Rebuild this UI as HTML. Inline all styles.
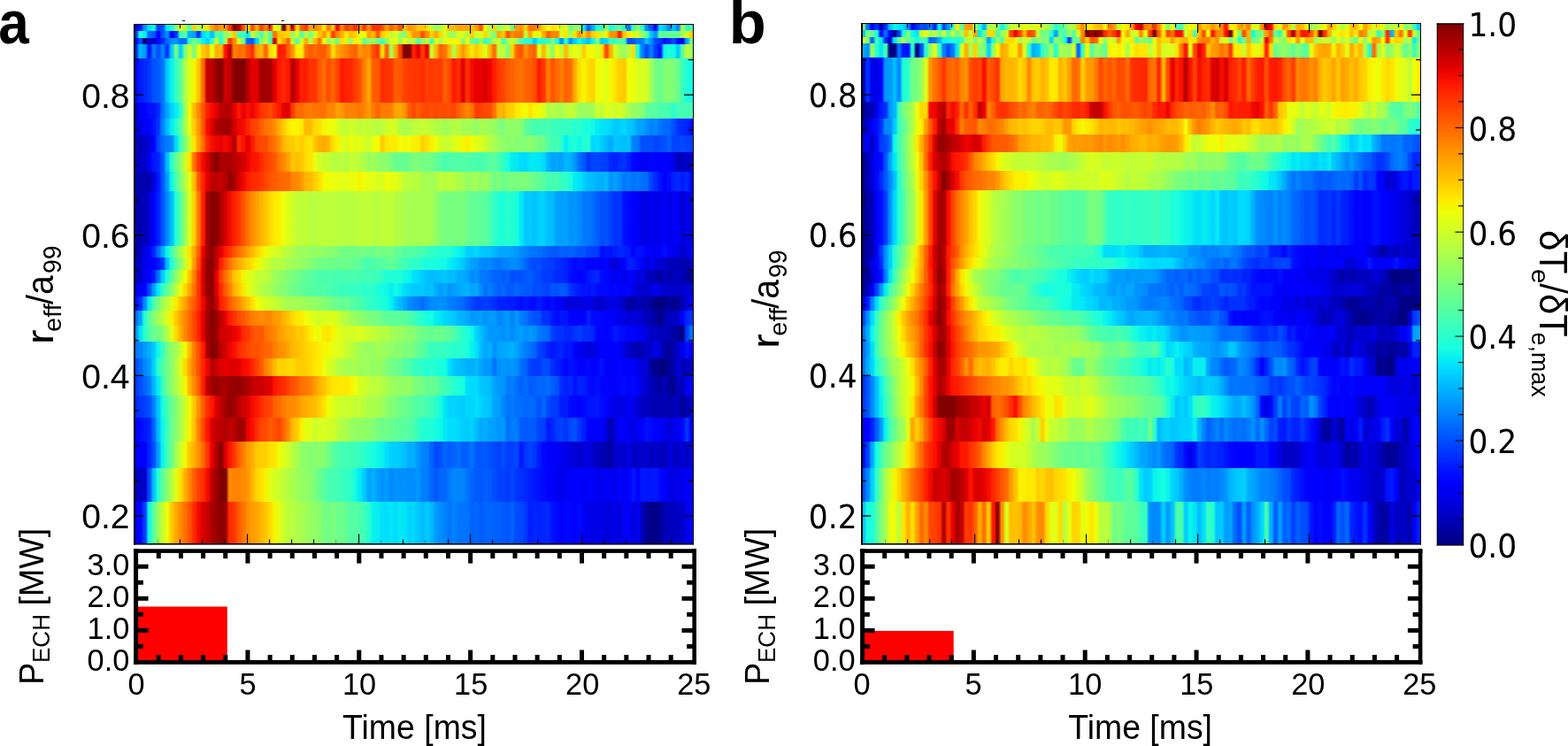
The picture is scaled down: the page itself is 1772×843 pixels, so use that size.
<!DOCTYPE html>
<html lang="en"><head><meta charset="utf-8"><title>Figure</title>
<style>
html,body{margin:0;padding:0;background:#fff}
body{width:1772px;height:843px;position:relative;overflow:hidden;font-family:"Liberation Sans",sans-serif}
.r{position:absolute}
svg{position:absolute;left:0;top:0}
svg text{font-family:"Liberation Sans",sans-serif;fill:#000}
svg text.dv{font-family:"DejaVu Sans","Liberation Sans",sans-serif}
</style></head><body>
<div class="r" style="left:151px;top:27px;width:633px;height:8px;background:linear-gradient(90deg,#0005ff 0.0px 3.5px,#0017ff 6.7px 8.5px,#0095ff 11.7px 13.6px,#00e1fa 16.8px 18.7px,#0ff8e8 21.9px 23.7px,#0042ff 26.9px 28.8px,#004fff 32.0px 33.8px,#03e9f4 37.0px 38.9px,#14fee3 42.1px 44.0px,#87ff70 47.2px 49.0px,#edff0a 52.2px 54.1px,#b7ff40 57.3px 59.2px,#4fffa8 62.4px 64.2px,#ffd000 67.4px 69.3px,#b1ff45 72.5px 74.4px,#ccff2b 77.6px 79.4px,#ffe600 82.6px 84.5px,#ffa100 87.7px 89.6px,#ff7b00 92.8px 94.6px,#ff9b00 97.8px 99.7px,#ff9700 102.9px 104.7px,#ff3700 107.9px 109.8px,#840000 113.0px 114.9px,#b80000 118.1px 119.9px,#ff4b00 123.1px 125.0px,#fcef00 128.2px 130.1px,#ff4900 133.3px 135.1px,#ffa800 138.3px 140.2px,#ff4200 143.4px 145.3px,#ff7e00 148.5px 150.3px,#ff2e00 153.5px 155.4px,#f2fb05 158.6px 160.4px,#c9ff2e 163.6px 165.5px,#800000 168.7px 170.6px,#ffb100 173.8px 175.6px,#ea0100 178.8px 180.7px,#ffe000 183.9px 185.8px,#ff5d00 189.0px 190.8px,#ff3a00 194.0px 195.9px,#ffab00 199.1px 201.0px,#ff8a00 204.2px 206.0px,#ffa000 209.2px 211.1px,#ffe500 214.3px 216.2px,#ff7700 219.4px 221.2px,#ffc000 224.4px 226.3px,#f70c00 229.5px 231.3px,#ff8500 234.5px 236.4px,#ff3e00 239.6px 241.5px,#ff5700 244.7px 246.5px,#ff2900 249.7px 251.6px,#ff8300 254.8px 256.7px,#ff3b00 259.9px 261.7px,#ff8d00 264.9px 266.8px,#ff3100 270.0px 271.9px,#ff3300 275.1px 276.9px,#ff5100 280.1px 282.0px,#ff9e00 285.2px 287.0px,#ff6100 290.2px 292.1px,#ff8700 295.3px 297.2px,#ff4800 300.4px 302.2px,#ffc100 305.4px 307.3px,#ff9800 310.5px 312.4px,#ffa200 315.6px 317.4px,#ffc500 320.6px 322.5px,#ffca00 325.7px 327.6px,#ffdd00 330.8px 332.6px,#c8ff2e 335.8px 337.7px,#94ff63 340.9px 342.8px,#adff4a 346.0px 347.8px,#e5ff12 351.0px 352.9px,#ffba00 356.1px 357.9px,#ffbb00 361.1px 363.0px,#ffa000 366.2px 368.1px,#ffa400 371.3px 373.1px,#ffa800 376.3px 378.2px,#ffc400 381.4px 383.3px,#ff9e00 386.5px 388.3px,#ff5200 391.5px 393.4px,#f2fb05 396.6px 398.5px,#adff4a 401.7px 403.5px,#ffd400 406.7px 408.6px,#9cff5b 411.8px 413.6px,#b4ff43 416.8px 418.7px,#d2ff25 421.9px 423.8px,#6aff8d 427.0px 428.8px,#ff9d00 432.0px 433.9px,#ff9500 437.1px 439.0px,#ffd200 442.2px 444.0px,#ff7200 447.2px 449.1px,#ff7a00 452.3px 454.2px,#ff9b00 457.4px 459.2px,#ffd800 462.4px 464.3px,#e6ff10 467.5px 469.4px,#ffe100 472.6px 474.4px,#faf200 477.6px 479.5px,#cbff2c 482.7px 484.5px,#f7f600 487.7px 489.6px,#64ff93 492.8px 494.7px,#91ff66 497.9px 499.7px,#89ff6d 502.9px 504.8px,#00e5f7 508.0px 509.9px,#005dff 513.1px 514.9px,#00b0ff 518.1px 520.0px,#1bffdc 523.2px 525.1px,#34ffc2 528.3px 530.1px,#8aff6d 533.3px 535.2px,#13fde4 538.4px 540.2px,#44ffb3 543.4px 545.3px,#5eff99 548.5px 550.4px,#20ffd7 553.6px 555.4px,#0072ff 558.6px 560.5px,#3bffbc 563.7px 565.6px,#8dff6a 568.8px 570.6px,#30ffc6 573.8px 575.7px,#008dff 578.9px 580.8px,#0056ff 584.0px 585.8px,#0008ff 589.0px 590.9px,#00e0fb 594.1px 596.0px,#00c7ff 599.2px 601.0px,#0089ff 604.2px 606.1px,#00c5ff 609.3px 611.1px,#0084ff 614.3px 616.2px,#a3ff53 619.4px 621.3px,#33ffc3 624.5px 626.3px,#3affbd 629.5px 633.0px)"></div>
<div class="r" style="left:151px;top:35px;width:633px;height:8px;background:linear-gradient(90deg,#003eff 0.0px 3.5px,#21ffd5 6.7px 8.5px,#08efef 11.7px 13.6px,#006bff 16.8px 18.7px,#0055ff 21.9px 23.7px,#0000ff 26.9px 28.8px,#0059ff 32.0px 33.8px,#0090ff 37.0px 38.9px,#0000f7 42.1px 44.0px,#0031ff 47.2px 49.0px,#36ffc0 52.2px 54.1px,#52ffa5 57.3px 59.2px,#00b1ff 62.4px 64.2px,#00a3ff 67.4px 69.3px,#0032ff 72.5px 74.4px,#00dbff 77.6px 79.4px,#0cf4eb 82.6px 84.5px,#00bfff 87.7px 89.6px,#4fffa8 92.8px 94.6px,#3fffb8 97.8px 99.7px,#8fff68 102.9px 104.7px,#b2ff45 107.9px 109.8px,#ffc900 113.0px 114.9px,#41ffb6 118.1px 119.9px,#3fffb8 123.1px 125.0px,#03e9f4 128.2px 130.1px,#c0ff37 133.3px 135.1px,#93ff63 138.3px 140.2px,#42ffb5 143.4px 145.3px,#b9ff3e 148.5px 150.3px,#4effa9 153.5px 155.4px,#ff7000 158.6px 160.4px,#ffc300 163.6px 165.5px,#ffcd00 168.7px 170.6px,#ffd600 173.8px 175.6px,#8aff6d 178.8px 180.7px,#d9ff1e 183.9px 185.8px,#53ffa4 189.0px 190.8px,#b5ff41 194.0px 195.9px,#79ff7e 199.1px 201.0px,#cfff28 204.2px 206.0px,#ffc500 209.2px 211.1px,#ff9700 214.3px 216.2px,#ffe000 219.4px 221.2px,#ff3e00 224.4px 226.3px,#ff8700 229.5px 231.3px,#ffad00 234.5px 236.4px,#feed00 239.6px 241.5px,#ffbc00 244.7px 246.5px,#ffce00 249.7px 251.6px,#e5ff11 254.8px 256.7px,#eaff0d 259.9px 261.7px,#ff9f00 264.9px 266.8px,#ffbb00 270.0px 271.9px,#ff5400 275.1px 276.9px,#ffcc00 280.1px 282.0px,#ffe800 285.2px 287.0px,#c1ff35 290.2px 292.1px,#daff1d 295.3px 297.2px,#9eff59 300.4px 302.2px,#7fff78 305.4px 307.3px,#ffdb00 310.5px 312.4px,#ff9700 315.6px 322.5px,#ff5100 325.7px 327.6px,#ff8a00 330.8px 332.6px,#ffd000 335.8px 337.7px,#ffa500 340.9px 342.8px,#ffda00 346.0px 347.8px,#d4ff23 351.0px 352.9px,#a5ff52 356.1px 357.9px,#95ff62 361.1px 363.0px,#d5ff22 366.2px 368.1px,#d8ff1f 371.3px 373.1px,#b4ff42 376.3px 378.2px,#ffcd00 381.4px 383.3px,#ceff29 386.5px 388.3px,#d3ff23 391.5px 393.4px,#ffda00 396.6px 398.5px,#a8ff4f 401.7px 403.5px,#7dff79 406.7px 408.6px,#ffa600 411.8px 413.6px,#ffc600 416.8px 418.7px,#ff5500 421.9px 423.8px,#ff8e00 427.0px 428.8px,#ff7900 432.0px 433.9px,#ff7500 437.1px 439.0px,#bdff3a 442.2px 444.0px,#ffa100 447.2px 449.1px,#e7ff10 452.3px 454.2px,#e4ff13 457.4px 459.2px,#ffae00 462.4px 464.3px,#ff6200 467.5px 469.4px,#ff8300 472.6px 474.4px,#ff8400 477.6px 479.5px,#d8ff1f 482.7px 484.5px,#ffe300 487.7px 489.6px,#9bff5c 492.8px 494.7px,#ffe000 497.9px 499.7px,#ff9000 502.9px 504.8px,#ffcc00 508.0px 509.9px,#ff8c00 513.1px 514.9px,#ffcd00 518.1px 520.0px,#ffe200 523.2px 525.1px,#ccff2a 528.3px 530.1px,#fbf000 533.3px 535.2px,#ff9300 538.4px 540.2px,#ff8e00 543.4px 545.3px,#ff2300 548.5px 550.4px,#ffc500 553.6px 555.4px,#ffea00 558.6px 560.5px,#e0ff16 563.7px 565.6px,#d1ff26 568.8px 570.6px,#9dff59 573.8px 575.7px,#5cff9b 578.9px 580.8px,#00c7ff 584.0px 585.8px,#008fff 589.0px 590.9px,#5fff98 594.1px 596.0px,#5aff9c 599.2px 601.0px,#68ff8f 604.2px 606.1px,#65ff92 609.3px 611.1px,#67ff8f 614.3px 616.2px,#a7ff50 619.4px 621.3px,#d3ff24 624.5px 626.3px,#ffcc00 629.5px 633.0px)"></div>
<div class="r" style="left:151px;top:43px;width:633px;height:7px;background:linear-gradient(90deg,#0007ff 0.0px 3.5px,#004cff 6.7px 8.5px,#000080 11.7px 13.6px,#0000d1 16.8px 18.7px,#0000c1 21.9px 23.7px,#0006ff 26.9px 28.8px,#0028ff 32.0px 33.8px,#0067ff 37.0px 38.9px,#0089ff 42.1px 44.0px,#0095ff 47.2px 49.0px,#006aff 52.2px 54.1px,#0070ff 57.3px 59.2px,#34ffc3 62.4px 64.2px,#6fff88 67.4px 69.3px,#47ffb0 72.5px 74.4px,#0bf3ec 77.6px 79.4px,#00d4ff 82.6px 84.5px,#2dffca 87.7px 89.6px,#d1ff26 92.8px 94.6px,#1fffd7 97.8px 99.7px,#a5ff51 102.9px 104.7px,#ff3500 107.9px 109.8px,#ff8b00 113.0px 114.9px,#dbff1c 118.1px 119.9px,#79ff7e 123.1px 125.0px,#0063ff 128.2px 130.1px,#005bff 133.3px 135.1px,#00d4ff 138.3px 140.2px,#89ff6e 143.4px 145.3px,#bfff38 148.5px 150.3px,#50ffa6 153.5px 155.4px,#c50000 158.6px 160.4px,#ffda00 163.6px 165.5px,#ffa800 168.7px 170.6px,#ff6400 173.8px 175.6px,#c3ff34 178.8px 180.7px,#51ffa6 183.9px 185.8px,#d2ff25 189.0px 190.8px,#ffaa00 194.0px 195.9px,#b2ff45 199.1px 201.0px,#ffbc00 204.2px 206.0px,#ff6a00 209.2px 211.1px,#ebff0c 214.3px 216.2px,#97ff60 219.4px 221.2px,#b6ff40 224.4px 226.3px,#70ff87 229.5px 231.3px,#ffdf00 234.5px 236.4px,#d5ff21 239.6px 241.5px,#96ff61 244.7px 246.5px,#fbf100 249.7px 251.6px,#dcff1b 254.8px 256.7px,#5fff98 259.9px 261.7px,#95ff62 264.9px 266.8px,#97ff60 270.0px 271.9px,#70ff87 275.1px 276.9px,#47ffb0 280.1px 282.0px,#8aff6d 285.2px 287.0px,#dfff18 290.2px 292.1px,#e6ff11 295.3px 297.2px,#98ff5e 300.4px 302.2px,#edff0a 305.4px 307.3px,#b1ff46 310.5px 312.4px,#b8ff3f 315.6px 317.4px,#52ffa5 320.6px 322.5px,#89ff6e 325.7px 327.6px,#bfff37 330.8px 332.6px,#4dffaa 335.8px 337.7px,#ddff1a 340.9px 342.8px,#abff4c 346.0px 347.8px,#e6ff11 351.0px 352.9px,#f2fb05 356.1px 357.9px,#f5f802 361.1px 363.0px,#faf200 366.2px 368.1px,#80ff77 371.3px 373.1px,#ebff0c 376.3px 378.2px,#6eff89 381.4px 383.3px,#4effa9 386.5px 388.3px,#a3ff54 391.5px 393.4px,#38ffbe 396.6px 398.5px,#63ff94 401.7px 403.5px,#b7ff40 406.7px 408.6px,#cfff28 411.8px 413.6px,#3fffb8 416.8px 418.7px,#9dff5a 421.9px 423.8px,#ceff29 427.0px 428.8px,#97ff60 432.0px 433.9px,#51ffa6 437.1px 439.0px,#24ffd2 442.2px 444.0px,#23ffd4 447.2px 449.1px,#00ccff 452.3px 454.2px,#1dffd9 457.4px 459.2px,#2effc9 462.4px 464.3px,#39ffbe 467.5px 469.4px,#7aff7d 472.6px 474.4px,#1effd9 477.6px 479.5px,#0094ff 482.7px 484.5px,#29ffce 487.7px 489.6px,#0094ff 492.8px 494.7px,#00d0ff 497.9px 499.7px,#10fae7 502.9px 504.8px,#00e1fa 508.0px 509.9px,#00c0ff 513.1px 514.9px,#0cf4eb 518.1px 520.0px,#85ff72 523.2px 525.1px,#00cbff 528.3px 530.1px,#00daff 533.3px 535.2px,#3fffb7 538.4px 540.2px,#33ffc4 543.4px 545.3px,#55ffa2 548.5px 550.4px,#48ffaf 553.6px 555.4px,#004bff 558.6px 560.5px,#0053ff 563.7px 565.6px,#0077ff 568.8px 570.6px,#0079ff 573.8px 575.7px,#00c2ff 578.9px 580.8px,#008fff 584.0px 585.8px,#0049ff 589.0px 590.9px,#003bff 594.1px 596.0px,#000eff 599.2px 601.0px,#0026ff 604.2px 606.1px,#004bff 609.3px 611.1px,#000aff 614.3px 616.2px,#0000f4 619.4px 621.3px,#00a2ff 624.5px 626.3px,#6dff8a 629.5px 633.0px)"></div>
<div class="r" style="left:151px;top:50px;width:633px;height:16px;background:linear-gradient(90deg,#002aff 0.0px 3.5px,#00b9ff 6.7px 8.5px,#009bff 11.7px 13.6px,#0012ff 16.8px 18.7px,#007cff 21.9px 23.7px,#004bff 26.9px 28.8px,#0084ff 32.0px 33.8px,#0032ff 37.0px 38.9px,#00cbff 42.1px 44.0px,#78ff7f 47.2px 49.0px,#00d0ff 52.2px 54.1px,#76ff81 57.3px 59.2px,#d3ff24 62.4px 64.2px,#74ff83 67.4px 69.3px,#ebff0c 72.5px 74.4px,#ffc900 77.6px 79.4px,#ffb100 82.6px 84.5px,#e7ff10 87.7px 89.6px,#ffb000 92.8px 94.6px,#ffb900 97.8px 99.7px,#fe1200 102.9px 104.7px,#bc0000 107.9px 109.8px,#ff8100 113.0px 114.9px,#ff6f00 118.1px 119.9px,#ff7300 123.1px 125.0px,#ff4d00 128.2px 130.1px,#ff2d00 133.3px 135.1px,#ffa000 138.3px 140.2px,#ffb100 143.4px 145.3px,#ff6500 148.5px 150.3px,#ffd600 153.5px 155.4px,#f3fa04 158.6px 160.4px,#ff1800 163.6px 165.5px,#ff1f00 168.7px 170.6px,#ff5e00 173.8px 175.6px,#ff9500 178.8px 180.7px,#feed00 183.9px 185.8px,#faf200 189.0px 190.8px,#ff6e00 194.0px 195.9px,#ff5a00 199.1px 201.0px,#ff6700 204.2px 206.0px,#ff5c00 209.2px 211.1px,#ff5900 214.3px 216.2px,#ff7c00 219.4px 221.2px,#ffde00 224.4px 226.3px,#ffa600 229.5px 231.3px,#ff9300 234.5px 236.4px,#ff8000 239.6px 241.5px,#ff6c00 244.7px 246.5px,#ff6100 249.7px 251.6px,#ff9800 254.8px 256.7px,#ff8000 259.9px 261.7px,#ff8b00 264.9px 266.8px,#ff4f00 270.0px 271.9px,#ff3200 275.1px 276.9px,#ffdf00 280.1px 282.0px,#ff5a00 285.2px 287.0px,#a7ff50 290.2px 292.1px,#ffae00 295.3px 297.2px,#ff4000 300.4px 302.2px,#800000 305.4px 312.4px,#ff2100 315.6px 317.4px,#e40000 320.6px 322.5px,#ff3800 325.7px 327.6px,#e30000 330.8px 332.6px,#c8ff2e 335.8px 337.7px,#ffb700 340.9px 342.8px,#ff6000 346.0px 347.8px,#ff7100 351.0px 352.9px,#ffbb00 356.1px 357.9px,#b0ff47 361.1px 363.0px,#ffc700 366.2px 368.1px,#ff9700 371.3px 373.1px,#ffc200 376.3px 378.2px,#ffe700 381.4px 383.3px,#ffca00 386.5px 388.3px,#ffe100 391.5px 393.4px,#deff18 396.6px 398.5px,#ffb700 401.7px 403.5px,#ff6b00 406.7px 408.6px,#c1ff36 411.8px 413.6px,#c2ff35 416.8px 418.7px,#7eff79 421.9px 423.8px,#ffd500 427.0px 428.8px,#ff6800 432.0px 433.9px,#ff5300 437.1px 439.0px,#ff9000 442.2px 444.0px,#ff7000 447.2px 449.1px,#ff6000 452.3px 454.2px,#ddff1a 457.4px 459.2px,#ffb800 462.4px 464.3px,#ccff2b 467.5px 469.4px,#8fff68 472.6px 474.4px,#f4f903 477.6px 479.5px,#c0ff36 482.7px 484.5px,#ffbb00 487.7px 489.6px,#d1ff26 492.8px 494.7px,#ecff0b 497.9px 499.7px,#d7ff20 502.9px 504.8px,#ffce00 508.0px 509.9px,#f1fc05 513.1px 514.9px,#f4f802 518.1px 520.0px,#d1ff25 523.2px 525.1px,#ffe500 528.3px 530.1px,#ff4800 533.3px 535.2px,#ffb400 538.4px 540.2px,#d7ff20 543.4px 545.3px,#aeff48 548.5px 550.4px,#95ff62 553.6px 555.4px,#b8ff3f 558.6px 560.5px,#ffde00 563.7px 565.6px,#1effd9 568.8px 570.6px,#0084ff 573.8px 575.7px,#0049ff 578.9px 580.8px,#0080ff 584.0px 585.8px,#003aff 589.0px 590.9px,#0016ff 594.1px 596.0px,#0cf4eb 599.2px 601.0px,#1dffda 604.2px 606.1px,#15ffe2 609.3px 611.1px,#00cbff 614.3px 616.2px,#59ff9e 619.4px 621.3px,#bfff38 624.5px 626.3px,#9cff5b 629.5px 633.0px)"></div>
<div class="r" style="left:151px;top:66px;width:633px;height:50px;background:linear-gradient(90deg,#0007ff 0.0px 3.5px,#001aff 6.7px 8.5px,#0029ff 11.7px 13.6px,#0036ff 16.8px 18.7px,#0052ff 21.9px 23.7px,#0059ff 26.9px 28.8px,#0075ff 32.0px 33.8px,#00caff 37.0px 38.9px,#0af2ed 42.1px 44.0px,#33ffc4 47.2px 49.0px,#5dff9a 52.2px 54.1px,#aaff4c 57.3px 59.2px,#ddff1a 62.4px 64.2px,#f5f701 67.4px 69.3px,#ffc700 72.5px 74.4px,#ff6800 77.6px 79.4px,#c10000 82.6px 84.5px,#bb0000 87.7px 89.6px,#990000 92.8px 94.6px,#800000 97.8px 99.7px,#cf0000 102.9px 104.7px,#bf0000 107.9px 109.8px,#870000 113.0px 114.9px,#800000 118.1px 125.0px,#b40000 128.2px 130.1px,#e50000 133.3px 135.1px,#e20000 138.3px 140.2px,#a10000 143.4px 145.3px,#a00000 148.5px 150.3px,#a70000 153.5px 155.4px,#e20000 158.6px 160.4px,#ff1800 163.6px 165.5px,#ff2700 168.7px 170.6px,#ff1800 173.8px 175.6px,#b50000 178.8px 180.7px,#e60000 183.9px 185.8px,#ff2000 189.0px 190.8px,#ff1c00 194.0px 195.9px,#ff3500 199.1px 201.0px,#ff3200 204.2px 206.0px,#ff5600 209.2px 211.1px,#ff6d00 214.3px 216.2px,#ff4c00 219.4px 221.2px,#ff6400 224.4px 226.3px,#ff4600 229.5px 231.3px,#ff1800 234.5px 236.4px,#ff2300 239.6px 241.5px,#ff2600 244.7px 246.5px,#ff3c00 249.7px 251.6px,#ff5000 254.8px 256.7px,#ff8000 259.9px 261.7px,#ffa700 264.9px 266.8px,#ff5d00 270.0px 271.9px,#ff5a00 275.1px 276.9px,#ff2d00 280.1px 282.0px,#ff3200 285.2px 287.0px,#ff3400 290.2px 292.1px,#ff5c00 295.3px 297.2px,#ff5a00 300.4px 302.2px,#ff4200 305.4px 307.3px,#ff3b00 310.5px 312.4px,#ff3500 315.6px 322.5px,#ff2d00 325.7px 327.6px,#ff3f00 330.8px 332.6px,#ff3800 335.8px 337.7px,#ff3e00 340.9px 342.8px,#ff3800 346.0px 347.8px,#ff6000 351.0px 352.9px,#ff4800 356.1px 357.9px,#ff1800 361.1px 363.0px,#ff2c00 366.2px 368.1px,#e30000 371.3px 373.1px,#ff3100 376.3px 378.2px,#f40a00 381.4px 383.3px,#e60000 386.5px 388.3px,#e90100 391.5px 393.4px,#dd0000 396.6px 398.5px,#ed0400 401.7px 403.5px,#ff1d00 406.7px 408.6px,#ff3900 411.8px 413.6px,#ff4500 416.8px 418.7px,#ff5a00 421.9px 423.8px,#ff6200 427.0px 428.8px,#ff6c00 432.0px 433.9px,#ff7400 437.1px 439.0px,#ff6300 442.2px 444.0px,#ff5f00 447.2px 449.1px,#ff4e00 452.3px 454.2px,#ff1900 457.4px 459.2px,#ff3600 462.4px 464.3px,#ff7b00 467.5px 469.4px,#ff5500 472.6px 474.4px,#ff6700 477.6px 479.5px,#ff8000 482.7px 484.5px,#ff6100 487.7px 489.6px,#ff6f00 492.8px 494.7px,#ffad00 497.9px 499.7px,#ffdf00 502.9px 504.8px,#f7f500 508.0px 509.9px,#ffdd00 513.1px 514.9px,#ffd400 518.1px 520.0px,#f2fb05 523.2px 525.1px,#eeff09 528.3px 530.1px,#e1ff15 533.3px 535.2px,#f5f802 538.4px 540.2px,#ffe400 543.4px 545.3px,#ffcf00 548.5px 550.4px,#ffc900 553.6px 555.4px,#f0fe07 558.6px 560.5px,#eeff09 563.7px 565.6px,#d8ff1f 568.8px 570.6px,#d9ff1e 573.8px 575.7px,#d3ff24 578.9px 580.8px,#a0ff57 584.0px 585.8px,#77ff7f 589.0px 590.9px,#68ff8f 594.1px 596.0px,#81ff76 599.2px 601.0px,#85ff72 604.2px 606.1px,#7dff7a 609.3px 611.1px,#6cff8b 614.3px 616.2px,#39ffbe 619.4px 621.3px,#1effd9 624.5px 626.3px,#13fde4 629.5px 633.0px)"></div>
<div class="r" style="left:151px;top:116px;width:633px;height:18px;background:linear-gradient(90deg,#0000bf 0.0px 3.5px,#0000f6 6.7px 8.5px,#0001ff 11.7px 13.6px,#000fff 16.8px 18.7px,#0010ff 21.9px 23.7px,#0026ff 26.9px 28.8px,#0074ff 32.0px 33.8px,#00a3ff 37.0px 38.9px,#00d3ff 42.1px 44.0px,#05ecf1 47.2px 49.0px,#2cffca 52.2px 54.1px,#9aff5d 57.3px 59.2px,#f4f903 62.4px 64.2px,#ffbc00 67.4px 69.3px,#ff8700 72.5px 74.4px,#ff5700 77.6px 79.4px,#ff2000 82.6px 84.5px,#f60b00 87.7px 89.6px,#e70000 92.8px 94.6px,#bb0000 97.8px 99.7px,#b40000 102.9px 104.7px,#b70000 107.9px 109.8px,#e20000 113.0px 114.9px,#ff1500 118.1px 119.9px,#e80000 123.1px 125.0px,#fb1000 128.2px 130.1px,#ed0400 133.3px 135.1px,#ff1600 138.3px 140.2px,#ff3500 143.4px 145.3px,#ff3e00 148.5px 150.3px,#ff4a00 153.5px 155.4px,#ff3200 158.6px 160.4px,#ff1900 163.6px 165.5px,#e60000 168.7px 170.6px,#dc0000 173.8px 175.6px,#ff3800 178.8px 180.7px,#ff6a00 183.9px 190.8px,#ff7800 194.0px 195.9px,#ff7a00 199.1px 201.0px,#ff7500 204.2px 206.0px,#ff7300 209.2px 211.1px,#ff7000 214.3px 216.2px,#ff8700 219.4px 221.2px,#ff8500 224.4px 226.3px,#ff9f00 229.5px 231.3px,#ff9800 234.5px 236.4px,#ff8000 239.6px 241.5px,#ff8200 244.7px 246.5px,#ff8000 249.7px 251.6px,#ff7800 254.8px 256.7px,#ff8600 259.9px 261.7px,#ff9900 264.9px 266.8px,#ff7b00 270.0px 271.9px,#ff6400 275.1px 276.9px,#ff7b00 280.1px 282.0px,#ff7900 285.2px 287.0px,#ff7f00 290.2px 292.1px,#ffa400 295.3px 297.2px,#ffa700 300.4px 302.2px,#ff9500 305.4px 307.3px,#ff5d00 310.5px 312.4px,#ff4800 315.6px 317.4px,#ff5e00 320.6px 322.5px,#ff4c00 325.7px 327.6px,#ff4800 330.8px 332.6px,#ff5000 335.8px 337.7px,#ff4600 340.9px 342.8px,#ff4e00 346.0px 347.8px,#ff4a00 351.0px 352.9px,#ff4e00 356.1px 357.9px,#ff4600 361.1px 363.0px,#ff5e00 366.2px 368.1px,#ff7100 371.3px 373.1px,#ff8600 376.3px 378.2px,#ff7200 381.4px 383.3px,#ff3b00 386.5px 388.3px,#ff4100 391.5px 393.4px,#ff4a00 396.6px 398.5px,#ff4c00 401.7px 403.5px,#ff7400 406.7px 408.6px,#ffba00 411.8px 413.6px,#ffaf00 416.8px 418.7px,#ffce00 421.9px 423.8px,#ffd100 427.0px 428.8px,#ffe900 432.0px 433.9px,#fbf100 437.1px 439.0px,#f1fc06 442.2px 444.0px,#ffe300 447.2px 449.1px,#f6f701 452.3px 454.2px,#eeff09 457.4px 459.2px,#e1ff16 462.4px 464.3px,#b0ff46 467.5px 469.4px,#b5ff42 472.6px 474.4px,#aeff49 477.6px 479.5px,#a7ff50 482.7px 484.5px,#b8ff3f 487.7px 489.6px,#c4ff32 492.8px 494.7px,#baff3c 497.9px 499.7px,#96ff61 502.9px 504.8px,#9cff5b 508.0px 509.9px,#9dff5a 513.1px 514.9px,#9eff58 518.1px 520.0px,#cbff2c 523.2px 525.1px,#bdff39 528.3px 530.1px,#ddff1a 533.3px 535.2px,#d8ff1f 538.4px 540.2px,#caff2d 543.4px 545.3px,#daff1d 548.5px 550.4px,#beff39 553.6px 555.4px,#abff4c 558.6px 560.5px,#94ff62 563.7px 565.6px,#92ff65 568.8px 570.6px,#85ff71 573.8px 575.7px,#60ff96 578.9px 580.8px,#5aff9d 584.0px 585.8px,#55ffa1 589.0px 590.9px,#4cffaa 594.1px 596.0px,#48ffae 599.2px 601.0px,#45ffb1 604.2px 606.1px,#2bffcc 609.3px 611.1px,#44ffb3 614.3px 616.2px,#44ffb2 619.4px 621.3px,#42ffb5 624.5px 626.3px,#47ffb0 629.5px 633.0px)"></div>
<div class="r" style="left:151px;top:134px;width:633px;height:19px;background:linear-gradient(90deg,#0000cb 0.0px 3.5px,#0000e7 6.7px 8.5px,#0000f7 11.7px 13.6px,#0000ff 16.8px 18.7px,#0013ff 21.9px 23.7px,#0032ff 26.9px 28.8px,#0085ff 32.0px 33.8px,#00bdff 37.0px 38.9px,#06edf0 42.1px 44.0px,#22ffd4 47.2px 49.0px,#56ffa1 52.2px 54.1px,#a0ff56 57.3px 59.2px,#e6ff11 62.4px 64.2px,#ffcc00 67.4px 69.3px,#ff9900 72.5px 74.4px,#ff5700 77.6px 79.4px,#f70c00 82.6px 84.5px,#de0000 87.7px 89.6px,#ad0000 92.8px 94.6px,#a40000 97.8px 99.7px,#9d0000 102.9px 104.7px,#a50000 107.9px 109.8px,#d40000 113.0px 114.9px,#f00700 118.1px 119.9px,#f40a00 123.1px 125.0px,#ff2300 128.2px 130.1px,#ff3e00 133.3px 135.1px,#ff4700 138.3px 140.2px,#ff5d00 143.4px 145.3px,#ff7200 148.5px 150.3px,#ff7a00 153.5px 155.4px,#ff8e00 158.6px 160.4px,#ffae00 163.6px 165.5px,#ffca00 168.7px 170.6px,#ffea00 173.8px 175.6px,#f4f903 178.8px 180.7px,#f9f300 183.9px 185.8px,#ffea00 189.0px 190.8px,#ffb800 194.0px 195.9px,#ffbd00 199.1px 201.0px,#ffde00 204.2px 206.0px,#ffe000 209.2px 211.1px,#f4f903 214.3px 216.2px,#eeff09 219.4px 221.2px,#ecff0a 224.4px 226.3px,#dbff1c 229.5px 231.3px,#c5ff32 234.5px 236.4px,#c6ff30 239.6px 241.5px,#d1ff26 244.7px 246.5px,#caff2d 249.7px 251.6px,#bcff3b 254.8px 256.7px,#c7ff30 259.9px 261.7px,#c0ff36 264.9px 266.8px,#bcff3b 270.0px 271.9px,#b6ff40 275.1px 276.9px,#bcff3b 280.1px 282.0px,#cbff2c 285.2px 287.0px,#d9ff1d 290.2px 292.1px,#ceff28 295.3px 297.2px,#b3ff43 300.4px 302.2px,#a9ff4e 305.4px 307.3px,#afff48 310.5px 312.4px,#bdff3a 315.6px 317.4px,#beff39 320.6px 322.5px,#c7ff30 325.7px 327.6px,#c4ff33 330.8px 332.6px,#bbff3c 335.8px 337.7px,#aeff48 340.9px 342.8px,#aeff49 346.0px 347.8px,#9fff58 351.0px 352.9px,#a8ff4f 356.1px 357.9px,#b5ff42 361.1px 368.1px,#a2ff55 371.3px 373.1px,#a3ff54 376.3px 378.2px,#a1ff56 381.4px 383.3px,#8eff69 386.5px 388.3px,#aaff4d 391.5px 393.4px,#a2ff54 396.6px 398.5px,#9aff5d 401.7px 403.5px,#99ff5e 406.7px 408.6px,#83ff74 411.8px 413.6px,#7aff7d 416.8px 418.7px,#94ff63 421.9px 423.8px,#8eff69 427.0px 428.8px,#90ff67 432.0px 433.9px,#84ff72 437.1px 439.0px,#5fff97 442.2px 444.0px,#51ffa5 447.2px 449.1px,#40ffb7 452.3px 454.2px,#48ffaf 457.4px 459.2px,#42ffb5 462.4px 464.3px,#49ffae 467.5px 469.4px,#3bffbb 472.6px 474.4px,#3affbc 477.6px 479.5px,#35ffc2 482.7px 484.5px,#32ffc5 487.7px 489.6px,#35ffc1 492.8px 494.7px,#21ffd6 497.9px 499.7px,#2dffc9 502.9px 504.8px,#1cffdb 508.0px 509.9px,#17ffe0 513.1px 514.9px,#10fae6 518.1px 520.0px,#05ecf1 523.2px 525.1px,#00e4f8 528.3px 530.1px,#00dffc 533.3px 535.2px,#00d8ff 538.4px 540.2px,#00c9ff 543.4px 545.3px,#00cfff 548.5px 550.4px,#00d7ff 553.6px 555.4px,#00c8ff 558.6px 560.5px,#00c0ff 563.7px 565.6px,#00a5ff 568.8px 570.6px,#00a3ff 573.8px 575.7px,#0092ff 578.9px 580.8px,#0082ff 584.0px 585.8px,#008bff 589.0px 590.9px,#0073ff 594.1px 596.0px,#0069ff 599.2px 606.1px,#004fff 609.3px 611.1px,#0033ff 614.3px 616.2px,#002aff 619.4px 621.3px,#0022ff 624.5px 626.3px,#000aff 629.5px 633.0px)"></div>
<div class="r" style="left:151px;top:153px;width:633px;height:19px;background:linear-gradient(90deg,#0000b4 0.0px 3.5px,#0000b9 6.7px 8.5px,#0000c4 11.7px 13.6px,#0000db 16.8px 18.7px,#0000ff 21.9px 23.7px,#0046ff 26.9px 28.8px,#0069ff 32.0px 33.8px,#007aff 37.0px 38.9px,#0089ff 42.1px 44.0px,#00ddfd 47.2px 49.0px,#3dffba 52.2px 54.1px,#7eff79 57.3px 59.2px,#c9ff2d 62.4px 64.2px,#ffe600 67.4px 69.3px,#ffa400 72.5px 74.4px,#ff6b00 77.6px 79.4px,#ff2700 82.6px 84.5px,#f70c00 87.7px 89.6px,#ee0500 92.8px 94.6px,#e70000 97.8px 99.7px,#f30900 102.9px 104.7px,#e70000 107.9px 109.8px,#b10000 113.0px 114.9px,#ff2c00 118.1px 119.9px,#fd1200 123.1px 125.0px,#e00000 128.2px 130.1px,#ff1600 133.3px 135.1px,#ff3e00 138.3px 140.2px,#ff4a00 143.4px 145.3px,#ff4800 148.5px 150.3px,#ff6600 153.5px 155.4px,#ff7500 158.6px 160.4px,#ff8e00 163.6px 165.5px,#ffb600 168.7px 170.6px,#ffc700 173.8px 175.6px,#ffca00 178.8px 180.7px,#ffda00 183.9px 185.8px,#ffca00 189.0px 190.8px,#ffde00 194.0px 195.9px,#ffe700 199.1px 201.0px,#ffc300 204.2px 206.0px,#ffb100 209.2px 211.1px,#ffac00 214.3px 216.2px,#ffb800 219.4px 221.2px,#ffdf00 224.4px 226.3px,#f9f300 229.5px 231.3px,#e5ff12 234.5px 236.4px,#d4ff23 239.6px 241.5px,#f2fa04 244.7px 246.5px,#dcff1b 249.7px 251.6px,#e6ff11 254.8px 256.7px,#d5ff22 259.9px 261.7px,#caff2d 264.9px 266.8px,#edff09 270.0px 271.9px,#f2fc05 275.1px 276.9px,#ffcd00 280.1px 282.0px,#ffe700 285.2px 287.0px,#feed00 290.2px 292.1px,#ffeb00 295.3px 297.2px,#f0fe07 300.4px 302.2px,#f4f903 305.4px 307.3px,#f0fd07 310.5px 312.4px,#fcf000 315.6px 317.4px,#fdee00 320.6px 322.5px,#ffd200 325.7px 327.6px,#ffe000 330.8px 332.6px,#fbf100 335.8px 337.7px,#eeff09 340.9px 342.8px,#d3ff23 346.0px 347.8px,#c9ff2e 351.0px 352.9px,#c8ff2f 356.1px 357.9px,#deff19 361.1px 363.0px,#e5ff11 366.2px 368.1px,#f3fa04 371.3px 373.1px,#fcef00 376.3px 378.2px,#effe07 381.4px 383.3px,#e3ff14 386.5px 388.3px,#dcff1b 391.5px 393.4px,#caff2d 396.6px 398.5px,#b9ff3e 401.7px 403.5px,#a5ff52 406.7px 408.6px,#99ff5e 411.8px 413.6px,#8fff68 416.8px 418.7px,#8aff6d 421.9px 423.8px,#8cff6b 427.0px 428.8px,#85ff71 432.0px 433.9px,#86ff71 437.1px 439.0px,#7fff78 442.2px 444.0px,#8dff69 447.2px 449.1px,#80ff76 452.3px 454.2px,#70ff87 457.4px 459.2px,#74ff83 462.4px 464.3px,#50ffa7 467.5px 469.4px,#41ffb6 472.6px 474.4px,#4affad 477.6px 479.5px,#29ffce 482.7px 484.5px,#05ecf2 487.7px 489.6px,#19ffde 492.8px 494.7px,#1fffd8 497.9px 499.7px,#0ff8e8 502.9px 504.8px,#25ffd1 508.0px 509.9px,#27ffd0 513.1px 514.9px,#00d7ff 518.1px 520.0px,#00ddfe 523.2px 525.1px,#00cdff 528.3px 530.1px,#00bbff 533.3px 535.2px,#00a9ff 538.4px 540.2px,#00c5ff 543.4px 545.3px,#00c2ff 548.5px 550.4px,#00bdff 553.6px 555.4px,#00c5ff 558.6px 560.5px,#0080ff 563.7px 565.6px,#007aff 568.8px 570.6px,#004fff 573.8px 575.7px,#004eff 578.9px 580.8px,#0051ff 584.0px 585.8px,#0044ff 589.0px 590.9px,#004aff 594.1px 596.0px,#0051ff 599.2px 601.0px,#0061ff 604.2px 606.1px,#0043ff 609.3px 611.1px,#0041ff 614.3px 616.2px,#0049ff 619.4px 621.3px,#0040ff 624.5px 626.3px,#003eff 629.5px 633.0px)"></div>
<div class="r" style="left:151px;top:172px;width:633px;height:22px;background:linear-gradient(90deg,#0000b4 0.0px 3.5px,#0000c9 6.7px 8.5px,#0000c5 11.7px 13.6px,#0000f6 16.8px 18.7px,#0016ff 21.9px 23.7px,#0022ff 26.9px 28.8px,#0057ff 32.0px 33.8px,#00bdff 37.0px 38.9px,#2cffca 42.1px 44.0px,#61ff96 47.2px 49.0px,#92ff65 52.2px 54.1px,#cbff2c 57.3px 59.2px,#ffe700 62.4px 64.2px,#ff7200 67.4px 69.3px,#ff3400 72.5px 74.4px,#f30900 77.6px 79.4px,#d20000 82.6px 84.5px,#a40000 87.7px 89.6px,#850000 92.8px 94.6px,#ab0000 97.8px 99.7px,#ac0000 102.9px 104.7px,#a60000 107.9px 109.8px,#b80000 113.0px 114.9px,#c60000 118.1px 119.9px,#d00000 123.1px 125.0px,#ec0300 128.2px 130.1px,#fd1200 133.3px 135.1px,#ff1400 138.3px 140.2px,#ff2900 143.4px 145.3px,#ff3e00 148.5px 150.3px,#ff4900 153.5px 155.4px,#ff5700 158.6px 160.4px,#ff7700 163.6px 165.5px,#ff8a00 168.7px 170.6px,#ffa100 173.8px 175.6px,#ffc500 178.8px 180.7px,#ffbe00 183.9px 185.8px,#ffc900 189.0px 190.8px,#ffdd00 194.0px 195.9px,#ffe400 199.1px 201.0px,#e8ff0f 204.2px 206.0px,#d2ff25 209.2px 211.1px,#c5ff32 214.3px 216.2px,#c9ff2d 219.4px 221.2px,#b4ff43 224.4px 226.3px,#b8ff3f 229.5px 231.3px,#bdff3a 234.5px 236.4px,#b0ff47 239.6px 241.5px,#c5ff31 244.7px 246.5px,#c0ff37 249.7px 251.6px,#b6ff41 254.8px 256.7px,#adff49 259.9px 261.7px,#99ff5e 264.9px 266.8px,#a1ff56 270.0px 271.9px,#91ff66 275.1px 276.9px,#8fff68 280.1px 282.0px,#8bff6b 285.2px 287.0px,#77ff7f 290.2px 292.1px,#69ff8d 295.3px 297.2px,#66ff91 300.4px 302.2px,#67ff90 305.4px 307.3px,#6bff8c 310.5px 312.4px,#7eff79 315.6px 317.4px,#7cff7b 320.6px 322.5px,#74ff83 325.7px 332.6px,#6fff88 335.8px 337.7px,#62ff95 340.9px 342.8px,#56ffa1 346.0px 347.8px,#49ffae 351.0px 352.9px,#4bffac 356.1px 357.9px,#52ffa4 361.1px 363.0px,#4effa9 366.2px 368.1px,#53ffa4 371.3px 373.1px,#4effa9 376.3px 383.3px,#4affad 386.5px 388.3px,#46ffb0 391.5px 393.4px,#4dffaa 396.6px 398.5px,#55ffa2 401.7px 403.5px,#5eff99 406.7px 408.6px,#46ffb1 411.8px 413.6px,#37ffc0 416.8px 418.7px,#15ffe2 421.9px 423.8px,#05ebf2 427.0px 428.8px,#03e9f4 432.0px 433.9px,#00dbff 437.1px 439.0px,#00daff 442.2px 444.0px,#02e8f5 447.2px 454.2px,#00e6f6 457.4px 459.2px,#00dbff 462.4px 464.3px,#00b5ff 467.5px 469.4px,#00a3ff 472.6px 474.4px,#00a6ff 477.6px 479.5px,#00a2ff 482.7px 484.5px,#00b8ff 487.7px 489.6px,#00aeff 492.8px 494.7px,#0096ff 497.9px 499.7px,#006dff 502.9px 504.8px,#0058ff 508.0px 509.9px,#0032ff 513.1px 514.9px,#0043ff 518.1px 520.0px,#0044ff 523.2px 525.1px,#003fff 528.3px 530.1px,#003dff 533.3px 535.2px,#0027ff 538.4px 540.2px,#0020ff 543.4px 545.3px,#002cff 548.5px 550.4px,#0033ff 553.6px 555.4px,#001eff 558.6px 560.5px,#0007ff 563.7px 565.6px,#0000ff 568.8px 570.6px,#0000f7 573.8px 575.7px,#0000f0 578.9px 580.8px,#0003ff 584.0px 585.8px,#0000ff 589.0px 601.0px,#0000fa 604.2px 606.1px,#0000ea 609.3px 611.1px,#0000ba 614.3px 616.2px,#0000c1 619.4px 621.3px,#0000cd 624.5px 626.3px,#0000c3 629.5px 633.0px)"></div>
<div class="r" style="left:151px;top:194px;width:633px;height:22px;background:linear-gradient(90deg,#0000ac 0.0px 3.5px,#0000af 6.7px 8.5px,#0000ae 11.7px 13.6px,#0000ad 16.8px 18.7px,#0000de 21.9px 23.7px,#0014ff 26.9px 28.8px,#0058ff 32.0px 33.8px,#009eff 37.0px 38.9px,#0ef7e9 42.1px 44.0px,#4cffab 47.2px 49.0px,#7dff7a 52.2px 54.1px,#b4ff43 57.3px 59.2px,#e4ff12 62.4px 64.2px,#ffbe00 67.4px 69.3px,#ff5a00 72.5px 74.4px,#ff2000 77.6px 79.4px,#e40000 82.6px 84.5px,#c00000 87.7px 89.6px,#bc0000 92.8px 94.6px,#c60000 97.8px 99.7px,#b40000 102.9px 104.7px,#8e0000 107.9px 109.8px,#ab0000 113.0px 114.9px,#d40000 118.1px 119.9px,#ef0600 123.1px 125.0px,#ff1a00 128.2px 130.1px,#ff2900 133.3px 135.1px,#ff2d00 138.3px 140.2px,#ff3500 143.4px 145.3px,#ff4300 148.5px 150.3px,#ff5400 153.5px 155.4px,#ff5c00 158.6px 160.4px,#ff6500 163.6px 165.5px,#ff6800 168.7px 170.6px,#ff6b00 173.8px 175.6px,#ff8200 178.8px 180.7px,#ff8900 183.9px 185.8px,#ff9a00 189.0px 190.8px,#ffb400 194.0px 195.9px,#ffba00 199.1px 201.0px,#ffce00 204.2px 206.0px,#ffe100 209.2px 211.1px,#f2fb05 214.3px 216.2px,#edff09 219.4px 221.2px,#ecff0b 224.4px 226.3px,#e8ff0f 229.5px 231.3px,#e3ff14 234.5px 236.4px,#e4ff12 239.6px 241.5px,#e8ff0f 244.7px 246.5px,#ebff0b 249.7px 251.6px,#f8f400 254.8px 256.7px,#effe08 259.9px 261.7px,#e3ff13 264.9px 266.8px,#e3ff14 270.0px 271.9px,#d8ff1f 275.1px 276.9px,#d7ff20 280.1px 282.0px,#efff08 285.2px 287.0px,#e6ff10 290.2px 292.1px,#e5ff12 295.3px 297.2px,#d4ff23 300.4px 302.2px,#c0ff37 305.4px 307.3px,#beff38 310.5px 312.4px,#b3ff44 315.6px 317.4px,#baff3c 320.6px 322.5px,#a5ff52 325.7px 327.6px,#a7ff50 330.8px 332.6px,#a3ff54 335.8px 337.7px,#a9ff4e 340.9px 342.8px,#c0ff36 346.0px 347.8px,#b6ff40 351.0px 352.9px,#c1ff36 356.1px 357.9px,#b9ff3d 361.1px 363.0px,#aaff4c 366.2px 368.1px,#a6ff51 371.3px 373.1px,#95ff62 376.3px 378.2px,#9dff59 381.4px 383.3px,#a1ff56 386.5px 388.3px,#94ff62 391.5px 393.4px,#a0ff57 396.6px 398.5px,#89ff6e 401.7px 403.5px,#71ff86 406.7px 408.6px,#82ff75 411.8px 413.6px,#68ff8f 416.8px 418.7px,#77ff80 421.9px 423.8px,#7cff7a 427.0px 428.8px,#77ff80 432.0px 433.9px,#7fff78 437.1px 439.0px,#7bff7b 442.2px 444.0px,#73ff84 447.2px 449.1px,#69ff8e 452.3px 454.2px,#5eff99 457.4px 459.2px,#57ff9f 462.4px 464.3px,#46ffb1 467.5px 469.4px,#44ffb2 472.6px 474.4px,#48ffaf 477.6px 479.5px,#32ffc4 482.7px 489.6px,#1bffdc 492.8px 494.7px,#04ebf2 497.9px 499.7px,#00e6f6 502.9px 504.8px,#00d1ff 508.0px 509.9px,#00c1ff 513.1px 514.9px,#00bdff 518.1px 520.0px,#00b2ff 523.2px 525.1px,#00b0ff 528.3px 530.1px,#00b8ff 533.3px 535.2px,#0093ff 538.4px 540.2px,#00a1ff 543.4px 545.3px,#008fff 548.5px 550.4px,#0077ff 553.6px 555.4px,#0082ff 558.6px 560.5px,#0073ff 563.7px 565.6px,#007aff 568.8px 570.6px,#006fff 573.8px 575.7px,#006cff 578.9px 580.8px,#0042ff 584.0px 585.8px,#002cff 589.0px 590.9px,#0011ff 594.1px 596.0px,#0000fa 599.2px 601.0px,#000bff 604.2px 606.1px,#001fff 609.3px 611.1px,#0027ff 614.3px 616.2px,#001aff 619.4px 621.3px,#0027ff 624.5px 626.3px,#0003ff 629.5px 633.0px)"></div>
<div class="r" style="left:151px;top:216px;width:633px;height:62px;background:linear-gradient(90deg,#0000a6 0.0px 3.5px,#0000b0 6.7px 8.5px,#0000b8 11.7px 13.6px,#0000d4 16.8px 18.7px,#0000ff 21.9px 23.7px,#001fff 26.9px 28.8px,#0052ff 32.0px 33.8px,#0088ff 37.0px 38.9px,#00bfff 42.1px 44.0px,#22ffd5 47.2px 49.0px,#54ffa3 52.2px 54.1px,#96ff61 57.3px 59.2px,#dbff1b 62.4px 64.2px,#ffd000 67.4px 69.3px,#ff7700 72.5px 74.4px,#ff1b00 77.6px 79.4px,#a10000 82.6px 84.5px,#830000 87.7px 89.6px,#8d0000 92.8px 94.6px,#ad0000 97.8px 99.7px,#d40000 102.9px 104.7px,#f40a00 107.9px 109.8px,#ff2000 113.0px 114.9px,#ff3500 118.1px 119.9px,#ff5400 123.1px 125.0px,#ff7400 128.2px 130.1px,#ff8d00 133.3px 135.1px,#ffa000 138.3px 140.2px,#ffb600 143.4px 145.3px,#ffc500 148.5px 150.3px,#ffda00 153.5px 155.4px,#ffe900 158.6px 160.4px,#fcf000 163.6px 165.5px,#ebff0c 168.7px 170.6px,#dcff1b 173.8px 175.6px,#d2ff24 178.8px 180.7px,#bfff38 183.9px 185.8px,#beff38 189.0px 190.8px,#c1ff35 194.0px 195.9px,#b7ff40 199.1px 201.0px,#b9ff3e 204.2px 206.0px,#bdff3a 209.2px 216.2px,#bcff3b 219.4px 221.2px,#bfff38 224.4px 226.3px,#b8ff3f 229.5px 231.3px,#baff3d 234.5px 236.4px,#b6ff41 239.6px 241.5px,#b7ff40 244.7px 246.5px,#bbff3c 249.7px 251.6px,#beff38 254.8px 256.7px,#c1ff36 259.9px 266.8px,#baff3d 270.0px 276.9px,#bdff3a 280.1px 282.0px,#c1ff36 285.2px 287.0px,#c0ff37 290.2px 292.1px,#b4ff42 295.3px 297.2px,#b2ff45 300.4px 302.2px,#aaff4d 305.4px 307.3px,#a2ff55 310.5px 312.4px,#a8ff4f 315.6px 317.4px,#a9ff4e 320.6px 322.5px,#a6ff51 325.7px 327.6px,#abff4b 330.8px 332.6px,#a3ff54 335.8px 337.7px,#90ff67 340.9px 342.8px,#85ff72 346.0px 347.8px,#77ff80 351.0px 352.9px,#74ff83 356.1px 357.9px,#7aff7d 361.1px 363.0px,#78ff7f 366.2px 368.1px,#7cff7b 371.3px 373.1px,#6bff8b 376.3px 378.2px,#61ff96 381.4px 383.3px,#65ff92 386.5px 388.3px,#5aff9d 391.5px 393.4px,#5fff98 396.6px 398.5px,#49ffae 401.7px 403.5px,#30ffc7 406.7px 408.6px,#21ffd6 411.8px 413.6px,#1cffdb 416.8px 418.7px,#29ffcd 421.9px 423.8px,#23ffd3 427.0px 428.8px,#19ffde 432.0px 433.9px,#03e9f4 437.1px 439.0px,#00caff 442.2px 449.1px,#00c0ff 452.3px 454.2px,#00d2ff 457.4px 459.2px,#00d3ff 462.4px 464.3px,#00beff 467.5px 469.4px,#00bdff 472.6px 474.4px,#00a3ff 477.6px 479.5px,#009eff 482.7px 484.5px,#00a3ff 487.7px 489.6px,#0093ff 492.8px 494.7px,#0097ff 497.9px 499.7px,#008cff 502.9px 504.8px,#007aff 508.0px 509.9px,#0078ff 513.1px 514.9px,#006fff 518.1px 520.0px,#005dff 523.2px 525.1px,#004fff 528.3px 530.1px,#0054ff 533.3px 535.2px,#0040ff 538.4px 540.2px,#0032ff 543.4px 545.3px,#0035ff 548.5px 550.4px,#000dff 553.6px 555.4px,#0009ff 558.6px 560.5px,#0000ff 563.7px 565.6px,#0000fa 568.8px 570.6px,#0000eb 573.8px 575.7px,#0000df 578.9px 580.8px,#0000f5 584.0px 585.8px,#0000ed 589.0px 590.9px,#0000e9 594.1px 596.0px,#0000ff 599.2px 601.0px,#0000e6 604.2px 606.1px,#0000fb 609.3px 611.1px,#0000f9 614.3px 616.2px,#0000d1 619.4px 621.3px,#0000f5 624.5px 626.3px,#0000d6 629.5px 633.0px)"></div>
<div class="r" style="left:151px;top:278px;width:633px;height:13px;background:linear-gradient(90deg,#00009c 0.0px 3.5px,#0000be 6.7px 8.5px,#0000e5 11.7px 13.6px,#0000ff 16.8px 18.7px,#0026ff 21.9px 23.7px,#006cff 26.9px 28.8px,#00adff 32.0px 33.8px,#0df5ea 37.0px 38.9px,#42ffb4 42.1px 44.0px,#79ff7e 47.2px 49.0px,#aaff4c 52.2px 54.1px,#d7ff20 57.3px 59.2px,#ffe400 62.4px 64.2px,#ffab00 67.4px 69.3px,#ff5e00 72.5px 74.4px,#eb0300 77.6px 79.4px,#a40000 82.6px 84.5px,#8c0000 87.7px 89.6px,#be0000 92.8px 94.6px,#e30000 97.8px 99.7px,#ff1b00 102.9px 104.7px,#ff3600 107.9px 109.8px,#ff5400 113.0px 114.9px,#ff6f00 118.1px 119.9px,#ff8700 123.1px 125.0px,#ffa200 128.2px 130.1px,#ffb700 133.3px 135.1px,#ffd200 138.3px 140.2px,#ffe700 143.4px 145.3px,#f3fa04 148.5px 150.3px,#e0ff17 153.5px 155.4px,#daff1c 158.6px 160.4px,#d1ff26 163.6px 165.5px,#bfff38 168.7px 170.6px,#b7ff40 173.8px 175.6px,#abff4c 178.8px 180.7px,#9fff58 183.9px 185.8px,#98ff5e 189.0px 190.8px,#9dff5a 194.0px 195.9px,#91ff65 199.1px 201.0px,#94ff63 204.2px 206.0px,#97ff5f 209.2px 211.1px,#8dff6a 214.3px 216.2px,#8cff6b 219.4px 221.2px,#86ff71 224.4px 226.3px,#80ff77 229.5px 231.3px,#74ff82 234.5px 236.4px,#71ff86 239.6px 241.5px,#74ff83 244.7px 246.5px,#70ff87 249.7px 251.6px,#75ff82 254.8px 256.7px,#74ff83 259.9px 261.7px,#6dff8a 264.9px 266.8px,#68ff8f 270.0px 271.9px,#7aff7d 275.1px 276.9px,#70ff87 280.1px 282.0px,#77ff7f 285.2px 287.0px,#75ff82 290.2px 292.1px,#62ff95 295.3px 297.2px,#63ff94 300.4px 302.2px,#53ffa4 305.4px 307.3px,#56ffa1 310.5px 312.4px,#51ffa6 315.6px 317.4px,#4affac 320.6px 322.5px,#47ffb0 325.7px 327.6px,#3cffbb 330.8px 332.6px,#2effc9 335.8px 337.7px,#2affcc 340.9px 342.8px,#24ffd3 346.0px 347.8px,#25ffd2 351.0px 352.9px,#28ffcf 356.1px 357.9px,#11fbe5 361.1px 363.0px,#0cf4eb 366.2px 368.1px,#05ecf1 371.3px 373.1px,#00d1ff 376.3px 383.3px,#00d8ff 386.5px 388.3px,#00c9ff 391.5px 398.5px,#00c2ff 401.7px 403.5px,#00b8ff 406.7px 408.6px,#00a9ff 411.8px 413.6px,#00a5ff 416.8px 418.7px,#00a7ff 421.9px 423.8px,#00a2ff 427.0px 428.8px,#0099ff 432.0px 433.9px,#008cff 437.1px 439.0px,#0085ff 442.2px 444.0px,#0078ff 447.2px 449.1px,#0076ff 452.3px 454.2px,#006fff 457.4px 459.2px,#006aff 462.4px 464.3px,#0061ff 467.5px 469.4px,#0057ff 472.6px 474.4px,#005aff 477.6px 479.5px,#0063ff 482.7px 484.5px,#005cff 487.7px 489.6px,#0064ff 492.8px 494.7px,#005fff 497.9px 499.7px,#0050ff 502.9px 504.8px,#0055ff 508.0px 509.9px,#0042ff 513.1px 514.9px,#0041ff 518.1px 520.0px,#003cff 523.2px 525.1px,#000aff 528.3px 530.1px,#0016ff 533.3px 535.2px,#0011ff 538.4px 540.2px,#001dff 543.4px 545.3px,#0025ff 548.5px 550.4px,#0021ff 553.6px 555.4px,#001bff 558.6px 560.5px,#0000ff 563.7px 565.6px,#000fff 568.8px 570.6px,#000cff 573.8px 575.7px,#0000ff 578.9px 585.8px,#0000ee 589.0px 590.9px,#0000ff 594.1px 596.0px,#000eff 599.2px 601.0px,#0000ff 604.2px 606.1px,#0000f0 609.3px 611.1px,#0000e6 614.3px 616.2px,#0000cb 619.4px 621.3px,#0000dd 624.5px 626.3px,#0000fc 629.5px 633.0px)"></div>
<div class="r" style="left:151px;top:291px;width:633px;height:14px;background:linear-gradient(90deg,#0000b6 0.0px 3.5px,#0000ca 6.7px 8.5px,#0000e5 11.7px 13.6px,#0000ff 16.8px 23.7px,#0012ff 26.9px 28.8px,#003dff 32.0px 33.8px,#00beff 37.0px 38.9px,#22ffd5 42.1px 44.0px,#5cff9a 47.2px 49.0px,#8dff6a 52.2px 54.1px,#c0ff37 57.3px 59.2px,#fcef00 62.4px 64.2px,#ff9b00 67.4px 69.3px,#ff4b00 72.5px 74.4px,#d90000 77.6px 79.4px,#940000 82.6px 84.5px,#830000 87.7px 89.6px,#c10000 92.8px 94.6px,#ff1e00 97.8px 99.7px,#ff4c00 102.9px 104.7px,#ff7100 107.9px 109.8px,#ff9200 113.0px 114.9px,#ffab00 118.1px 119.9px,#ffbc00 123.1px 125.0px,#ffd300 128.2px 130.1px,#ffe200 133.3px 135.1px,#f5f802 138.3px 140.2px,#e0ff17 143.4px 145.3px,#cfff28 148.5px 150.3px,#c2ff35 153.5px 155.4px,#b4ff43 158.6px 160.4px,#b4ff42 163.6px 165.5px,#b2ff44 168.7px 170.6px,#a3ff54 173.8px 175.6px,#a2ff55 178.8px 180.7px,#9cff5b 183.9px 185.8px,#94ff63 189.0px 190.8px,#8dff69 194.0px 195.9px,#86ff71 199.1px 201.0px,#79ff7e 204.2px 206.0px,#74ff83 209.2px 211.1px,#6fff88 214.3px 216.2px,#6dff8a 219.4px 221.2px,#6fff88 224.4px 226.3px,#67ff8f 229.5px 231.3px,#6cff8b 234.5px 236.4px,#6cff8a 239.6px 241.5px,#67ff90 244.7px 246.5px,#62ff95 249.7px 251.6px,#5fff98 254.8px 256.7px,#4affad 259.9px 261.7px,#47ffaf 264.9px 266.8px,#4dffaa 270.0px 271.9px,#54ffa3 275.1px 276.9px,#55ffa1 280.1px 282.0px,#5dff9a 285.2px 287.0px,#61ff96 290.2px 292.1px,#5bff9c 295.3px 297.2px,#47ffaf 300.4px 302.2px,#45ffb2 305.4px 307.3px,#34ffc3 310.5px 312.4px,#2bffcb 315.6px 317.4px,#2fffc8 320.6px 322.5px,#20ffd7 325.7px 327.6px,#19ffde 330.8px 337.7px,#18ffdf 340.9px 342.8px,#12fce5 346.0px 347.8px,#11fbe6 351.0px 352.9px,#08efef 356.1px 357.9px,#00e3f9 361.1px 363.0px,#00d9ff 366.2px 368.1px,#00c7ff 371.3px 373.1px,#00b1ff 376.3px 378.2px,#00a3ff 381.4px 383.3px,#009aff 386.5px 388.3px,#008cff 391.5px 393.4px,#0082ff 396.6px 398.5px,#008bff 401.7px 403.5px,#007dff 406.7px 408.6px,#0079ff 411.8px 413.6px,#0081ff 416.8px 418.7px,#0083ff 421.9px 423.8px,#0090ff 427.0px 428.8px,#008dff 432.0px 433.9px,#007dff 437.1px 439.0px,#0068ff 442.2px 444.0px,#0050ff 447.2px 449.1px,#0049ff 452.3px 454.2px,#0050ff 457.4px 459.2px,#0041ff 462.4px 464.3px,#003cff 467.5px 469.4px,#0039ff 472.6px 474.4px,#002eff 477.6px 479.5px,#0028ff 482.7px 484.5px,#0021ff 487.7px 489.6px,#0012ff 492.8px 494.7px,#0006ff 497.9px 499.7px,#000dff 502.9px 504.8px,#000aff 508.0px 509.9px,#0000fd 513.1px 514.9px,#0001ff 518.1px 520.0px,#0000ff 523.2px 525.1px,#0000fa 528.3px 530.1px,#0003ff 533.3px 535.2px,#0000e4 538.4px 540.2px,#0000d4 543.4px 545.3px,#0000ed 548.5px 550.4px,#0000ff 553.6px 555.4px,#0020ff 558.6px 560.5px,#001aff 563.7px 565.6px,#000bff 568.8px 570.6px,#0000ff 573.8px 575.7px,#0000d8 578.9px 580.8px,#0000f4 584.0px 585.8px,#0000dc 589.0px 590.9px,#0000d4 594.1px 596.0px,#0000c9 599.2px 601.0px,#0000b8 604.2px 606.1px,#0000b7 609.3px 611.1px,#0000bc 614.3px 616.2px,#0000ad 619.4px 626.3px,#0000c8 629.5px 633.0px)"></div>
<div class="r" style="left:151px;top:305px;width:633px;height:15px;background:linear-gradient(90deg,#0000b2 0.0px 3.5px,#0000ce 6.7px 8.5px,#0000e9 11.7px 13.6px,#0000ff 16.8px 18.7px,#001bff 21.9px 23.7px,#0073ff 26.9px 28.8px,#00cdff 32.0px 33.8px,#20ffd7 37.0px 38.9px,#57ffa0 42.1px 44.0px,#8dff69 47.2px 49.0px,#beff38 52.2px 54.1px,#efff08 57.3px 59.2px,#ffc600 62.4px 64.2px,#ff8000 67.4px 69.3px,#ff3300 72.5px 74.4px,#d20000 77.6px 79.4px,#8e0000 82.6px 84.5px,#910000 87.7px 89.6px,#e60000 92.8px 94.6px,#ff3e00 97.8px 99.7px,#ff6f00 102.9px 104.7px,#ff9400 107.9px 109.8px,#ffc600 113.0px 114.9px,#ffd400 118.1px 119.9px,#f7f500 123.1px 125.0px,#ddff1a 128.2px 130.1px,#dbff1c 133.3px 135.1px,#c6ff31 138.3px 140.2px,#c0ff37 143.4px 145.3px,#c1ff36 148.5px 150.3px,#b2ff45 153.5px 155.4px,#9dff5a 158.6px 160.4px,#95ff62 163.6px 165.5px,#8eff69 168.7px 170.6px,#7fff78 173.8px 175.6px,#7cff7b 178.8px 180.7px,#6fff87 183.9px 185.8px,#66ff91 189.0px 190.8px,#5fff98 194.0px 195.9px,#59ff9e 199.1px 201.0px,#52ffa5 204.2px 206.0px,#48ffaf 209.2px 211.1px,#49ffae 214.3px 216.2px,#4affad 219.4px 221.2px,#49ffae 224.4px 226.3px,#45ffb2 229.5px 231.3px,#46ffb1 234.5px 236.4px,#44ffb3 239.6px 241.5px,#4affac 244.7px 246.5px,#49ffae 249.7px 251.6px,#43ffb3 254.8px 256.7px,#42ffb5 259.9px 261.7px,#41ffb5 264.9px 266.8px,#3effb9 270.0px 271.9px,#3cffba 275.1px 276.9px,#30ffc7 280.1px 282.0px,#21ffd6 285.2px 292.1px,#1effd9 295.3px 297.2px,#22ffd5 300.4px 302.2px,#11fae6 305.4px 307.3px,#0ef6e9 310.5px 312.4px,#00e2fa 315.6px 317.4px,#00dbff 320.6px 322.5px,#00caff 325.7px 327.6px,#00c2ff 330.8px 332.6px,#00baff 335.8px 337.7px,#00bdff 340.9px 342.8px,#00c3ff 346.0px 347.8px,#00c6ff 351.0px 352.9px,#00bdff 356.1px 357.9px,#00beff 361.1px 363.0px,#00adff 366.2px 368.1px,#00aeff 371.3px 373.1px,#00a3ff 376.3px 378.2px,#0089ff 381.4px 383.3px,#0092ff 386.5px 388.3px,#007aff 391.5px 393.4px,#0079ff 396.6px 398.5px,#006fff 401.7px 403.5px,#0063ff 406.7px 408.6px,#0064ff 411.8px 413.6px,#0059ff 416.8px 418.7px,#0064ff 421.9px 423.8px,#004bff 427.0px 428.8px,#0054ff 432.0px 433.9px,#004fff 437.1px 439.0px,#0058ff 442.2px 444.0px,#005fff 447.2px 449.1px,#004eff 452.3px 454.2px,#0049ff 457.4px 459.2px,#003aff 462.4px 464.3px,#003cff 467.5px 469.4px,#0034ff 472.6px 474.4px,#0029ff 477.6px 479.5px,#0027ff 482.7px 484.5px,#0023ff 487.7px 489.6px,#000bff 492.8px 494.7px,#0006ff 497.9px 499.7px,#0000ff 502.9px 504.8px,#0003ff 508.0px 509.9px,#0017ff 513.1px 514.9px,#0022ff 518.1px 520.0px,#0028ff 523.2px 525.1px,#0007ff 528.3px 535.2px,#0000ff 538.4px 540.2px,#0000ee 543.4px 545.3px,#0000ff 548.5px 550.4px,#0000e6 553.6px 555.4px,#0000fc 558.6px 560.5px,#0000fe 563.7px 565.6px,#0000d7 568.8px 570.6px,#0000e6 573.8px 575.7px,#0000c2 578.9px 580.8px,#0000bc 584.0px 585.8px,#0000b3 589.0px 590.9px,#00009a 594.1px 596.0px,#0000c4 599.2px 601.0px,#0000a9 604.2px 606.1px,#0000bb 609.3px 611.1px,#0000c5 614.3px 616.2px,#0000b1 619.4px 621.3px,#0000a2 624.5px 626.3px,#00008c 629.5px 633.0px)"></div>
<div class="r" style="left:151px;top:320px;width:633px;height:15px;background:linear-gradient(90deg,#0000e4 0.0px 3.5px,#0000f5 6.7px 8.5px,#0001ff 11.7px 13.6px,#0047ff 16.8px 18.7px,#009eff 21.9px 23.7px,#03eaf3 26.9px 28.8px,#34ffc3 32.0px 33.8px,#5fff98 37.0px 38.9px,#88ff6e 42.1px 44.0px,#bbff3c 47.2px 49.0px,#ecff0a 52.2px 54.1px,#ffd800 57.3px 59.2px,#ffa800 62.4px 64.2px,#ff7100 67.4px 69.3px,#ff3500 72.5px 74.4px,#d60000 77.6px 79.4px,#940000 82.6px 84.5px,#8e0000 87.7px 89.6px,#e00000 92.8px 94.6px,#ff2a00 97.8px 99.7px,#ff5b00 102.9px 104.7px,#ff7f00 107.9px 109.8px,#ffb100 113.0px 114.9px,#ffce00 118.1px 119.9px,#ffe500 123.1px 125.0px,#e5ff11 128.2px 130.1px,#d5ff22 133.3px 135.1px,#c4ff32 138.3px 140.2px,#b6ff41 143.4px 145.3px,#abff4c 148.5px 150.3px,#a4ff52 153.5px 155.4px,#96ff61 158.6px 160.4px,#88ff6e 163.6px 165.5px,#84ff73 168.7px 170.6px,#7cff7b 173.8px 175.6px,#6fff87 178.8px 180.7px,#68ff8f 183.9px 185.8px,#62ff95 189.0px 190.8px,#58ff9f 194.0px 195.9px,#56ffa1 199.1px 201.0px,#52ffa5 204.2px 206.0px,#4effa9 209.2px 211.1px,#51ffa6 214.3px 216.2px,#48ffaf 219.4px 221.2px,#43ffb4 224.4px 226.3px,#41ffb6 229.5px 231.3px,#36ffc0 234.5px 236.4px,#3affbd 239.6px 241.5px,#35ffc1 244.7px 246.5px,#38ffbf 249.7px 251.6px,#34ffc3 254.8px 256.7px,#29ffce 259.9px 261.7px,#2dffc9 264.9px 266.8px,#2bffcc 270.0px 271.9px,#17ffdf 275.1px 276.9px,#18ffdf 280.1px 282.0px,#0ff8e8 285.2px 287.0px,#06edf1 290.2px 292.1px,#11fbe6 295.3px 297.2px,#08efef 300.4px 302.2px,#00dbff 305.4px 307.3px,#00d4ff 310.5px 312.4px,#00caff 315.6px 317.4px,#00c7ff 320.6px 322.5px,#00cbff 325.7px 327.6px,#00bbff 330.8px 332.6px,#00c5ff 335.8px 337.7px,#00aeff 340.9px 342.8px,#009dff 346.0px 347.8px,#00a8ff 351.0px 352.9px,#0094ff 356.1px 357.9px,#009fff 361.1px 363.0px,#00a8ff 366.2px 368.1px,#00aeff 371.3px 373.1px,#00b3ff 376.3px 378.2px,#00a3ff 381.4px 383.3px,#00a9ff 386.5px 388.3px,#008dff 391.5px 393.4px,#0071ff 396.6px 398.5px,#0080ff 401.7px 403.5px,#006eff 406.7px 408.6px,#005eff 411.8px 413.6px,#006bff 416.8px 418.7px,#0058ff 421.9px 423.8px,#005dff 427.0px 428.8px,#0068ff 432.0px 433.9px,#005cff 437.1px 439.0px,#0058ff 442.2px 444.0px,#0059ff 447.2px 449.1px,#004aff 452.3px 454.2px,#0050ff 457.4px 459.2px,#0047ff 462.4px 464.3px,#0043ff 467.5px 469.4px,#0056ff 472.6px 474.4px,#0050ff 477.6px 479.5px,#005cff 482.7px 484.5px,#0054ff 487.7px 489.6px,#0033ff 492.8px 494.7px,#0026ff 497.9px 499.7px,#0017ff 502.9px 504.8px,#0013ff 508.0px 509.9px,#0010ff 513.1px 514.9px,#0018ff 518.1px 520.0px,#000bff 523.2px 525.1px,#0007ff 528.3px 530.1px,#0009ff 533.3px 535.2px,#0000ff 538.4px 540.2px,#0005ff 543.4px 545.3px,#0000ff 548.5px 555.4px,#0004ff 558.6px 560.5px,#0000e9 563.7px 565.6px,#0000d7 568.8px 570.6px,#0000c9 573.8px 575.7px,#0000d5 578.9px 580.8px,#0000db 584.0px 585.8px,#0000f0 589.0px 590.9px,#0000e5 594.1px 596.0px,#0000cd 599.2px 601.0px,#0000ca 604.2px 606.1px,#0000d2 609.3px 611.1px,#0000c2 614.3px 616.2px,#0000ce 619.4px 621.3px,#0000da 624.5px 626.3px,#0000ce 629.5px 633.0px)"></div>
<div class="r" style="left:151px;top:335px;width:633px;height:16px;background:linear-gradient(90deg,#000eff 0.0px 3.5px,#002bff 6.7px 8.5px,#008bff 11.7px 13.6px,#09f0ee 16.8px 18.7px,#4affac 21.9px 23.7px,#78ff7e 26.9px 28.8px,#a1ff56 32.0px 33.8px,#bcff3b 37.0px 38.9px,#d9ff1d 42.1px 44.0px,#ffea00 47.2px 49.0px,#ffc500 52.2px 54.1px,#ffa400 57.3px 59.2px,#ff7800 62.4px 64.2px,#ff5a00 67.4px 69.3px,#ff3100 72.5px 74.4px,#f00600 77.6px 79.4px,#b00000 82.6px 84.5px,#8b0000 87.7px 89.6px,#c40000 92.8px 94.6px,#ff1e00 97.8px 99.7px,#ff3500 102.9px 104.7px,#ff5d00 107.9px 109.8px,#ff7700 113.0px 114.9px,#ff8d00 118.1px 119.9px,#ffaa00 123.1px 125.0px,#ffc300 128.2px 130.1px,#ffde00 133.3px 135.1px,#f0fe07 138.3px 140.2px,#e3ff13 143.4px 145.3px,#d6ff21 148.5px 150.3px,#d0ff27 153.5px 155.4px,#c8ff2f 158.6px 160.4px,#bcff3b 163.6px 165.5px,#b0ff46 168.7px 170.6px,#a5ff52 173.8px 180.7px,#a1ff56 183.9px 190.8px,#9dff5a 194.0px 195.9px,#93ff64 199.1px 201.0px,#92ff65 204.2px 206.0px,#8eff69 209.2px 211.1px,#83ff74 214.3px 216.2px,#7aff7d 219.4px 221.2px,#72ff85 224.4px 226.3px,#68ff8f 229.5px 231.3px,#60ff97 234.5px 236.4px,#6dff8a 239.6px 241.5px,#57ffa0 244.7px 246.5px,#4effa9 249.7px 256.7px,#3fffb8 259.9px 261.7px,#32ffc5 264.9px 266.8px,#2affcd 270.0px 271.9px,#26ffd1 275.1px 276.9px,#1bffdb 280.1px 282.0px,#14ffe2 285.2px 287.0px,#09f1ee 290.2px 292.1px,#00d0ff 295.3px 297.2px,#00bbff 300.4px 302.2px,#00a5ff 305.4px 307.3px,#008eff 310.5px 312.4px,#0082ff 315.6px 317.4px,#007bff 320.6px 322.5px,#006eff 325.7px 327.6px,#007fff 330.8px 332.6px,#008bff 335.8px 342.8px,#0091ff 346.0px 347.8px,#008dff 351.0px 352.9px,#007eff 356.1px 357.9px,#0079ff 361.1px 363.0px,#0071ff 366.2px 368.1px,#0069ff 371.3px 373.1px,#0056ff 376.3px 378.2px,#0047ff 381.4px 383.3px,#0037ff 386.5px 393.4px,#003eff 396.6px 398.5px,#0036ff 401.7px 403.5px,#0030ff 406.7px 408.6px,#0021ff 411.8px 413.6px,#0020ff 416.8px 418.7px,#001dff 421.9px 423.8px,#001cff 427.0px 428.8px,#0015ff 432.0px 433.9px,#000bff 437.1px 439.0px,#0018ff 442.2px 444.0px,#000bff 447.2px 449.1px,#000aff 452.3px 454.2px,#001aff 457.4px 459.2px,#000cff 462.4px 464.3px,#0000ff 467.5px 469.4px,#000dff 472.6px 474.4px,#0000f9 477.6px 484.5px,#0000e1 487.7px 489.6px,#0000cf 492.8px 494.7px,#0000e8 497.9px 499.7px,#0000d6 502.9px 504.8px,#0000e5 508.0px 509.9px,#0000ed 513.1px 514.9px,#0000db 518.1px 520.0px,#0000d2 523.2px 525.1px,#0000c9 528.3px 530.1px,#0000db 533.3px 535.2px,#0000e4 538.4px 540.2px,#0000e5 543.4px 545.3px,#0000d7 548.5px 550.4px,#0000bc 553.6px 555.4px,#0000a4 558.6px 560.5px,#0000a1 563.7px 565.6px,#0000bb 568.8px 570.6px,#0000ad 573.8px 580.8px,#00009a 584.0px 585.8px,#000085 589.0px 590.9px,#000080 594.1px 596.0px,#000086 599.2px 601.0px,#00009a 604.2px 606.1px,#00008f 609.3px 611.1px,#000093 614.3px 616.2px,#0000b4 619.4px 621.3px,#0000d9 624.5px 626.3px,#0000fd 629.5px 633.0px)"></div>
<div class="r" style="left:151px;top:351px;width:633px;height:17px;background:linear-gradient(90deg,#006bff 0.0px 3.5px,#00a1ff 6.7px 8.5px,#23ffd3 11.7px 13.6px,#5bff9c 16.8px 18.7px,#82ff75 21.9px 23.7px,#a1ff56 26.9px 28.8px,#bbff3c 32.0px 33.8px,#d9ff1d 37.0px 38.9px,#fcef00 42.1px 44.0px,#ffca00 47.2px 49.0px,#ffa400 52.2px 54.1px,#ff8500 57.3px 59.2px,#ff6800 62.4px 64.2px,#ff4500 67.4px 69.3px,#ff1e00 72.5px 74.4px,#e00000 77.6px 79.4px,#9f0000 82.6px 84.5px,#800000 87.7px 89.6px,#9a0000 92.8px 94.6px,#bb0000 97.8px 99.7px,#e80000 102.9px 104.7px,#ff1b00 107.9px 109.8px,#ff3200 113.0px 114.9px,#ff4800 118.1px 119.9px,#ff5900 123.1px 125.0px,#ff6a00 128.2px 130.1px,#ff7d00 133.3px 135.1px,#ff8400 138.3px 140.2px,#ff8d00 143.4px 145.3px,#ff8500 148.5px 150.3px,#ff8700 153.5px 155.4px,#ff9c00 158.6px 160.4px,#ff9e00 163.6px 165.5px,#ffb500 168.7px 170.6px,#ffc400 173.8px 175.6px,#ffda00 178.8px 180.7px,#ffe800 183.9px 185.8px,#feed00 189.0px 190.8px,#efff08 194.0px 195.9px,#e7ff10 199.1px 201.0px,#daff1d 204.2px 206.0px,#d0ff26 209.2px 211.1px,#d8ff1f 214.3px 216.2px,#dcff1b 219.4px 221.2px,#ddff1a 224.4px 226.3px,#d2ff25 229.5px 231.3px,#beff39 234.5px 236.4px,#b1ff46 239.6px 241.5px,#a0ff57 244.7px 246.5px,#96ff61 249.7px 251.6px,#8eff69 254.8px 256.7px,#88ff6f 259.9px 261.7px,#7eff79 264.9px 266.8px,#7aff7d 270.0px 271.9px,#73ff84 275.1px 276.9px,#67ff90 280.1px 282.0px,#5fff98 285.2px 287.0px,#60ff97 290.2px 292.1px,#5aff9d 295.3px 297.2px,#5eff99 300.4px 302.2px,#56ffa1 305.4px 307.3px,#50ffa7 310.5px 312.4px,#3effb9 315.6px 317.4px,#2effc9 320.6px 322.5px,#26ffd0 325.7px 327.6px,#14ffe2 330.8px 332.6px,#13fee3 335.8px 337.7px,#07eef0 340.9px 342.8px,#00e5f7 346.0px 347.8px,#00d9ff 351.0px 352.9px,#00d1ff 356.1px 357.9px,#00caff 361.1px 363.0px,#00b9ff 366.2px 368.1px,#00b3ff 371.3px 373.1px,#00abff 376.3px 378.2px,#0099ff 381.4px 383.3px,#009bff 386.5px 388.3px,#00a1ff 391.5px 393.4px,#0093ff 396.6px 398.5px,#009dff 401.7px 403.5px,#009bff 406.7px 408.6px,#0084ff 411.8px 413.6px,#008fff 416.8px 418.7px,#009bff 421.9px 423.8px,#0081ff 427.0px 428.8px,#0099ff 432.0px 433.9px,#007dff 437.1px 439.0px,#0072ff 442.2px 444.0px,#005dff 447.2px 449.1px,#0054ff 452.3px 454.2px,#0050ff 457.4px 459.2px,#002fff 462.4px 464.3px,#0030ff 467.5px 469.4px,#0018ff 472.6px 474.4px,#000aff 477.6px 479.5px,#0016ff 482.7px 484.5px,#0014ff 487.7px 489.6px,#0000ff 492.8px 494.7px,#0001ff 497.9px 499.7px,#0000ff 502.9px 509.9px,#0020ff 513.1px 514.9px,#0007ff 518.1px 525.1px,#0003ff 528.3px 530.1px,#0000ff 533.3px 540.2px,#0000f1 543.4px 545.3px,#0000ef 548.5px 550.4px,#0000e5 553.6px 555.4px,#0000d3 558.6px 560.5px,#0000e0 563.7px 565.6px,#0000d6 568.8px 570.6px,#0000d4 573.8px 575.7px,#0000b6 578.9px 580.8px,#0000b7 584.0px 585.8px,#00009e 589.0px 590.9px,#000087 594.1px 596.0px,#0000b0 599.2px 601.0px,#0000c0 604.2px 606.1px,#0000c7 609.3px 611.1px,#0000ca 614.3px 616.2px,#0000ff 619.4px 621.3px,#0026ff 624.5px 626.3px,#0033ff 629.5px 633.0px)"></div>
<div class="r" style="left:151px;top:368px;width:633px;height:18px;background:linear-gradient(90deg,#0093ff 0.0px 3.5px,#00e3f9 6.7px 8.5px,#2effc9 11.7px 13.6px,#4effa9 16.8px 18.7px,#6aff8d 21.9px 23.7px,#72ff85 26.9px 28.8px,#86ff70 32.0px 33.8px,#b4ff43 37.0px 38.9px,#ddff1a 42.1px 44.0px,#ffdb00 47.2px 49.0px,#ffb100 52.2px 54.1px,#ff8500 57.3px 59.2px,#ff6700 62.4px 64.2px,#ff4a00 67.4px 69.3px,#ff2400 72.5px 74.4px,#e30000 77.6px 79.4px,#9c0000 82.6px 84.5px,#8b0000 87.7px 89.6px,#980000 92.8px 94.6px,#d10000 97.8px 99.7px,#d50000 102.9px 104.7px,#db0000 107.9px 109.8px,#eb0300 113.0px 114.9px,#f30900 118.1px 119.9px,#ff2b00 123.1px 125.0px,#ff3400 128.2px 130.1px,#ff4c00 133.3px 135.1px,#ff5d00 138.3px 140.2px,#ff5400 143.4px 145.3px,#ff7100 148.5px 150.3px,#ff7b00 153.5px 155.4px,#ff8700 158.6px 160.4px,#ff9b00 163.6px 165.5px,#ffa900 168.7px 170.6px,#ffb500 173.8px 175.6px,#ffb800 178.8px 180.7px,#ffca00 183.9px 185.8px,#ffc900 189.0px 190.8px,#ffd800 194.0px 195.9px,#ffec00 199.1px 201.0px,#f0fd06 204.2px 206.0px,#e9ff0d 209.2px 211.1px,#ffeb00 214.3px 216.2px,#ffe300 219.4px 221.2px,#f4f903 224.4px 226.3px,#e2ff15 229.5px 231.3px,#dbff1c 234.5px 236.4px,#d3ff24 239.6px 246.5px,#d7ff1f 249.7px 251.6px,#dbff1b 254.8px 256.7px,#d3ff23 259.9px 261.7px,#c7ff30 264.9px 266.8px,#c4ff33 270.0px 271.9px,#b5ff42 275.1px 287.0px,#a2ff55 290.2px 292.1px,#9eff59 295.3px 297.2px,#98ff5f 300.4px 302.2px,#96ff61 305.4px 307.3px,#88ff6e 310.5px 312.4px,#87ff70 315.6px 317.4px,#78ff7f 320.6px 322.5px,#6aff8d 325.7px 327.6px,#6dff89 330.8px 332.6px,#60ff97 335.8px 337.7px,#6dff89 340.9px 342.8px,#6aff8c 346.0px 347.8px,#65ff92 351.0px 352.9px,#60ff97 356.1px 357.9px,#50ffa7 361.1px 363.0px,#3affbd 366.2px 368.1px,#29ffcd 371.3px 373.1px,#1dffda 376.3px 378.2px,#0ff8e7 381.4px 383.3px,#00d8ff 386.5px 388.3px,#00bfff 391.5px 393.4px,#00acff 396.6px 398.5px,#0093ff 401.7px 403.5px,#009bff 406.7px 408.6px,#0095ff 411.8px 413.6px,#008eff 416.8px 418.7px,#0098ff 421.9px 423.8px,#008bff 427.0px 428.8px,#009aff 432.0px 433.9px,#009eff 437.1px 439.0px,#0091ff 442.2px 444.0px,#0099ff 447.2px 449.1px,#0091ff 452.3px 454.2px,#0079ff 457.4px 459.2px,#0071ff 462.4px 464.3px,#006bff 467.5px 469.4px,#003eff 472.6px 474.4px,#0032ff 477.6px 484.5px,#0027ff 487.7px 494.7px,#0033ff 497.9px 499.7px,#003dff 502.9px 504.8px,#002dff 508.0px 509.9px,#0030ff 513.1px 514.9px,#0025ff 518.1px 520.0px,#0002ff 523.2px 525.1px,#0005ff 528.3px 530.1px,#0002ff 533.3px 535.2px,#0006ff 538.4px 540.2px,#0019ff 543.4px 545.3px,#000dff 548.5px 550.4px,#000aff 553.6px 555.4px,#0001ff 558.6px 560.5px,#0002ff 563.7px 565.6px,#0000f2 568.8px 570.6px,#0000ee 573.8px 575.7px,#0000db 578.9px 580.8px,#0000c0 584.0px 585.8px,#0000ca 589.0px 590.9px,#0000b8 594.1px 596.0px,#0000b9 599.2px 601.0px,#0000b8 604.2px 606.1px,#0000a4 609.3px 611.1px,#00009c 614.3px 616.2px,#000081 619.4px 621.3px,#003aff 624.5px 626.3px,#0075ff 629.5px 633.0px)"></div>
<div class="r" style="left:151px;top:386px;width:633px;height:19px;background:linear-gradient(90deg,#0078ff 0.0px 3.5px,#0084ff 6.7px 8.5px,#0099ff 11.7px 13.6px,#00b0ff 16.8px 18.7px,#00cbff 21.9px 23.7px,#10f9e7 26.9px 28.8px,#36ffc1 32.0px 33.8px,#6fff88 37.0px 38.9px,#93ff64 42.1px 44.0px,#a3ff54 47.2px 49.0px,#c8ff2e 52.2px 54.1px,#f1fc06 57.3px 59.2px,#ffbd00 62.4px 64.2px,#ff7e00 67.4px 69.3px,#ff4e00 72.5px 74.4px,#ff1a00 77.6px 79.4px,#ad0000 82.6px 84.5px,#870000 87.7px 89.6px,#8e0000 92.8px 94.6px,#bb0000 97.8px 99.7px,#d30000 102.9px 104.7px,#ef0600 107.9px 109.8px,#fa0f00 113.0px 114.9px,#ff2b00 118.1px 119.9px,#ff3700 123.1px 125.0px,#ff4500 128.2px 130.1px,#ff5300 133.3px 135.1px,#ff4f00 138.3px 140.2px,#ff5b00 143.4px 145.3px,#ff6400 148.5px 150.3px,#ff6900 153.5px 155.4px,#ff7f00 158.6px 160.4px,#ff8e00 163.6px 165.5px,#ff9400 168.7px 170.6px,#ffa500 173.8px 175.6px,#ffb800 178.8px 180.7px,#ffbe00 183.9px 185.8px,#ffc700 189.0px 190.8px,#ffd500 194.0px 195.9px,#ffdb00 199.1px 201.0px,#ffe300 204.2px 206.0px,#feed00 209.2px 211.1px,#f4f802 214.3px 216.2px,#f5f802 219.4px 221.2px,#e4ff13 224.4px 226.3px,#dcff1b 229.5px 231.3px,#ddff1a 234.5px 236.4px,#c3ff34 239.6px 241.5px,#c0ff36 244.7px 246.5px,#afff47 249.7px 251.6px,#a0ff57 254.8px 256.7px,#9aff5d 259.9px 261.7px,#97ff60 264.9px 266.8px,#99ff5e 270.0px 271.9px,#a4ff53 275.1px 276.9px,#9bff5b 280.1px 282.0px,#96ff61 285.2px 287.0px,#93ff64 290.2px 292.1px,#87ff70 295.3px 297.2px,#8aff6d 300.4px 302.2px,#78ff7f 305.4px 307.3px,#81ff76 310.5px 312.4px,#72ff85 315.6px 317.4px,#62ff94 320.6px 322.5px,#5aff9d 325.7px 327.6px,#47ffaf 330.8px 332.6px,#37ffc0 335.8px 337.7px,#38ffbf 340.9px 342.8px,#36ffc1 346.0px 347.8px,#34ffc2 351.0px 352.9px,#30ffc7 356.1px 357.9px,#25ffd2 361.1px 363.0px,#2cffca 366.2px 368.1px,#24ffd3 371.3px 373.1px,#1cffdb 376.3px 378.2px,#0af1ed 381.4px 383.3px,#00e5f7 386.5px 388.3px,#00beff 391.5px 393.4px,#00a7ff 396.6px 398.5px,#00b2ff 401.7px 403.5px,#0093ff 406.7px 408.6px,#00a3ff 411.8px 413.6px,#00a8ff 416.8px 418.7px,#00aaff 421.9px 423.8px,#00b3ff 427.0px 428.8px,#00a3ff 432.0px 433.9px,#008fff 437.1px 439.0px,#007eff 442.2px 444.0px,#0074ff 447.2px 449.1px,#0065ff 452.3px 454.2px,#0042ff 457.4px 459.2px,#0037ff 462.4px 464.3px,#001fff 467.5px 469.4px,#0014ff 472.6px 474.4px,#001eff 477.6px 479.5px,#0025ff 482.7px 484.5px,#0011ff 487.7px 489.6px,#0016ff 492.8px 494.7px,#0000ff 497.9px 499.7px,#0000ea 502.9px 504.8px,#0000ec 508.0px 509.9px,#0000dd 513.1px 514.9px,#0000e3 518.1px 520.0px,#0000ed 523.2px 525.1px,#0000fd 528.3px 530.1px,#0000ff 533.3px 545.3px,#0000f5 548.5px 550.4px,#0000de 553.6px 555.4px,#0000c7 558.6px 560.5px,#0000bd 563.7px 565.6px,#0000af 568.8px 570.6px,#0000b4 573.8px 575.7px,#0000c9 578.9px 580.8px,#0000ce 584.0px 585.8px,#0000e7 589.0px 590.9px,#0000d4 594.1px 596.0px,#0000ac 599.2px 601.0px,#000098 604.2px 606.1px,#0000af 609.3px 611.1px,#0000ce 614.3px 616.2px,#0000ee 619.4px 621.3px,#000eff 624.5px 626.3px,#0000ff 629.5px 633.0px)"></div>
<div class="r" style="left:151px;top:405px;width:633px;height:20px;background:linear-gradient(90deg,#004cff 0.0px 3.5px,#0065ff 6.7px 8.5px,#0086ff 11.7px 13.6px,#009bff 16.8px 18.7px,#00d4ff 21.9px 23.7px,#2cffcb 26.9px 28.8px,#4effa8 32.0px 33.8px,#6bff8c 37.0px 38.9px,#8eff69 42.1px 44.0px,#b0ff47 47.2px 49.0px,#dbff1c 52.2px 54.1px,#ffda00 57.3px 59.2px,#ffa500 62.4px 64.2px,#ff7a00 67.4px 69.3px,#ff5000 72.5px 74.4px,#ff2500 77.6px 79.4px,#f10700 82.6px 84.5px,#b20000 87.7px 89.6px,#ca0000 92.8px 94.6px,#db0000 97.8px 99.7px,#e60000 102.9px 104.7px,#df0000 107.9px 109.8px,#dc0000 113.0px 114.9px,#e50000 118.1px 119.9px,#f30900 123.1px 125.0px,#fb0f00 128.2px 130.1px,#ff2500 133.3px 135.1px,#ff3f00 138.3px 140.2px,#ff5900 143.4px 145.3px,#ff8100 148.5px 150.3px,#ff9800 153.5px 155.4px,#ffbc00 158.6px 160.4px,#ffd500 163.6px 165.5px,#ffcf00 168.7px 170.6px,#ffd900 173.8px 175.6px,#ffda00 178.8px 180.7px,#ffcb00 183.9px 185.8px,#ffcc00 189.0px 190.8px,#ffcf00 194.0px 195.9px,#ffd800 199.1px 201.0px,#ffea00 204.2px 211.1px,#eeff09 214.3px 216.2px,#d7ff20 219.4px 221.2px,#d0ff27 224.4px 226.3px,#b6ff41 229.5px 231.3px,#b0ff47 234.5px 236.4px,#a6ff51 239.6px 241.5px,#a3ff54 244.7px 246.5px,#acff4a 249.7px 251.6px,#9aff5d 254.8px 256.7px,#a0ff57 259.9px 261.7px,#9dff5a 264.9px 266.8px,#90ff66 270.0px 271.9px,#9aff5c 275.1px 276.9px,#90ff67 280.1px 282.0px,#81ff76 285.2px 287.0px,#71ff86 290.2px 292.1px,#6cff8b 295.3px 297.2px,#66ff91 300.4px 302.2px,#53ffa4 305.4px 307.3px,#4effa9 310.5px 312.4px,#38ffbe 315.6px 317.4px,#34ffc3 320.6px 322.5px,#2effc9 325.7px 327.6px,#1fffd8 330.8px 332.6px,#2cffcb 335.8px 337.7px,#1dffd9 340.9px 342.8px,#18ffde 346.0px 347.8px,#15ffe2 351.0px 352.9px,#00defd 356.1px 357.9px,#00c9ff 361.1px 363.0px,#00bfff 366.2px 368.1px,#00baff 371.3px 373.1px,#00b1ff 376.3px 378.2px,#00afff 381.4px 383.3px,#00b9ff 386.5px 388.3px,#00a5ff 391.5px 393.4px,#0098ff 396.6px 403.5px,#0073ff 406.7px 408.6px,#0092ff 411.8px 413.6px,#0096ff 416.8px 418.7px,#0092ff 421.9px 423.8px,#0098ff 427.0px 428.8px,#008eff 432.0px 433.9px,#006dff 437.1px 439.0px,#0062ff 442.2px 444.0px,#0041ff 447.2px 449.1px,#003bff 452.3px 454.2px,#0039ff 457.4px 459.2px,#004aff 462.4px 464.3px,#004bff 467.5px 469.4px,#002bff 472.6px 474.4px,#001fff 477.6px 479.5px,#0013ff 482.7px 484.5px,#0003ff 487.7px 489.6px,#0010ff 492.8px 494.7px,#000aff 497.9px 499.7px,#0000ff 502.9px 509.9px,#0008ff 513.1px 514.9px,#0000ff 518.1px 520.0px,#0004ff 523.2px 525.1px,#0011ff 528.3px 530.1px,#0000fd 533.3px 535.2px,#0000f2 538.4px 540.2px,#0000ff 543.4px 545.3px,#0002ff 548.5px 550.4px,#0000ff 553.6px 565.6px,#0000eb 568.8px 570.6px,#0000d6 573.8px 575.7px,#0000d9 578.9px 580.8px,#00009c 584.0px 585.8px,#00008d 589.0px 590.9px,#000080 594.1px 601.0px,#000098 604.2px 606.1px,#0000a8 609.3px 611.1px,#0000da 614.3px 616.2px,#0000b7 619.4px 621.3px,#0000c0 624.5px 626.3px,#0000c2 629.5px 633.0px)"></div>
<div class="r" style="left:151px;top:425px;width:633px;height:22px;background:linear-gradient(90deg,#0034ff 0.0px 3.5px,#004bff 6.7px 8.5px,#0065ff 11.7px 13.6px,#007cff 16.8px 18.7px,#00b8ff 21.9px 23.7px,#05ecf2 26.9px 28.8px,#37ffbf 32.0px 33.8px,#6dff89 37.0px 38.9px,#8eff69 42.1px 44.0px,#b0ff47 47.2px 49.0px,#ccff2b 52.2px 54.1px,#f6f701 57.3px 59.2px,#ffb800 62.4px 64.2px,#ff8a00 67.4px 69.3px,#ff5f00 72.5px 74.4px,#ff1f00 77.6px 79.4px,#be0000 82.6px 84.5px,#a30000 87.7px 89.6px,#940000 92.8px 94.6px,#a20000 97.8px 99.7px,#ab0000 102.9px 104.7px,#9a0000 107.9px 109.8px,#940000 113.0px 114.9px,#910000 118.1px 119.9px,#9e0000 123.1px 125.0px,#aa0000 128.2px 130.1px,#c20000 133.3px 135.1px,#ca0000 138.3px 140.2px,#c70000 143.4px 145.3px,#d80000 148.5px 150.3px,#dd0000 153.5px 155.4px,#fe1200 158.6px 160.4px,#ff2400 163.6px 165.5px,#ff2a00 168.7px 170.6px,#ff3e00 173.8px 175.6px,#ff5200 178.8px 180.7px,#ff5c00 183.9px 185.8px,#ff7100 189.0px 190.8px,#ff7600 194.0px 195.9px,#ff8400 199.1px 201.0px,#ff9a00 204.2px 206.0px,#ffb500 209.2px 211.1px,#ffc200 214.3px 216.2px,#ffd700 219.4px 221.2px,#ffe400 224.4px 226.3px,#ffe800 229.5px 231.3px,#ffe900 234.5px 236.4px,#ffe800 239.6px 241.5px,#fbf100 244.7px 246.5px,#efff08 249.7px 251.6px,#d6ff20 254.8px 256.7px,#d1ff26 259.9px 261.7px,#c3ff34 264.9px 266.8px,#bcff3b 270.0px 271.9px,#bfff38 275.1px 276.9px,#b0ff47 280.1px 282.0px,#aaff4d 285.2px 287.0px,#9bff5c 290.2px 292.1px,#97ff60 295.3px 297.2px,#93ff64 300.4px 302.2px,#91ff66 305.4px 307.3px,#99ff5e 310.5px 312.4px,#80ff77 315.6px 317.4px,#79ff7e 320.6px 322.5px,#73ff84 325.7px 327.6px,#64ff92 330.8px 332.6px,#68ff8f 335.8px 337.7px,#64ff93 340.9px 342.8px,#4effa9 346.0px 347.8px,#40ffb6 351.0px 352.9px,#38ffbe 356.1px 357.9px,#25ffd2 361.1px 363.0px,#1dffd9 366.2px 368.1px,#18ffdf 371.3px 373.1px,#00defd 376.3px 378.2px,#00daff 381.4px 383.3px,#00ddfd 386.5px 388.3px,#00c6ff 391.5px 393.4px,#00c3ff 396.6px 398.5px,#00beff 401.7px 403.5px,#00a5ff 406.7px 408.6px,#0097ff 411.8px 413.6px,#0098ff 416.8px 418.7px,#007bff 421.9px 423.8px,#007fff 427.0px 428.8px,#006fff 432.0px 433.9px,#0061ff 437.1px 439.0px,#006dff 442.2px 444.0px,#005cff 447.2px 449.1px,#005fff 452.3px 454.2px,#0067ff 457.4px 459.2px,#0065ff 462.4px 464.3px,#0070ff 467.5px 469.4px,#005cff 472.6px 474.4px,#0054ff 477.6px 479.5px,#002bff 482.7px 484.5px,#001fff 487.7px 489.6px,#0028ff 492.8px 494.7px,#0011ff 497.9px 499.7px,#0022ff 502.9px 504.8px,#001fff 508.0px 509.9px,#000cff 513.1px 514.9px,#0007ff 518.1px 520.0px,#0012ff 523.2px 525.1px,#0000ff 528.3px 540.2px,#0000fa 543.4px 545.3px,#0004ff 548.5px 550.4px,#000aff 553.6px 555.4px,#0000ff 558.6px 560.5px,#0009ff 563.7px 565.6px,#0000ff 568.8px 570.6px,#0000df 573.8px 575.7px,#0000d2 578.9px 580.8px,#0000bc 584.0px 585.8px,#0000af 589.0px 590.9px,#00009c 594.1px 596.0px,#0000bf 599.2px 601.0px,#000097 604.2px 606.1px,#00008f 609.3px 611.1px,#0000c0 614.3px 616.2px,#0000bb 619.4px 621.3px,#0000f2 624.5px 626.3px,#0000ff 629.5px 633.0px)"></div>
<div class="r" style="left:151px;top:447px;width:633px;height:25px;background:linear-gradient(90deg,#002aff 0.0px 3.5px,#0035ff 6.7px 8.5px,#003eff 11.7px 13.6px,#004fff 16.8px 18.7px,#0080ff 21.9px 23.7px,#00c3ff 26.9px 28.8px,#16ffe0 32.0px 33.8px,#44ffb3 37.0px 38.9px,#66ff91 42.1px 44.0px,#85ff71 47.2px 49.0px,#a5ff52 52.2px 54.1px,#caff2c 57.3px 59.2px,#f4f903 62.4px 64.2px,#ffc700 67.4px 69.3px,#ff9300 72.5px 74.4px,#ff5c00 77.6px 79.4px,#ff2e00 82.6px 84.5px,#ff1400 87.7px 89.6px,#dc0000 92.8px 94.6px,#be0000 97.8px 99.7px,#a50000 102.9px 104.7px,#8f0000 107.9px 109.8px,#a10000 113.0px 114.9px,#ba0000 118.1px 119.9px,#d00000 123.1px 125.0px,#de0000 128.2px 130.1px,#f70c00 133.3px 135.1px,#ff1700 138.3px 140.2px,#ff2900 143.4px 145.3px,#ff3b00 148.5px 150.3px,#ff4300 153.5px 155.4px,#ff5f00 158.6px 160.4px,#ff6b00 163.6px 165.5px,#ff7c00 168.7px 170.6px,#ff8a00 173.8px 180.7px,#ff9100 183.9px 185.8px,#ffa400 189.0px 190.8px,#ffad00 194.0px 195.9px,#ffb500 199.1px 201.0px,#ffbb00 204.2px 206.0px,#ffcc00 209.2px 211.1px,#ffe000 214.3px 216.2px,#effe07 219.4px 221.2px,#e0ff17 224.4px 226.3px,#d5ff21 229.5px 231.3px,#c9ff2d 234.5px 236.4px,#cbff2c 239.6px 241.5px,#cfff28 244.7px 246.5px,#beff38 249.7px 251.6px,#c9ff2e 254.8px 256.7px,#b7ff40 259.9px 261.7px,#abff4b 264.9px 266.8px,#aeff49 270.0px 271.9px,#a5ff51 275.1px 276.9px,#9fff58 280.1px 282.0px,#8eff69 285.2px 287.0px,#85ff72 290.2px 292.1px,#7cff7b 295.3px 297.2px,#6dff89 300.4px 302.2px,#6cff8a 305.4px 307.3px,#63ff94 310.5px 312.4px,#58ff9f 315.6px 317.4px,#53ffa4 320.6px 322.5px,#4cffab 325.7px 327.6px,#48ffaf 330.8px 332.6px,#3affbd 335.8px 337.7px,#2effc9 340.9px 342.8px,#13fde4 346.0px 347.8px,#02e8f5 351.0px 352.9px,#00d2ff 356.1px 357.9px,#00d4ff 361.1px 363.0px,#00d1ff 366.2px 368.1px,#00cdff 371.3px 373.1px,#00d7ff 376.3px 378.2px,#00d4ff 381.4px 383.3px,#00dffc 386.5px 388.3px,#00d3ff 391.5px 393.4px,#00c9ff 396.6px 398.5px,#00c2ff 401.7px 403.5px,#00a4ff 406.7px 408.6px,#00a0ff 411.8px 413.6px,#0088ff 416.8px 418.7px,#0073ff 421.9px 423.8px,#0079ff 427.0px 428.8px,#0072ff 432.0px 433.9px,#006fff 437.1px 439.0px,#0067ff 442.2px 444.0px,#006aff 447.2px 449.1px,#0065ff 452.3px 454.2px,#0052ff 457.4px 459.2px,#0068ff 462.4px 464.3px,#004aff 467.5px 469.4px,#003bff 472.6px 474.4px,#0039ff 477.6px 479.5px,#001aff 482.7px 484.5px,#001eff 487.7px 489.6px,#0006ff 492.8px 499.7px,#0000ff 502.9px 504.8px,#0008ff 508.0px 509.9px,#0011ff 513.1px 514.9px,#0012ff 518.1px 520.0px,#0017ff 523.2px 525.1px,#000aff 528.3px 530.1px,#0003ff 533.3px 535.2px,#0000eb 538.4px 540.2px,#0000f0 543.4px 545.3px,#0000e0 548.5px 550.4px,#0000e6 553.6px 555.4px,#0000fc 558.6px 560.5px,#0000e9 563.7px 565.6px,#0000db 568.8px 570.6px,#0000c1 573.8px 575.7px,#0000be 578.9px 580.8px,#0000bb 584.0px 585.8px,#0000b1 589.0px 590.9px,#0000b3 594.1px 596.0px,#0000af 599.2px 601.0px,#0000aa 604.2px 606.1px,#0000ba 609.3px 611.1px,#0000bb 614.3px 616.2px,#000098 619.4px 621.3px,#0000b4 624.5px 626.3px,#0000c8 629.5px 633.0px)"></div>
<div class="r" style="left:151px;top:472px;width:633px;height:27px;background:linear-gradient(90deg,#0003ff 0.0px 3.5px,#0006ff 6.7px 8.5px,#0017ff 11.7px 13.6px,#0021ff 16.8px 18.7px,#0063ff 21.9px 23.7px,#00bbff 26.9px 28.8px,#0ef7e9 32.0px 33.8px,#39ffbe 37.0px 38.9px,#6aff8d 42.1px 44.0px,#88ff6f 47.2px 49.0px,#a7ff50 52.2px 54.1px,#d2ff24 57.3px 59.2px,#faf200 62.4px 64.2px,#ffc300 67.4px 69.3px,#ff8000 72.5px 74.4px,#ff4800 77.6px 79.4px,#ff1600 82.6px 84.5px,#d80000 87.7px 89.6px,#c40000 92.8px 94.6px,#bb0000 97.8px 99.7px,#af0000 102.9px 104.7px,#c00000 107.9px 109.8px,#b70000 113.0px 114.9px,#9c0000 118.1px 125.0px,#eb0200 128.2px 130.1px,#f70d00 133.3px 135.1px,#ff2b00 138.3px 140.2px,#ff4600 143.4px 145.3px,#ff4900 148.5px 150.3px,#ff5c00 153.5px 155.4px,#ff5000 158.6px 160.4px,#ff4400 163.6px 165.5px,#ff6500 168.7px 170.6px,#ff8800 173.8px 175.6px,#ffb900 178.8px 180.7px,#ffcc00 183.9px 185.8px,#fcf000 189.0px 190.8px,#e3ff14 194.0px 195.9px,#e5ff12 199.1px 201.0px,#c9ff2e 204.2px 206.0px,#d9ff1e 209.2px 211.1px,#d7ff20 214.3px 216.2px,#ceff29 219.4px 221.2px,#d2ff24 224.4px 226.3px,#bdff3a 229.5px 231.3px,#afff48 234.5px 236.4px,#abff4c 239.6px 241.5px,#98ff5e 244.7px 246.5px,#94ff63 249.7px 251.6px,#8fff67 254.8px 256.7px,#91ff65 259.9px 261.7px,#8aff6d 264.9px 266.8px,#84ff72 270.0px 271.9px,#77ff80 275.1px 276.9px,#6dff8a 280.1px 282.0px,#70ff87 285.2px 287.0px,#66ff91 290.2px 292.1px,#63ff94 295.3px 297.2px,#59ff9d 300.4px 302.2px,#5aff9c 305.4px 307.3px,#51ffa6 310.5px 312.4px,#4bffac 315.6px 317.4px,#35ffc2 320.6px 322.5px,#22ffd5 325.7px 327.6px,#21ffd5 330.8px 332.6px,#20ffd7 335.8px 337.7px,#13fde4 340.9px 342.8px,#10f9e7 346.0px 347.8px,#03eaf4 351.0px 352.9px,#00ddfe 356.1px 357.9px,#00defd 361.1px 363.0px,#00d7ff 366.2px 368.1px,#00d1ff 371.3px 373.1px,#00c9ff 376.3px 378.2px,#00d3ff 381.4px 383.3px,#00bdff 386.5px 388.3px,#00a8ff 391.5px 393.4px,#00afff 396.6px 398.5px,#00a2ff 401.7px 403.5px,#00a1ff 406.7px 408.6px,#0095ff 411.8px 413.6px,#009bff 416.8px 418.7px,#0071ff 421.9px 423.8px,#007cff 427.0px 433.9px,#005dff 437.1px 439.0px,#005aff 442.2px 444.0px,#005cff 447.2px 449.1px,#005aff 452.3px 454.2px,#0042ff 457.4px 464.3px,#0018ff 467.5px 469.4px,#0023ff 472.6px 474.4px,#0039ff 477.6px 479.5px,#0041ff 482.7px 484.5px,#0032ff 487.7px 489.6px,#0049ff 492.8px 494.7px,#0050ff 497.9px 499.7px,#0034ff 502.9px 504.8px,#001fff 508.0px 509.9px,#0000ff 513.1px 514.9px,#0000fb 518.1px 520.0px,#0000ff 523.2px 530.1px,#0000dd 533.3px 535.2px,#0000ab 538.4px 540.2px,#0000dd 543.4px 545.3px,#0000ff 548.5px 555.4px,#0000ef 558.6px 560.5px,#0000e7 563.7px 565.6px,#0000f6 568.8px 570.6px,#0000ff 573.8px 575.7px,#0010ff 578.9px 580.8px,#0008ff 584.0px 585.8px,#0000ff 589.0px 596.0px,#0000f2 599.2px 601.0px,#0000d6 604.2px 606.1px,#0000ed 609.3px 611.1px,#0000f3 614.3px 616.2px,#0006ff 619.4px 621.3px,#0035ff 624.5px 626.3px,#0000f7 629.5px 633.0px)"></div>
<div class="r" style="left:151px;top:499px;width:633px;height:30px;background:linear-gradient(90deg,#0000ff 0.0px 13.6px,#0021ff 16.8px 18.7px,#004eff 21.9px 23.7px,#009cff 26.9px 28.8px,#0df6ea 32.0px 33.8px,#3dffba 37.0px 38.9px,#6aff8c 42.1px 44.0px,#a3ff53 47.2px 49.0px,#c9ff2e 52.2px 54.1px,#f4f903 57.3px 59.2px,#ffc800 62.4px 64.2px,#ffb100 67.4px 69.3px,#ff9100 72.5px 74.4px,#ff6800 77.6px 79.4px,#ff3400 82.6px 84.5px,#e50000 87.7px 89.6px,#ae0000 92.8px 94.6px,#830000 97.8px 99.7px,#da0000 102.9px 104.7px,#ff1500 107.9px 109.8px,#ff3800 113.0px 114.9px,#ff6100 118.1px 119.9px,#ff7c00 123.1px 125.0px,#ff9c00 128.2px 130.1px,#ffab00 133.3px 135.1px,#ffca00 138.3px 140.2px,#ffd000 143.4px 150.3px,#ffe200 153.5px 155.4px,#ffe600 158.6px 160.4px,#effe07 163.6px 165.5px,#dfff18 168.7px 170.6px,#d0ff27 173.8px 175.6px,#baff3d 178.8px 180.7px,#a9ff4d 183.9px 185.8px,#8eff68 189.0px 190.8px,#8aff6d 194.0px 195.9px,#85ff71 199.1px 201.0px,#88ff6f 204.2px 206.0px,#8bff6c 209.2px 211.1px,#85ff72 214.3px 216.2px,#72ff85 219.4px 221.2px,#59ff9d 224.4px 226.3px,#4fffa8 229.5px 231.3px,#41ffb6 234.5px 236.4px,#43ffb4 239.6px 241.5px,#43ffb3 244.7px 246.5px,#3dffba 249.7px 251.6px,#36ffc1 254.8px 256.7px,#2affcd 259.9px 261.7px,#20ffd7 264.9px 266.8px,#17ffdf 270.0px 271.9px,#0ef7e9 275.1px 276.9px,#0af1ed 280.1px 282.0px,#00defd 285.2px 287.0px,#00d0ff 290.2px 292.1px,#00cfff 295.3px 297.2px,#00c9ff 300.4px 302.2px,#00bfff 305.4px 307.3px,#00aeff 310.5px 312.4px,#00b0ff 315.6px 317.4px,#0097ff 320.6px 322.5px,#0083ff 325.7px 327.6px,#007eff 330.8px 332.6px,#0062ff 335.8px 337.7px,#0047ff 340.9px 342.8px,#0050ff 346.0px 347.8px,#0065ff 351.0px 352.9px,#005cff 356.1px 357.9px,#0063ff 361.1px 363.0px,#006fff 366.2px 368.1px,#005cff 371.3px 373.1px,#005fff 376.3px 378.2px,#0074ff 381.4px 383.3px,#0057ff 386.5px 393.4px,#005bff 396.6px 398.5px,#004eff 401.7px 403.5px,#0048ff 406.7px 408.6px,#003fff 411.8px 413.6px,#0050ff 416.8px 418.7px,#003fff 421.9px 423.8px,#003dff 427.0px 428.8px,#0049ff 432.0px 433.9px,#0015ff 437.1px 439.0px,#0035ff 442.2px 444.0px,#0040ff 447.2px 449.1px,#0036ff 452.3px 454.2px,#001bff 457.4px 459.2px,#0005ff 462.4px 464.3px,#0000ff 467.5px 469.4px,#0000f8 472.6px 474.4px,#0000fc 477.6px 479.5px,#0000ee 482.7px 484.5px,#0000e9 487.7px 489.6px,#0000e0 492.8px 494.7px,#0000d6 497.9px 499.7px,#0000cd 502.9px 504.8px,#0000db 508.0px 509.9px,#0000e2 513.1px 514.9px,#0000cb 518.1px 520.0px,#0000c4 523.2px 525.1px,#0000b2 528.3px 530.1px,#0000ad 533.3px 535.2px,#0000a3 538.4px 540.2px,#0000cc 543.4px 545.3px,#0000cf 548.5px 550.4px,#0000cb 553.6px 555.4px,#0000e9 558.6px 560.5px,#0000c3 563.7px 565.6px,#0000c9 568.8px 570.6px,#0000ca 573.8px 575.7px,#0000d1 578.9px 580.8px,#0000be 584.0px 585.8px,#0000cc 589.0px 590.9px,#0000c3 594.1px 596.0px,#0000b9 599.2px 601.0px,#0000df 604.2px 606.1px,#0000c9 609.3px 611.1px,#0000c4 614.3px 616.2px,#0000d4 619.4px 621.3px,#0000bf 624.5px 626.3px,#0000db 629.5px 633.0px)"></div>
<div class="r" style="left:151px;top:529px;width:633px;height:38px;background:linear-gradient(90deg,#0000b7 0.0px 3.5px,#0000c7 6.7px 8.5px,#0000cc 11.7px 13.6px,#0046ff 16.8px 18.7px,#00c5ff 21.9px 23.7px,#24ffd3 26.9px 28.8px,#5eff99 32.0px 33.8px,#85ff71 37.0px 38.9px,#b5ff42 42.1px 44.0px,#ddff19 47.2px 49.0px,#ffe000 52.2px 54.1px,#ffae00 57.3px 59.2px,#ff8800 62.4px 64.2px,#ff5f00 67.4px 69.3px,#ff4000 72.5px 74.4px,#ff2c00 77.6px 79.4px,#f50b00 82.6px 84.5px,#be0000 87.7px 89.6px,#9d0000 92.8px 94.6px,#800000 97.8px 104.7px,#ff8a00 107.9px 109.8px,#ff8400 113.0px 114.9px,#ff8300 118.1px 119.9px,#ff8b00 123.1px 125.0px,#ff9700 128.2px 130.1px,#ffb400 133.3px 135.1px,#ffd400 138.3px 140.2px,#ffe100 143.4px 145.3px,#f9f400 148.5px 150.3px,#e0ff17 153.5px 155.4px,#d4ff22 158.6px 160.4px,#cdff2a 163.6px 165.5px,#bfff38 168.7px 170.6px,#b4ff42 173.8px 175.6px,#abff4c 178.8px 180.7px,#9dff5a 183.9px 185.8px,#96ff61 189.0px 190.8px,#91ff66 194.0px 195.9px,#8aff6d 199.1px 201.0px,#78ff7f 204.2px 206.0px,#69ff8e 209.2px 211.1px,#58ff9e 214.3px 216.2px,#49ffae 219.4px 221.2px,#45ffb2 224.4px 226.3px,#43ffb4 229.5px 231.3px,#37ffbf 234.5px 236.4px,#34ffc3 239.6px 241.5px,#2cffcb 244.7px 246.5px,#12fce4 249.7px 251.6px,#02e8f5 254.8px 256.7px,#00ccff 259.9px 261.7px,#00a3ff 264.9px 266.8px,#00b1ff 270.0px 271.9px,#009fff 275.1px 276.9px,#0093ff 280.1px 282.0px,#009eff 285.2px 287.0px,#0087ff 290.2px 292.1px,#0094ff 295.3px 297.2px,#008fff 300.4px 302.2px,#0092ff 305.4px 307.3px,#008dff 310.5px 317.4px,#0097ff 320.6px 322.5px,#0080ff 325.7px 327.6px,#007cff 330.8px 332.6px,#0067ff 335.8px 337.7px,#0057ff 340.9px 342.8px,#0068ff 346.0px 352.9px,#0078ff 356.1px 357.9px,#0088ff 361.1px 363.0px,#0085ff 366.2px 373.1px,#0074ff 376.3px 378.2px,#0063ff 381.4px 383.3px,#005aff 386.5px 388.3px,#0057ff 391.5px 393.4px,#005eff 396.6px 398.5px,#005bff 401.7px 403.5px,#004eff 406.7px 408.6px,#0041ff 411.8px 413.6px,#0042ff 416.8px 418.7px,#0038ff 421.9px 423.8px,#0047ff 427.0px 428.8px,#0035ff 432.0px 433.9px,#002eff 437.1px 439.0px,#0029ff 442.2px 444.0px,#001dff 447.2px 449.1px,#0016ff 452.3px 454.2px,#0011ff 457.4px 459.2px,#000aff 462.4px 464.3px,#0000ff 467.5px 474.4px,#0000ef 477.6px 479.5px,#0000ec 482.7px 484.5px,#0000f4 487.7px 489.6px,#0000fe 492.8px 494.7px,#0000ff 497.9px 504.8px,#0000f6 508.0px 509.9px,#0000ff 513.1px 514.9px,#0000fc 518.1px 520.0px,#0000ed 523.2px 525.1px,#0000f3 528.3px 530.1px,#0000f7 533.3px 535.2px,#0000f8 538.4px 540.2px,#0000eb 543.4px 545.3px,#0003ff 548.5px 550.4px,#0000f2 553.6px 555.4px,#0000ff 558.6px 560.5px,#0015ff 563.7px 565.6px,#0000ff 568.8px 570.6px,#0017ff 573.8px 575.7px,#0015ff 578.9px 580.8px,#0013ff 584.0px 585.8px,#001aff 589.0px 590.9px,#0008ff 594.1px 596.0px,#0000ff 599.2px 601.0px,#0000e8 604.2px 606.1px,#0000e2 609.3px 611.1px,#0000f0 614.3px 616.2px,#0000e8 619.4px 621.3px,#0000ff 624.5px 626.3px,#0000eb 629.5px 633.0px)"></div>
<div class="r" style="left:151px;top:567px;width:633px;height:47px;background:linear-gradient(90deg,#0000f7 0.0px 3.5px,#0000ff 6.7px 8.5px,#003fff 11.7px 13.6px,#11fbe5 16.8px 18.7px,#5cff9b 21.9px 23.7px,#97ff60 26.9px 28.8px,#c8ff2f 32.0px 33.8px,#eaff0c 37.0px 38.9px,#ffcb00 42.1px 44.0px,#ffa800 47.2px 49.0px,#ff8c00 52.2px 54.1px,#ff7000 57.3px 59.2px,#ff5200 62.4px 64.2px,#ff2b00 67.4px 69.3px,#f30900 72.5px 74.4px,#d90000 77.6px 79.4px,#c60000 82.6px 84.5px,#a80000 87.7px 89.6px,#9d0000 92.8px 94.6px,#890000 97.8px 99.7px,#990000 102.9px 104.7px,#ff2b00 107.9px 109.8px,#ff3900 113.0px 114.9px,#ff5c00 118.1px 119.9px,#ff7400 123.1px 125.0px,#ff8f00 128.2px 130.1px,#ff9c00 133.3px 135.1px,#ffa300 138.3px 140.2px,#ffb600 143.4px 145.3px,#ffc400 148.5px 150.3px,#ffdb00 153.5px 155.4px,#f5f702 158.6px 160.4px,#e3ff14 163.6px 165.5px,#ccff2a 168.7px 170.6px,#baff3c 173.8px 175.6px,#b7ff3f 178.8px 180.7px,#acff4b 183.9px 185.8px,#a9ff4e 189.0px 190.8px,#a0ff56 194.0px 195.9px,#94ff62 199.1px 201.0px,#92ff65 204.2px 206.0px,#89ff6d 209.2px 211.1px,#77ff7f 214.3px 216.2px,#71ff86 219.4px 221.2px,#7bff7c 224.4px 226.3px,#6cff8b 229.5px 231.3px,#6eff89 234.5px 236.4px,#61ff96 239.6px 241.5px,#52ffa4 244.7px 246.5px,#55ffa2 249.7px 251.6px,#4bffac 254.8px 256.7px,#3dffb9 259.9px 261.7px,#28ffcf 264.9px 266.8px,#09f1ee 270.0px 271.9px,#07eef0 275.1px 276.9px,#00e2f9 280.1px 282.0px,#00defd 285.2px 287.0px,#01e7f6 290.2px 292.1px,#00dbff 295.3px 297.2px,#03eaf3 300.4px 302.2px,#00e4f8 305.4px 307.3px,#00d5ff 310.5px 312.4px,#00d7ff 315.6px 317.4px,#00c8ff 320.6px 322.5px,#00bcff 325.7px 327.6px,#00cbff 330.8px 332.6px,#00b9ff 335.8px 337.7px,#009cff 340.9px 342.8px,#008eff 346.0px 347.8px,#0083ff 351.0px 352.9px,#0074ff 356.1px 357.9px,#0082ff 361.1px 363.0px,#0075ff 366.2px 368.1px,#0074ff 371.3px 378.2px,#0064ff 381.4px 383.3px,#0067ff 386.5px 388.3px,#005cff 391.5px 393.4px,#0063ff 396.6px 398.5px,#0065ff 401.7px 403.5px,#0061ff 406.7px 408.6px,#0060ff 411.8px 413.6px,#005bff 416.8px 418.7px,#0054ff 421.9px 423.8px,#0062ff 427.0px 428.8px,#004bff 432.0px 433.9px,#0047ff 437.1px 439.0px,#0039ff 442.2px 444.0px,#001bff 447.2px 449.1px,#0026ff 452.3px 454.2px,#0021ff 457.4px 459.2px,#0025ff 462.4px 464.3px,#0029ff 467.5px 469.4px,#0011ff 472.6px 474.4px,#0008ff 477.6px 479.5px,#0000ff 482.7px 484.5px,#0006ff 487.7px 489.6px,#0005ff 492.8px 494.7px,#0000ff 497.9px 499.7px,#0008ff 502.9px 504.8px,#0000fa 508.0px 509.9px,#0000e9 513.1px 514.9px,#0000e6 518.1px 520.0px,#0000e5 523.2px 525.1px,#0000ea 528.3px 530.1px,#0000db 533.3px 535.2px,#0000de 538.4px 540.2px,#0000ee 543.4px 545.3px,#0000d8 548.5px 550.4px,#0000fb 553.6px 560.5px,#0000dd 563.7px 565.6px,#0000f3 568.8px 570.6px,#0000bc 573.8px 575.7px,#000098 578.9px 580.8px,#000088 584.0px 585.8px,#000085 589.0px 590.9px,#000094 594.1px 596.0px,#0000b5 599.2px 601.0px,#0000bf 604.2px 606.1px,#0000be 609.3px 611.1px,#0000c7 614.3px 616.2px,#0000c9 619.4px 621.3px,#0000eb 624.5px 626.3px,#0000ff 629.5px 633.0px)"></div>
<div class="r" style="left:973px;top:27px;width:633px;height:7px;background:linear-gradient(90deg,#82ff75 0.0px 3.5px,#0074ff 6.7px 8.5px,#0000f8 11.7px 13.6px,#0030ff 16.8px 18.7px,#0000c3 21.9px 23.7px,#002cff 26.9px 28.8px,#00c1ff 32.0px 33.8px,#09f1ed 37.0px 38.9px,#03e9f4 42.1px 44.0px,#00daff 47.2px 49.0px,#0091ff 52.2px 54.1px,#0007ff 57.3px 59.2px,#0027ff 62.4px 64.2px,#0051ff 67.4px 69.3px,#004aff 72.5px 74.4px,#0083ff 77.6px 79.4px,#0024ff 82.6px 84.5px,#0cf5eb 87.7px 89.6px,#0048ff 92.8px 94.6px,#0098ff 97.8px 99.7px,#33ffc4 102.9px 104.7px,#ffec00 107.9px 109.8px,#53ffa4 113.0px 114.9px,#ffa200 118.1px 119.9px,#ff9a00 123.1px 125.0px,#adff4a 128.2px 130.1px,#25ffd2 133.3px 135.1px,#00b1ff 138.3px 140.2px,#adff49 143.4px 145.3px,#bbff3b 148.5px 150.3px,#8aff6d 153.5px 155.4px,#0cf4eb 158.6px 160.4px,#67ff90 163.6px 165.5px,#ceff29 168.7px 170.6px,#bfff38 173.8px 175.6px,#d0ff26 178.8px 180.7px,#deff19 183.9px 185.8px,#e1ff15 189.0px 190.8px,#d1ff26 194.0px 195.9px,#e1ff16 199.1px 201.0px,#baff3d 204.2px 206.0px,#b1ff46 209.2px 211.1px,#7fff78 214.3px 216.2px,#27ffcf 219.4px 221.2px,#4fffa8 224.4px 226.3px,#61ff96 229.5px 231.3px,#abff4c 234.5px 236.4px,#abff4b 239.6px 241.5px,#ffc000 244.7px 246.5px,#ff8a00 249.7px 251.6px,#f8f400 254.8px 256.7px,#ffdf00 259.9px 261.7px,#ffc200 264.9px 266.8px,#ffb500 270.0px 271.9px,#f4f903 275.1px 276.9px,#ff7e00 280.1px 282.0px,#ff9a00 285.2px 287.0px,#c1ff36 290.2px 292.1px,#f7f500 295.3px 297.2px,#fdee00 300.4px 302.2px,#ff9b00 305.4px 307.3px,#f40a00 310.5px 312.4px,#d00000 315.6px 317.4px,#ff7b00 320.6px 322.5px,#ff8a00 325.7px 327.6px,#ff3300 330.8px 332.6px,#ff9000 335.8px 337.7px,#f0fd07 340.9px 342.8px,#84ff73 346.0px 347.8px,#eaff0d 351.0px 352.9px,#50ffa7 356.1px 357.9px,#44ffb3 361.1px 363.0px,#c8ff2f 366.2px 368.1px,#faf200 371.3px 373.1px,#e0ff16 376.3px 378.2px,#ff9600 381.4px 383.3px,#ffca00 386.5px 388.3px,#ffbf00 391.5px 393.4px,#ff9500 396.6px 398.5px,#ffbf00 401.7px 403.5px,#ff8100 406.7px 408.6px,#fe1200 411.8px 413.6px,#ffec00 416.8px 418.7px,#ffe700 421.9px 423.8px,#ffa100 427.0px 428.8px,#ffb200 432.0px 433.9px,#ff8300 437.1px 439.0px,#ddff1a 442.2px 444.0px,#ddff19 447.2px 449.1px,#ff8f00 452.3px 454.2px,#bc0000 457.4px 459.2px,#ee0500 462.4px 464.3px,#ffdf00 467.5px 469.4px,#d8ff1e 472.6px 474.4px,#ff9300 477.6px 479.5px,#ffca00 482.7px 484.5px,#b4ff43 487.7px 489.6px,#ffaf00 492.8px 494.7px,#ffb800 497.9px 499.7px,#f5f701 502.9px 504.8px,#94ff63 508.0px 509.9px,#b4ff43 513.1px 514.9px,#cbff2c 518.1px 520.0px,#f0fd06 523.2px 525.1px,#ffa700 528.3px 530.1px,#ffc900 533.3px 535.2px,#dbff1c 538.4px 540.2px,#b7ff40 543.4px 545.3px,#d7ff20 548.5px 550.4px,#ffc600 553.6px 555.4px,#ffbe00 558.6px 560.5px,#effe08 563.7px 565.6px,#ffa000 568.8px 570.6px,#ffd000 573.8px 575.7px,#d9ff1d 578.9px 580.8px,#ffe400 584.0px 585.8px,#e0ff17 589.0px 590.9px,#a2ff55 594.1px 596.0px,#b6ff41 599.2px 601.0px,#c3ff34 604.2px 606.1px,#f5f802 609.3px 611.1px,#8cff6a 614.3px 616.2px,#9aff5d 619.4px 621.3px,#40ffb7 624.5px 626.3px,#00cdff 629.5px 633.0px)"></div>
<div class="r" style="left:973px;top:34px;width:633px;height:8px;background:linear-gradient(90deg,#00caff 0.0px 3.5px,#7dff7a 6.7px 8.5px,#66ff91 11.7px 13.6px,#18ffdf 16.8px 18.7px,#0007ff 21.9px 23.7px,#0072ff 26.9px 28.8px,#0000ff 32.0px 33.8px,#000087 37.0px 38.9px,#003dff 42.1px 44.0px,#17ffdf 47.2px 49.0px,#86ff71 52.2px 54.1px,#10f9e7 57.3px 59.2px,#00e6f6 62.4px 64.2px,#cdff29 67.4px 69.3px,#e1ff16 72.5px 74.4px,#a7ff50 77.6px 79.4px,#b7ff40 82.6px 84.5px,#7cff7b 87.7px 89.6px,#c3ff34 92.8px 94.6px,#5cff9b 97.8px 99.7px,#c2ff35 102.9px 104.7px,#72ff85 107.9px 109.8px,#9eff58 113.0px 114.9px,#ffbc00 118.1px 119.9px,#c2ff35 123.1px 125.0px,#ff9f00 128.2px 130.1px,#06ecf1 133.3px 135.1px,#55ffa1 138.3px 140.2px,#ffd900 143.4px 145.3px,#ffd500 148.5px 150.3px,#49ffae 153.5px 155.4px,#98ff5f 158.6px 160.4px,#caff2c 163.6px 165.5px,#ff4500 168.7px 170.6px,#ec0400 173.8px 175.6px,#ff4500 178.8px 180.7px,#ffb600 183.9px 185.8px,#ff4300 189.0px 190.8px,#ff5400 194.0px 195.9px,#cbff2c 199.1px 201.0px,#6aff8d 204.2px 206.0px,#77ff7f 209.2px 211.1px,#2dffca 214.3px 216.2px,#00a5ff 219.4px 221.2px,#67ff8f 224.4px 226.3px,#43ffb4 229.5px 231.3px,#95ff61 234.5px 236.4px,#53ffa4 239.6px 241.5px,#daff1d 244.7px 246.5px,#ff8600 249.7px 251.6px,#800000 254.8px 256.7px,#980000 259.9px 261.7px,#800000 264.9px 266.8px,#9d0000 270.0px 271.9px,#ff2c00 275.1px 276.9px,#ff5a00 280.1px 282.0px,#ff3600 285.2px 287.0px,#ec0400 290.2px 292.1px,#f4f903 295.3px 297.2px,#ffa500 300.4px 302.2px,#caff2d 305.4px 307.3px,#d9ff1d 310.5px 312.4px,#ff8d00 315.6px 317.4px,#e7ff10 320.6px 322.5px,#ff3b00 325.7px 327.6px,#810000 330.8px 332.6px,#ff5f00 335.8px 337.7px,#feed00 340.9px 342.8px,#ff4300 346.0px 347.8px,#ff7000 351.0px 352.9px,#f80d00 356.1px 357.9px,#fd1100 361.1px 363.0px,#c9ff2d 366.2px 368.1px,#ffdd00 371.3px 373.1px,#48ffaf 376.3px 378.2px,#ffb800 381.4px 383.3px,#ff4b00 386.5px 388.3px,#e9ff0e 391.5px 393.4px,#ff1400 396.6px 398.5px,#ff8000 401.7px 403.5px,#ff8d00 406.7px 408.6px,#f80d00 411.8px 413.6px,#800000 416.8px 418.7px,#f7f600 421.9px 423.8px,#7bff7b 427.0px 428.8px,#ff4d00 432.0px 433.9px,#ffb900 437.1px 439.0px,#11fae6 442.2px 444.0px,#69ff8d 447.2px 449.1px,#7cff7b 452.3px 454.2px,#ff9b00 457.4px 459.2px,#ff6100 462.4px 464.3px,#67ff90 467.5px 469.4px,#35ffc2 472.6px 474.4px,#d1ff25 477.6px 479.5px,#ff4a00 482.7px 484.5px,#b30000 487.7px 489.6px,#ff8400 492.8px 494.7px,#ff1500 497.9px 499.7px,#ff1900 502.9px 504.8px,#ff5d00 508.0px 509.9px,#ffbd00 513.1px 514.9px,#800000 518.1px 520.0px,#ff3400 523.2px 525.1px,#ffab00 528.3px 530.1px,#d9ff1d 533.3px 535.2px,#f5f701 538.4px 540.2px,#ffe600 543.4px 545.3px,#f6f600 548.5px 550.4px,#ffbf00 553.6px 555.4px,#ffec00 558.6px 560.5px,#ff7f00 563.7px 565.6px,#ff9300 568.8px 570.6px,#beff39 573.8px 575.7px,#ccff2b 578.9px 580.8px,#35ffc1 584.0px 585.8px,#81ff76 589.0px 590.9px,#ff2c00 594.1px 596.0px,#00b5ff 599.2px 601.0px,#ffc700 604.2px 606.1px,#ff7200 609.3px 611.1px,#ddff1a 614.3px 616.2px,#ff4000 619.4px 621.3px,#ceff29 624.5px 626.3px,#6aff8d 629.5px 633.0px)"></div>
<div class="r" style="left:973px;top:42px;width:633px;height:7px;background:linear-gradient(90deg,#d8ff1f 0.0px 3.5px,#8aff6d 6.7px 8.5px,#0062ff 11.7px 13.6px,#41ffb6 16.8px 18.7px,#03e9f4 21.9px 23.7px,#0029ff 26.9px 28.8px,#0000c3 32.0px 33.8px,#00e6f6 37.0px 38.9px,#65ff92 42.1px 44.0px,#aeff48 47.2px 49.0px,#5dff99 52.2px 54.1px,#4dffaa 57.3px 59.2px,#14fee3 62.4px 64.2px,#3cffbb 67.4px 69.3px,#39ffbe 72.5px 74.4px,#0064ff 77.6px 79.4px,#0075ff 82.6px 84.5px,#00b4ff 87.7px 89.6px,#0df6e9 92.8px 94.6px,#11fbe5 97.8px 99.7px,#21ffd6 102.9px 104.7px,#1bffdc 107.9px 109.8px,#30ffc6 113.0px 114.9px,#b2ff45 118.1px 119.9px,#c8ff2f 123.1px 125.0px,#77ff7f 128.2px 130.1px,#c8ff2f 133.3px 135.1px,#73ff84 138.3px 140.2px,#00a0ff 143.4px 145.3px,#21ffd6 148.5px 150.3px,#94ff63 153.5px 155.4px,#54ffa3 158.6px 160.4px,#ffe000 163.6px 165.5px,#ffd300 168.7px 170.6px,#fbf100 173.8px 175.6px,#a9ff4e 178.8px 180.7px,#ccff2b 183.9px 185.8px,#c8ff2f 189.0px 190.8px,#64ff92 194.0px 195.9px,#91ff65 199.1px 201.0px,#86ff71 204.2px 206.0px,#8dff6a 209.2px 211.1px,#00d2ff 214.3px 216.2px,#9bff5c 219.4px 221.2px,#77ff7f 224.4px 226.3px,#16ffe1 229.5px 231.3px,#0042ff 234.5px 236.4px,#62ff95 239.6px 241.5px,#5aff9d 244.7px 246.5px,#ff7e00 249.7px 251.6px,#ffcd00 254.8px 256.7px,#ff5500 259.9px 261.7px,#ff6600 264.9px 266.8px,#effe08 270.0px 271.9px,#96ff61 275.1px 276.9px,#e3ff13 280.1px 282.0px,#c4ff33 285.2px 287.0px,#ff9e00 290.2px 292.1px,#f7f500 295.3px 297.2px,#dbff1b 300.4px 302.2px,#ffe800 305.4px 307.3px,#66ff91 310.5px 312.4px,#8eff69 315.6px 317.4px,#86ff70 320.6px 322.5px,#6cff8b 325.7px 327.6px,#e5ff12 330.8px 332.6px,#ffb900 335.8px 337.7px,#ffdc00 340.9px 342.8px,#ffdf00 346.0px 347.8px,#ff9900 351.0px 352.9px,#ffd500 356.1px 357.9px,#ffb600 361.1px 363.0px,#ffab00 366.2px 368.1px,#ffe600 371.3px 373.1px,#ffe500 376.3px 378.2px,#ff9100 381.4px 383.3px,#ff7e00 386.5px 393.4px,#ffb200 396.6px 398.5px,#ff9200 401.7px 403.5px,#cdff29 406.7px 408.6px,#e8ff0e 411.8px 413.6px,#74ff83 416.8px 418.7px,#bcff3a 421.9px 423.8px,#1fffd8 427.0px 428.8px,#6aff8c 432.0px 433.9px,#ffad00 437.1px 439.0px,#65ff92 442.2px 444.0px,#77ff7f 447.2px 449.1px,#beff39 452.3px 454.2px,#ed0500 457.4px 459.2px,#ff7c00 462.4px 464.3px,#c5ff31 467.5px 469.4px,#a7ff50 472.6px 474.4px,#83ff74 477.6px 479.5px,#ffe300 482.7px 484.5px,#f2fb05 487.7px 489.6px,#ff9900 492.8px 494.7px,#e0ff17 497.9px 499.7px,#ffbc00 502.9px 504.8px,#ffb900 508.0px 509.9px,#9aff5d 513.1px 514.9px,#c1ff36 518.1px 520.0px,#caff2d 523.2px 525.1px,#c1ff36 528.3px 530.1px,#94ff63 533.3px 535.2px,#e2ff15 538.4px 540.2px,#acff4a 543.4px 545.3px,#d9ff1e 548.5px 550.4px,#8dff6a 553.6px 555.4px,#6eff89 558.6px 560.5px,#e4ff13 563.7px 565.6px,#8eff69 568.8px 570.6px,#ecff0a 573.8px 575.7px,#ff9700 578.9px 580.8px,#ffa800 584.0px 585.8px,#f0fd07 589.0px 590.9px,#ff3500 594.1px 596.0px,#fbf000 599.2px 601.0px,#ffcf00 604.2px 606.1px,#ffdd00 609.3px 611.1px,#a7ff50 614.3px 616.2px,#c5ff32 619.4px 621.3px,#07eef0 624.5px 626.3px,#69ff8e 629.5px 633.0px)"></div>
<div class="r" style="left:973px;top:49px;width:633px;height:16px;background:linear-gradient(90deg,#00afff 0.0px 3.5px,#0094ff 6.7px 8.5px,#98ff5f 11.7px 13.6px,#29ffce 16.8px 18.7px,#01e7f5 21.9px 23.7px,#45ffb2 26.9px 28.8px,#000080 32.0px 38.9px,#0071ff 42.1px 44.0px,#0017ff 47.2px 49.0px,#000dff 52.2px 54.1px,#27ffd0 57.3px 59.2px,#000080 62.4px 64.2px,#004bff 67.4px 69.3px,#2affcd 72.5px 74.4px,#95ff62 77.6px 79.4px,#ddff1a 82.6px 84.5px,#3dffba 87.7px 89.6px,#0080ff 92.8px 94.6px,#0049ff 97.8px 99.7px,#007bff 102.9px 104.7px,#06edf1 107.9px 109.8px,#d9ff1d 113.0px 114.9px,#ffaf00 118.1px 119.9px,#a4ff53 123.1px 125.0px,#ffd200 128.2px 130.1px,#8aff6d 133.3px 135.1px,#85ff72 138.3px 140.2px,#00d5ff 143.4px 145.3px,#8dff69 148.5px 150.3px,#f3fa04 153.5px 155.4px,#ffa900 158.6px 160.4px,#ffb800 163.6px 165.5px,#fdef00 168.7px 170.6px,#feed00 173.8px 175.6px,#ff9a00 178.8px 180.7px,#dcff1b 183.9px 185.8px,#33ffc4 189.0px 190.8px,#00b0ff 194.0px 195.9px,#00c1ff 199.1px 201.0px,#31ffc5 204.2px 206.0px,#5fff98 209.2px 211.1px,#9fff58 214.3px 216.2px,#1fffd8 219.4px 221.2px,#a2ff54 224.4px 226.3px,#a4ff53 229.5px 231.3px,#94ff63 234.5px 236.4px,#d4ff23 239.6px 241.5px,#0069ff 244.7px 246.5px,#44ffb3 249.7px 251.6px,#f2fa04 254.8px 256.7px,#51ffa5 259.9px 261.7px,#93ff64 264.9px 266.8px,#88ff6f 270.0px 271.9px,#5cff9b 275.1px 276.9px,#faf200 280.1px 282.0px,#f0fe07 285.2px 287.0px,#ffec00 290.2px 292.1px,#ecff0b 295.3px 297.2px,#a9ff4e 300.4px 302.2px,#f3fa04 305.4px 307.3px,#ffdf00 310.5px 312.4px,#ffea00 315.6px 317.4px,#ffe700 320.6px 322.5px,#bcff3a 325.7px 327.6px,#e1ff16 330.8px 332.6px,#ffc200 335.8px 337.7px,#d1ff26 340.9px 342.8px,#d9ff1e 346.0px 352.9px,#ffe300 356.1px 357.9px,#ff7500 361.1px 363.0px,#fb1000 366.2px 368.1px,#ddff1a 371.3px 373.1px,#ff4600 376.3px 378.2px,#ea0200 381.4px 383.3px,#ff1f00 386.5px 388.3px,#ffc200 391.5px 393.4px,#ff9b00 396.6px 398.5px,#ff9400 401.7px 403.5px,#ff7300 406.7px 408.6px,#ff8a00 411.8px 413.6px,#ff3800 416.8px 418.7px,#fcef00 421.9px 423.8px,#ffe800 427.0px 428.8px,#c9ff2d 432.0px 433.9px,#ffc400 437.1px 439.0px,#faf200 442.2px 444.0px,#e0ff17 447.2px 449.1px,#ffe900 452.3px 454.2px,#ff1f00 457.4px 459.2px,#ffda00 462.4px 464.3px,#62ff94 467.5px 469.4px,#84ff72 472.6px 474.4px,#92ff64 477.6px 479.5px,#7bff7c 482.7px 484.5px,#66ff90 487.7px 489.6px,#88ff6f 492.8px 494.7px,#65ff92 497.9px 499.7px,#55ffa2 502.9px 504.8px,#edff09 508.0px 509.9px,#ffc600 513.1px 514.9px,#ffa900 518.1px 520.0px,#ffa200 523.2px 525.1px,#ffab00 528.3px 530.1px,#f9f300 533.3px 535.2px,#ffb300 538.4px 540.2px,#ffcc00 543.4px 545.3px,#e6ff11 548.5px 550.4px,#ffab00 553.6px 555.4px,#ffd900 558.6px 560.5px,#ffb800 563.7px 565.6px,#acff4b 568.8px 570.6px,#26ffd0 573.8px 575.7px,#ff6b00 578.9px 580.8px,#acff4b 584.0px 585.8px,#d7ff20 589.0px 590.9px,#89ff6e 594.1px 596.0px,#97ff60 599.2px 601.0px,#d6ff20 604.2px 606.1px,#acff4b 609.3px 611.1px,#5eff99 614.3px 616.2px,#8cff6b 619.4px 621.3px,#38ffbe 624.5px 626.3px,#8aff6d 629.5px 633.0px)"></div>
<div class="r" style="left:973px;top:65px;width:633px;height:50px;background:linear-gradient(90deg,#0000c5 0.0px 3.5px,#0030ff 6.7px 8.5px,#0000f1 11.7px 13.6px,#0000e5 16.8px 18.7px,#0000ff 21.9px 23.7px,#0094ff 26.9px 28.8px,#009aff 32.0px 33.8px,#00bdff 37.0px 38.9px,#008aff 42.1px 44.0px,#1dffd9 47.2px 49.0px,#29ffce 52.2px 54.1px,#75ff82 57.3px 59.2px,#73ff84 62.4px 64.2px,#9cff5b 67.4px 69.3px,#dcff1b 72.5px 74.4px,#ff9200 77.6px 79.4px,#ff7400 82.6px 84.5px,#ff5a00 87.7px 89.6px,#ff3700 92.8px 94.6px,#ff6400 97.8px 99.7px,#ff6c00 102.9px 104.7px,#ff5d00 107.9px 109.8px,#ff8400 113.0px 114.9px,#ff9200 118.1px 119.9px,#ff4d00 123.1px 125.0px,#ff3d00 128.2px 130.1px,#ff4800 133.3px 135.1px,#fa0e00 138.3px 140.2px,#ff5c00 143.4px 145.3px,#ff4b00 148.5px 150.3px,#ff3300 153.5px 155.4px,#ffa500 158.6px 160.4px,#ffb600 163.6px 165.5px,#ffb500 168.7px 170.6px,#ffba00 173.8px 175.6px,#ffdb00 178.8px 180.7px,#ffc500 183.9px 185.8px,#ff8900 189.0px 190.8px,#ffc500 194.0px 195.9px,#ffcc00 199.1px 201.0px,#ffb400 204.2px 206.0px,#ffc300 209.2px 211.1px,#ffea00 214.3px 216.2px,#ffe800 219.4px 221.2px,#ffb400 224.4px 226.3px,#ffc700 229.5px 231.3px,#ffa200 234.5px 236.4px,#ff6900 239.6px 241.5px,#ff7100 244.7px 246.5px,#ffcd00 249.7px 251.6px,#ff9d00 254.8px 256.7px,#ff9900 259.9px 261.7px,#ff7c00 264.9px 266.8px,#ff4800 270.0px 271.9px,#ff6600 275.1px 276.9px,#ff5500 280.1px 282.0px,#ff6400 285.2px 287.0px,#ff4b00 290.2px 292.1px,#ff4a00 295.3px 297.2px,#ff6900 300.4px 302.2px,#ff3200 305.4px 307.3px,#ff2a00 310.5px 312.4px,#ff2900 315.6px 317.4px,#ff2600 320.6px 322.5px,#ff6800 325.7px 327.6px,#ff7600 330.8px 332.6px,#ff2500 335.8px 337.7px,#ffb500 340.9px 342.8px,#ff4900 346.0px 347.8px,#e60000 351.0px 352.9px,#ff2700 356.1px 357.9px,#fb0f00 361.1px 363.0px,#b80000 366.2px 368.1px,#fd1100 371.3px 373.1px,#ff4400 376.3px 378.2px,#f80d00 381.4px 383.3px,#ff2500 386.5px 388.3px,#ff2c00 391.5px 393.4px,#df0000 396.6px 398.5px,#d20000 401.7px 403.5px,#f70d00 406.7px 408.6px,#d60000 411.8px 413.6px,#ff1f00 416.8px 418.7px,#ff2a00 421.9px 423.8px,#ff4200 427.0px 428.8px,#ff1c00 432.0px 433.9px,#ff6600 437.1px 439.0px,#ff3b00 442.2px 444.0px,#ff2000 447.2px 449.1px,#ff1700 452.3px 454.2px,#ff5000 457.4px 459.2px,#ff1a00 462.4px 464.3px,#ff1800 467.5px 469.4px,#ff2400 472.6px 474.4px,#ff4e00 477.6px 479.5px,#ff6200 482.7px 484.5px,#ff3d00 487.7px 489.6px,#ff8700 492.8px 494.7px,#ff7400 497.9px 499.7px,#ff7a00 502.9px 504.8px,#ff9100 508.0px 509.9px,#ff8100 513.1px 514.9px,#ffb100 518.1px 520.0px,#ffc900 523.2px 525.1px,#ffbb00 528.3px 530.1px,#ffa400 533.3px 535.2px,#ffc600 538.4px 540.2px,#ffa100 543.4px 545.3px,#ffab00 548.5px 550.4px,#ffc000 553.6px 555.4px,#ffad00 558.6px 560.5px,#ffc800 563.7px 565.6px,#ffd300 568.8px 570.6px,#fcef00 573.8px 575.7px,#f3fa04 578.9px 580.8px,#edff0a 584.0px 585.8px,#ffea00 589.0px 590.9px,#ffda00 594.1px 596.0px,#ffe400 599.2px 601.0px,#f4f903 604.2px 606.1px,#e3ff14 609.3px 611.1px,#deff19 614.3px 616.2px,#c0ff36 619.4px 621.3px,#f1fd06 624.5px 626.3px,#fdef00 629.5px 633.0px)"></div>
<div class="r" style="left:973px;top:115px;width:633px;height:19px;background:linear-gradient(90deg,#000090 0.0px 3.5px,#0000b2 6.7px 8.5px,#0000b5 11.7px 13.6px,#0000f0 16.8px 18.7px,#001bff 21.9px 23.7px,#002dff 26.9px 28.8px,#009aff 32.0px 33.8px,#00b6ff 37.0px 38.9px,#3bffbc 42.1px 44.0px,#7eff79 47.2px 49.0px,#8eff69 52.2px 54.1px,#adff49 57.3px 59.2px,#e7ff10 62.4px 64.2px,#ffd700 67.4px 69.3px,#ffdb00 72.5px 74.4px,#f20800 77.6px 79.4px,#ef0600 82.6px 84.5px,#ca0000 87.7px 89.6px,#b50000 92.8px 94.6px,#ff2400 97.8px 99.7px,#f40a00 102.9px 104.7px,#ff1e00 107.9px 109.8px,#ff6c00 113.0px 114.9px,#ff2e00 118.1px 119.9px,#ff6200 123.1px 125.0px,#ff2f00 128.2px 130.1px,#c60000 133.3px 135.1px,#ea0200 138.3px 140.2px,#ff7f00 143.4px 145.3px,#ff6100 148.5px 150.3px,#ff3900 153.5px 155.4px,#ff2f00 158.6px 160.4px,#ff3500 163.6px 165.5px,#ff4b00 168.7px 170.6px,#ff5700 173.8px 175.6px,#ff6c00 178.8px 180.7px,#ff6300 183.9px 185.8px,#ff7900 189.0px 190.8px,#ff8400 194.0px 195.9px,#ff6400 199.1px 206.0px,#ff6d00 209.2px 211.1px,#ff5f00 214.3px 216.2px,#ff4700 219.4px 221.2px,#ff3600 224.4px 226.3px,#ff4600 229.5px 231.3px,#ff3c00 234.5px 236.4px,#ff2c00 239.6px 241.5px,#ff2600 244.7px 246.5px,#ff3300 249.7px 251.6px,#ff1b00 254.8px 256.7px,#cb0000 259.9px 261.7px,#c20000 264.9px 266.8px,#c60000 270.0px 271.9px,#fc1100 275.1px 276.9px,#ff3800 280.1px 282.0px,#ff5700 285.2px 287.0px,#ff5f00 290.2px 292.1px,#ff5100 295.3px 302.2px,#ff5800 305.4px 307.3px,#ff5c00 310.5px 312.4px,#ff4e00 315.6px 317.4px,#ff4500 320.6px 322.5px,#ff4c00 325.7px 327.6px,#ff2b00 330.8px 332.6px,#ff1700 335.8px 337.7px,#ff1a00 340.9px 342.8px,#ee0500 346.0px 347.8px,#ff2c00 351.0px 352.9px,#ff4900 356.1px 357.9px,#ff5200 361.1px 363.0px,#ff6200 366.2px 368.1px,#ff5e00 371.3px 373.1px,#ff6000 376.3px 378.2px,#ff6600 381.4px 383.3px,#ff5b00 386.5px 388.3px,#ff7200 391.5px 393.4px,#ff8e00 396.6px 398.5px,#ff5c00 401.7px 403.5px,#ff6300 406.7px 408.6px,#ff4d00 411.8px 413.6px,#ff1400 416.8px 418.7px,#ff2500 421.9px 423.8px,#ff1b00 427.0px 428.8px,#ff1d00 432.0px 439.0px,#f20800 442.2px 444.0px,#ec0300 447.2px 449.1px,#fb1000 452.3px 454.2px,#ff5f00 457.4px 459.2px,#ff3700 462.4px 464.3px,#ff6200 467.5px 469.4px,#ffc800 472.6px 474.4px,#ffd200 477.6px 479.5px,#e5ff12 482.7px 484.5px,#eaff0d 487.7px 489.6px,#e1ff15 492.8px 494.7px,#bfff38 497.9px 499.7px,#dfff18 502.9px 504.8px,#d6ff21 508.0px 509.9px,#c3ff33 513.1px 514.9px,#e4ff12 518.1px 520.0px,#dfff18 523.2px 525.1px,#d1ff26 528.3px 530.1px,#f2fb05 533.3px 535.2px,#fbf100 538.4px 540.2px,#fbf000 543.4px 545.3px,#ffed00 548.5px 550.4px,#f8f400 553.6px 555.4px,#f9f300 558.6px 560.5px,#ddff1a 563.7px 565.6px,#c5ff32 568.8px 570.6px,#b1ff46 573.8px 575.7px,#d4ff23 578.9px 580.8px,#a9ff4e 584.0px 585.8px,#aeff49 589.0px 590.9px,#88ff6f 594.1px 596.0px,#55ffa2 599.2px 601.0px,#59ff9e 604.2px 606.1px,#4fffa8 609.3px 611.1px,#74ff82 614.3px 616.2px,#80ff77 619.4px 621.3px,#70ff87 624.5px 626.3px,#53ffa3 629.5px 633.0px)"></div>
<div class="r" style="left:973px;top:134px;width:633px;height:18px;background:linear-gradient(90deg,#0000bc 0.0px 3.5px,#0000cc 6.7px 8.5px,#0000ff 11.7px 13.6px,#000bff 16.8px 18.7px,#0031ff 21.9px 23.7px,#0089ff 26.9px 33.8px,#00ccff 37.0px 38.9px,#35ffc2 42.1px 44.0px,#5dff9a 47.2px 49.0px,#85ff72 52.2px 54.1px,#afff48 57.3px 59.2px,#e8ff0e 62.4px 64.2px,#fcf000 67.4px 69.3px,#ff9e00 72.5px 74.4px,#ff5b00 77.6px 79.4px,#ff2000 82.6px 84.5px,#c10000 87.7px 89.6px,#9b0000 92.8px 94.6px,#eb0200 97.8px 99.7px,#e80000 102.9px 104.7px,#ff3100 107.9px 109.8px,#ff7f00 113.0px 114.9px,#ff5f00 118.1px 119.9px,#ff5c00 123.1px 125.0px,#ff5400 128.2px 130.1px,#ff8700 133.3px 135.1px,#ff8100 138.3px 140.2px,#ff6d00 143.4px 145.3px,#ff7000 148.5px 150.3px,#ff7d00 153.5px 155.4px,#ff8500 158.6px 160.4px,#ffa200 163.6px 165.5px,#ffba00 168.7px 170.6px,#ffbc00 173.8px 175.6px,#ffc900 178.8px 180.7px,#ffc100 183.9px 185.8px,#ffce00 189.0px 190.8px,#ffd300 194.0px 195.9px,#ffd800 199.1px 201.0px,#ffcd00 204.2px 206.0px,#ffbb00 209.2px 211.1px,#ffbc00 214.3px 216.2px,#ffc900 219.4px 221.2px,#ffc500 224.4px 226.3px,#ff9700 229.5px 231.3px,#ff9900 234.5px 236.4px,#ffd400 239.6px 241.5px,#ffe900 244.7px 246.5px,#f4f802 249.7px 251.6px,#feed00 254.8px 256.7px,#ffe300 259.9px 261.7px,#ffce00 264.9px 266.8px,#ffb500 270.0px 271.9px,#ffbc00 275.1px 276.9px,#ffbb00 280.1px 282.0px,#ffb800 285.2px 287.0px,#ffc600 290.2px 292.1px,#ffbc00 295.3px 297.2px,#ffc000 300.4px 302.2px,#ffb800 305.4px 307.3px,#ffad00 310.5px 312.4px,#ffa300 315.6px 317.4px,#ff9d00 320.6px 322.5px,#ff9100 325.7px 327.6px,#ff9f00 330.8px 332.6px,#ffa300 335.8px 337.7px,#ffac00 340.9px 342.8px,#ffbc00 346.0px 347.8px,#ffb800 351.0px 352.9px,#ffbb00 356.1px 357.9px,#ffcb00 361.1px 363.0px,#f0fd07 366.2px 368.1px,#ffb900 371.3px 373.1px,#ff9500 376.3px 378.2px,#ff8000 381.4px 383.3px,#ff8f00 386.5px 388.3px,#ff9b00 391.5px 393.4px,#ffb500 396.6px 398.5px,#ffc800 401.7px 403.5px,#ffbd00 406.7px 408.6px,#ffb400 411.8px 413.6px,#ffb100 416.8px 418.7px,#ffa800 421.9px 423.8px,#ffaf00 427.0px 428.8px,#ffc800 432.0px 433.9px,#ffbc00 437.1px 439.0px,#ffdd00 442.2px 444.0px,#ffde00 447.2px 449.1px,#ffcc00 452.3px 454.2px,#ffca00 457.4px 459.2px,#ffc300 462.4px 464.3px,#ffc000 467.5px 469.4px,#ffd200 472.6px 474.4px,#feed00 477.6px 479.5px,#eeff09 482.7px 484.5px,#ccff2b 487.7px 489.6px,#9fff58 492.8px 494.7px,#a2ff55 497.9px 499.7px,#b0ff47 502.9px 504.8px,#aeff49 508.0px 509.9px,#b5ff41 513.1px 514.9px,#beff39 518.1px 520.0px,#c8ff2f 523.2px 525.1px,#ccff2b 528.3px 530.1px,#caff2d 533.3px 535.2px,#b4ff42 538.4px 540.2px,#bcff3b 543.4px 545.3px,#b5ff42 548.5px 550.4px,#93ff64 553.6px 555.4px,#7aff7d 558.6px 560.5px,#70ff87 563.7px 565.6px,#7aff7d 568.8px 570.6px,#77ff80 573.8px 575.7px,#86ff70 578.9px 580.8px,#7cff7b 584.0px 585.8px,#6dff8a 589.0px 596.0px,#7eff79 599.2px 601.0px,#70ff87 604.2px 606.1px,#59ff9e 609.3px 611.1px,#59ff9d 614.3px 616.2px,#2dffc9 619.4px 621.3px,#26ffd1 624.5px 626.3px,#1dffd9 629.5px 633.0px)"></div>
<div class="r" style="left:973px;top:152px;width:633px;height:20px;background:linear-gradient(90deg,#0000ed 0.0px 3.5px,#0000f3 6.7px 8.5px,#0000c2 11.7px 13.6px,#0004ff 16.8px 18.7px,#003dff 21.9px 23.7px,#0047ff 26.9px 28.8px,#006dff 32.0px 33.8px,#11fbe6 37.0px 38.9px,#41ffb5 42.1px 44.0px,#6fff88 47.2px 49.0px,#92ff64 52.2px 54.1px,#c5ff32 57.3px 59.2px,#ffea00 62.4px 64.2px,#ffb200 67.4px 69.3px,#ff7200 72.5px 74.4px,#ff3300 77.6px 79.4px,#d40000 82.6px 84.5px,#8f0000 87.7px 89.6px,#9e0000 92.8px 94.6px,#a60000 97.8px 99.7px,#bc0000 102.9px 104.7px,#c70000 107.9px 109.8px,#d80000 113.0px 114.9px,#ed0400 118.1px 119.9px,#e80000 123.1px 125.0px,#d10000 128.2px 130.1px,#de0000 133.3px 135.1px,#ff2000 138.3px 140.2px,#ff4000 143.4px 145.3px,#ff5700 148.5px 150.3px,#ff5a00 153.5px 155.4px,#ff5b00 158.6px 160.4px,#ff5c00 163.6px 165.5px,#ff6800 168.7px 170.6px,#ff7900 173.8px 175.6px,#ff9c00 178.8px 180.7px,#ffa200 183.9px 185.8px,#ffab00 189.0px 190.8px,#ffb600 194.0px 195.9px,#ffb100 199.1px 201.0px,#ffbb00 204.2px 211.1px,#ffc000 214.3px 216.2px,#fdee00 219.4px 221.2px,#edff0a 224.4px 226.3px,#ffd500 229.5px 231.3px,#ffa200 234.5px 236.4px,#ff9b00 239.6px 241.5px,#ff9f00 244.7px 246.5px,#ff9700 249.7px 251.6px,#ff9600 254.8px 256.7px,#ff9b00 259.9px 261.7px,#ff8d00 264.9px 266.8px,#ff8500 270.0px 271.9px,#ff9700 275.1px 276.9px,#ff8c00 280.1px 282.0px,#ff9400 285.2px 287.0px,#ff9a00 290.2px 292.1px,#ff8e00 295.3px 297.2px,#ff9c00 300.4px 302.2px,#ffac00 305.4px 307.3px,#ffb100 310.5px 312.4px,#ffb800 315.6px 317.4px,#ffba00 320.6px 322.5px,#ffaa00 325.7px 327.6px,#ffb100 330.8px 332.6px,#ffa800 335.8px 337.7px,#ff9d00 340.9px 342.8px,#ff9500 346.0px 347.8px,#ff9b00 351.0px 352.9px,#ff9e00 356.1px 357.9px,#ffb600 361.1px 363.0px,#ffea00 366.2px 368.1px,#deff18 371.3px 373.1px,#c0ff36 376.3px 378.2px,#ccff2b 381.4px 383.3px,#d6ff21 386.5px 388.3px,#f2fb04 391.5px 393.4px,#e9ff0e 396.6px 398.5px,#f0fe07 401.7px 403.5px,#fbf000 406.7px 408.6px,#e5ff12 411.8px 413.6px,#e3ff14 416.8px 418.7px,#e6ff11 421.9px 423.8px,#ddff1a 427.0px 428.8px,#e2ff15 432.0px 433.9px,#cdff2a 437.1px 439.0px,#c4ff33 442.2px 444.0px,#b3ff44 447.2px 449.1px,#9bff5c 452.3px 454.2px,#a9ff4e 457.4px 459.2px,#a1ff56 462.4px 464.3px,#a9ff4d 467.5px 469.4px,#b3ff43 472.6px 474.4px,#93ff64 477.6px 479.5px,#97ff60 482.7px 484.5px,#9eff58 487.7px 489.6px,#92ff65 492.8px 494.7px,#a7ff50 497.9px 499.7px,#acff4b 502.9px 504.8px,#a8ff4f 508.0px 509.9px,#83ff74 513.1px 514.9px,#73ff84 518.1px 520.0px,#5aff9d 523.2px 525.1px,#3dffba 528.3px 530.1px,#51ffa6 533.3px 535.2px,#32ffc5 538.4px 540.2px,#0bf3ec 543.4px 545.3px,#06edf1 548.5px 550.4px,#00cbff 553.6px 555.4px,#00d7ff 558.6px 560.5px,#06edf1 563.7px 565.6px,#00ddfe 568.8px 570.6px,#00e3f8 573.8px 575.7px,#00b2ff 578.9px 580.8px,#009cff 584.0px 585.8px,#0078ff 589.0px 590.9px,#007cff 594.1px 596.0px,#0075ff 599.2px 601.0px,#0078ff 604.2px 606.1px,#007eff 609.3px 611.1px,#0064ff 614.3px 616.2px,#0066ff 619.4px 621.3px,#005aff 624.5px 626.3px,#004eff 629.5px 633.0px)"></div>
<div class="r" style="left:973px;top:172px;width:633px;height:21px;background:linear-gradient(90deg,#0000a5 0.0px 3.5px,#0000b3 6.7px 8.5px,#0000e3 11.7px 13.6px,#0005ff 16.8px 18.7px,#0009ff 21.9px 23.7px,#0051ff 26.9px 28.8px,#00a9ff 32.0px 33.8px,#02e8f5 37.0px 38.9px,#38ffbf 42.1px 44.0px,#65ff91 47.2px 49.0px,#95ff62 52.2px 54.1px,#c0ff37 57.3px 59.2px,#e7ff10 62.4px 64.2px,#ffc800 67.4px 69.3px,#ff6e00 72.5px 74.4px,#ff1d00 77.6px 79.4px,#d90000 82.6px 84.5px,#be0000 87.7px 89.6px,#af0000 92.8px 94.6px,#ca0000 97.8px 99.7px,#f80d00 102.9px 104.7px,#ff1800 107.9px 109.8px,#ff2000 113.0px 114.9px,#ff3200 118.1px 119.9px,#ff5800 123.1px 125.0px,#ff8300 128.2px 130.1px,#ff9400 133.3px 135.1px,#ffae00 138.3px 140.2px,#ffc500 143.4px 145.3px,#ffdd00 148.5px 150.3px,#f9f400 153.5px 155.4px,#e1ff16 158.6px 160.4px,#d5ff21 163.6px 165.5px,#d0ff27 168.7px 170.6px,#c3ff33 173.8px 175.6px,#c4ff33 178.8px 180.7px,#c2ff34 183.9px 185.8px,#c3ff34 189.0px 190.8px,#c7ff30 194.0px 195.9px,#bbff3c 199.1px 201.0px,#b7ff40 204.2px 206.0px,#b0ff46 209.2px 211.1px,#a8ff4f 214.3px 216.2px,#a7ff50 219.4px 221.2px,#a6ff51 224.4px 226.3px,#9bff5c 229.5px 231.3px,#aaff4d 234.5px 236.4px,#abff4c 239.6px 241.5px,#b6ff41 244.7px 246.5px,#c5ff32 249.7px 251.6px,#d0ff27 254.8px 256.7px,#dcff1b 259.9px 261.7px,#d3ff24 264.9px 266.8px,#d1ff26 270.0px 271.9px,#c6ff31 275.1px 276.9px,#c4ff32 280.1px 282.0px,#ceff28 285.2px 287.0px,#caff2d 290.2px 292.1px,#c7ff2f 295.3px 297.2px,#c2ff35 300.4px 302.2px,#c0ff37 305.4px 307.3px,#c7ff30 310.5px 312.4px,#c3ff34 315.6px 317.4px,#c6ff30 320.6px 322.5px,#cbff2c 325.7px 327.6px,#bdff3a 330.8px 332.6px,#b6ff41 335.8px 337.7px,#b5ff41 340.9px 342.8px,#b9ff3d 346.0px 347.8px,#b2ff44 351.0px 352.9px,#b4ff43 356.1px 357.9px,#b3ff44 361.1px 363.0px,#a0ff57 366.2px 368.1px,#9cff5b 371.3px 373.1px,#a3ff54 376.3px 378.2px,#8aff6d 381.4px 383.3px,#90ff67 386.5px 388.3px,#95ff62 391.5px 393.4px,#90ff67 396.6px 398.5px,#97ff60 401.7px 403.5px,#92ff64 406.7px 408.6px,#81ff76 411.8px 413.6px,#65ff92 416.8px 418.7px,#61ff96 421.9px 423.8px,#56ffa1 427.0px 428.8px,#55ffa1 432.0px 433.9px,#65ff91 437.1px 439.0px,#71ff86 442.2px 444.0px,#69ff8e 447.2px 449.1px,#6fff88 452.3px 454.2px,#5dff9a 457.4px 459.2px,#46ffb1 462.4px 464.3px,#31ffc5 467.5px 469.4px,#22ffd4 472.6px 474.4px,#14fee3 477.6px 479.5px,#0ef6e9 482.7px 484.5px,#00e6f6 487.7px 489.6px,#06edf1 492.8px 494.7px,#00dcfe 497.9px 499.7px,#00e4f8 502.9px 504.8px,#00d6ff 508.0px 509.9px,#00d0ff 513.1px 514.9px,#00e3f9 518.1px 520.0px,#00d8ff 523.2px 525.1px,#07eef0 528.3px 530.1px,#00c7ff 533.3px 535.2px,#00b8ff 538.4px 540.2px,#00a2ff 543.4px 545.3px,#0089ff 548.5px 550.4px,#009dff 553.6px 555.4px,#0087ff 558.6px 560.5px,#0073ff 563.7px 565.6px,#0063ff 568.8px 570.6px,#005aff 573.8px 575.7px,#0048ff 578.9px 580.8px,#0031ff 584.0px 585.8px,#0036ff 589.0px 590.9px,#0047ff 594.1px 596.0px,#006bff 599.2px 601.0px,#0079ff 604.2px 606.1px,#007fff 609.3px 611.1px,#0071ff 614.3px 616.2px,#0047ff 619.4px 621.3px,#0026ff 624.5px 626.3px,#0028ff 629.5px 633.0px)"></div>
<div class="r" style="left:973px;top:193px;width:633px;height:22px;background:linear-gradient(90deg,#000099 0.0px 3.5px,#0000b5 6.7px 8.5px,#0000da 11.7px 13.6px,#0005ff 16.8px 18.7px,#002dff 21.9px 23.7px,#0057ff 26.9px 28.8px,#008aff 32.0px 33.8px,#00c1ff 37.0px 38.9px,#25ffd1 42.1px 44.0px,#5dff9a 47.2px 49.0px,#85ff71 52.2px 54.1px,#abff4c 57.3px 59.2px,#e5ff11 62.4px 64.2px,#ffd200 67.4px 69.3px,#ff9100 72.5px 74.4px,#ff4700 77.6px 79.4px,#fd1100 82.6px 84.5px,#c30000 87.7px 89.6px,#830000 92.8px 94.6px,#a90000 97.8px 99.7px,#d70000 102.9px 104.7px,#f70c00 107.9px 109.8px,#ff3800 113.0px 114.9px,#ff5300 118.1px 119.9px,#ff5b00 123.1px 125.0px,#ff6a00 128.2px 130.1px,#ff6d00 133.3px 135.1px,#ff7900 138.3px 140.2px,#ff8400 143.4px 145.3px,#ff8600 148.5px 150.3px,#ff9600 153.5px 155.4px,#ffb700 158.6px 160.4px,#ffce00 163.6px 165.5px,#ffde00 168.7px 170.6px,#faf100 173.8px 175.6px,#fbf100 178.8px 180.7px,#fcef00 183.9px 185.8px,#f2fb05 189.0px 190.8px,#e8ff0e 194.0px 195.9px,#ddff1a 199.1px 201.0px,#d4ff23 204.2px 206.0px,#ceff29 209.2px 211.1px,#d7ff20 214.3px 216.2px,#e0ff17 219.4px 221.2px,#ddff19 224.4px 226.3px,#d6ff21 229.5px 231.3px,#cbff2c 234.5px 236.4px,#c6ff30 239.6px 241.5px,#ccff2b 244.7px 246.5px,#ceff28 249.7px 251.6px,#cdff29 254.8px 256.7px,#d2ff25 259.9px 261.7px,#c7ff30 264.9px 266.8px,#dbff1c 270.0px 271.9px,#dbff1b 275.1px 276.9px,#dcff1b 280.1px 282.0px,#d2ff24 285.2px 287.0px,#c8ff2f 290.2px 292.1px,#c5ff31 295.3px 297.2px,#b0ff47 300.4px 302.2px,#c7ff30 305.4px 307.3px,#beff39 310.5px 312.4px,#bcff3b 315.6px 317.4px,#bcff3a 320.6px 322.5px,#aeff49 325.7px 327.6px,#adff49 330.8px 332.6px,#a7ff50 335.8px 337.7px,#a6ff51 340.9px 342.8px,#91ff66 346.0px 347.8px,#8bff6c 351.0px 352.9px,#79ff7d 356.1px 357.9px,#77ff80 361.1px 363.0px,#76ff81 366.2px 368.1px,#64ff93 371.3px 373.1px,#79ff7e 376.3px 378.2px,#6dff8a 381.4px 383.3px,#6aff8c 386.5px 388.3px,#71ff86 391.5px 393.4px,#5eff99 396.6px 398.5px,#60ff97 401.7px 403.5px,#6aff8d 406.7px 408.6px,#5cff9b 411.8px 413.6px,#5eff99 416.8px 418.7px,#58ff9f 421.9px 423.8px,#38ffbf 427.0px 428.8px,#3effb9 432.0px 433.9px,#3affbd 437.1px 439.0px,#2bffcc 442.2px 444.0px,#29ffcd 447.2px 449.1px,#13fde4 452.3px 454.2px,#10f9e7 457.4px 459.2px,#00e5f8 462.4px 464.3px,#00e1fa 467.5px 469.4px,#00c8ff 472.6px 474.4px,#00acff 477.6px 479.5px,#008cff 482.7px 484.5px,#0072ff 487.7px 489.6px,#0085ff 492.8px 494.7px,#0072ff 497.9px 504.8px,#006fff 508.0px 509.9px,#005dff 513.1px 514.9px,#0055ff 518.1px 520.0px,#0060ff 523.2px 525.1px,#0059ff 528.3px 530.1px,#0063ff 533.3px 535.2px,#006dff 538.4px 540.2px,#0067ff 543.4px 545.3px,#006aff 548.5px 550.4px,#0061ff 553.6px 555.4px,#003aff 558.6px 560.5px,#0054ff 563.7px 565.6px,#0029ff 568.8px 570.6px,#0038ff 573.8px 575.7px,#0033ff 578.9px 580.8px,#0000ff 584.0px 590.9px,#0000cc 594.1px 596.0px,#0000d9 599.2px 601.0px,#0000e6 604.2px 606.1px,#000eff 609.3px 611.1px,#0019ff 614.3px 616.2px,#0004ff 619.4px 621.3px,#001aff 624.5px 626.3px,#001dff 629.5px 633.0px)"></div>
<div class="r" style="left:973px;top:215px;width:633px;height:62px;background:linear-gradient(90deg,#00008f 0.0px 3.5px,#0000a4 6.7px 8.5px,#0000bb 11.7px 13.6px,#0000f9 16.8px 18.7px,#000eff 21.9px 23.7px,#003aff 26.9px 28.8px,#008fff 32.0px 33.8px,#00d8ff 37.0px 38.9px,#24ffd3 42.1px 44.0px,#4effa9 47.2px 49.0px,#7eff78 52.2px 54.1px,#a0ff57 57.3px 59.2px,#d2ff25 62.4px 64.2px,#ffe800 67.4px 69.3px,#ff9c00 72.5px 74.4px,#ff4900 77.6px 79.4px,#e50000 82.6px 84.5px,#9f0000 87.7px 89.6px,#a90000 92.8px 94.6px,#f70c00 97.8px 99.7px,#ff4300 102.9px 104.7px,#ff6f00 107.9px 109.8px,#ff8700 113.0px 114.9px,#ffa000 118.1px 119.9px,#ffc300 123.1px 125.0px,#ffd600 128.2px 130.1px,#f3fa04 133.3px 135.1px,#dbff1b 138.3px 140.2px,#d7ff20 143.4px 145.3px,#bcff3b 148.5px 150.3px,#b2ff45 153.5px 155.4px,#abff4c 158.6px 160.4px,#9eff59 163.6px 165.5px,#99ff5e 168.7px 170.6px,#8aff6d 173.8px 175.6px,#8bff6c 178.8px 180.7px,#7dff7a 183.9px 185.8px,#77ff80 189.0px 190.8px,#7bff7c 194.0px 195.9px,#6eff89 199.1px 201.0px,#72ff85 204.2px 206.0px,#76ff81 209.2px 211.1px,#69ff8d 214.3px 216.2px,#6aff8d 219.4px 221.2px,#60ff96 224.4px 226.3px,#5aff9d 229.5px 231.3px,#5bff9c 234.5px 236.4px,#52ffa5 239.6px 241.5px,#59ff9e 244.7px 246.5px,#57ffa0 249.7px 251.6px,#6bff8c 254.8px 256.7px,#7aff7d 259.9px 261.7px,#77ff80 264.9px 266.8px,#6dff8a 270.0px 271.9px,#4bffac 275.1px 276.9px,#31ffc6 280.1px 282.0px,#34ffc3 285.2px 287.0px,#2bffcc 290.2px 292.1px,#35ffc2 295.3px 297.2px,#39ffbe 300.4px 302.2px,#2fffc8 305.4px 307.3px,#31ffc6 310.5px 312.4px,#2fffc7 315.6px 317.4px,#37ffc0 320.6px 322.5px,#33ffc4 325.7px 327.6px,#3effb9 330.8px 332.6px,#38ffbf 335.8px 337.7px,#2bffcc 340.9px 342.8px,#33ffc4 346.0px 347.8px,#1bffdc 351.0px 352.9px,#1fffd7 356.1px 357.9px,#11fae6 361.1px 363.0px,#0bf3ec 366.2px 368.1px,#09f1ee 371.3px 373.1px,#00e5f7 376.3px 378.2px,#00e1fa 381.4px 383.3px,#06ecf1 386.5px 388.3px,#00e6f7 391.5px 393.4px,#00d6ff 396.6px 398.5px,#04ebf3 401.7px 403.5px,#00c7ff 406.7px 413.6px,#00d0ff 416.8px 418.7px,#00c7ff 421.9px 423.8px,#00dcfe 427.0px 428.8px,#00daff 432.0px 433.9px,#00d4ff 437.1px 439.0px,#00b3ff 442.2px 444.0px,#0091ff 447.2px 449.1px,#008aff 452.3px 454.2px,#0085ff 457.4px 459.2px,#0082ff 462.4px 464.3px,#0092ff 467.5px 469.4px,#0080ff 472.6px 474.4px,#008fff 477.6px 479.5px,#0082ff 482.7px 484.5px,#006bff 487.7px 489.6px,#0065ff 492.8px 494.7px,#0059ff 497.9px 499.7px,#004cff 502.9px 504.8px,#0052ff 508.0px 509.9px,#004bff 513.1px 514.9px,#002dff 518.1px 520.0px,#002fff 523.2px 525.1px,#0037ff 528.3px 530.1px,#0023ff 533.3px 535.2px,#0037ff 538.4px 540.2px,#0021ff 543.4px 545.3px,#001cff 548.5px 550.4px,#000eff 553.6px 555.4px,#0000ff 558.6px 560.5px,#0005ff 563.7px 565.6px,#0000ff 568.8px 575.7px,#0010ff 578.9px 580.8px,#000eff 584.0px 585.8px,#0000ff 589.0px 596.0px,#0000f7 599.2px 601.0px,#0000eb 604.2px 606.1px,#0000e6 609.3px 611.1px,#0000d7 614.3px 616.2px,#0000d3 619.4px 621.3px,#0000bb 624.5px 626.3px,#0000bc 629.5px 633.0px)"></div>
<div class="r" style="left:973px;top:277px;width:633px;height:14px;background:linear-gradient(90deg,#00009c 0.0px 3.5px,#0000a2 6.7px 8.5px,#0000b2 11.7px 13.6px,#0000f6 16.8px 18.7px,#003cff 21.9px 23.7px,#0090ff 26.9px 28.8px,#00d1ff 32.0px 33.8px,#29ffcd 37.0px 38.9px,#52ffa5 42.1px 44.0px,#79ff7e 47.2px 49.0px,#a7ff50 52.2px 54.1px,#d4ff23 57.3px 59.2px,#ffe500 62.4px 64.2px,#ffa300 67.4px 69.3px,#ff6400 72.5px 74.4px,#ff1e00 77.6px 79.4px,#c90000 82.6px 84.5px,#9e0000 87.7px 89.6px,#b90000 92.8px 94.6px,#ff1b00 97.8px 99.7px,#ff3c00 102.9px 104.7px,#ff5a00 107.9px 109.8px,#ff8f00 113.0px 114.9px,#ffaf00 118.1px 119.9px,#ffc900 123.1px 125.0px,#ffdf00 128.2px 130.1px,#f6f601 133.3px 135.1px,#dfff18 138.3px 140.2px,#c7ff30 143.4px 145.3px,#b6ff41 148.5px 150.3px,#a6ff51 153.5px 155.4px,#a8ff4f 158.6px 160.4px,#9dff59 163.6px 165.5px,#92ff64 168.7px 170.6px,#8aff6d 173.8px 175.6px,#7cff7b 178.8px 180.7px,#74ff83 183.9px 185.8px,#71ff86 189.0px 190.8px,#6aff8d 194.0px 195.9px,#62ff95 199.1px 201.0px,#5cff9b 204.2px 206.0px,#52ffa5 209.2px 211.1px,#49ffae 214.3px 221.2px,#46ffb1 224.4px 226.3px,#45ffb2 229.5px 231.3px,#49ffae 234.5px 236.4px,#40ffb7 239.6px 241.5px,#40ffb6 244.7px 246.5px,#43ffb4 249.7px 251.6px,#3effb9 254.8px 256.7px,#3effb8 259.9px 261.7px,#30ffc6 264.9px 266.8px,#16ffe1 270.0px 271.9px,#00dbff 275.1px 276.9px,#00dcff 280.1px 282.0px,#00ddfe 285.2px 287.0px,#00e0fc 290.2px 292.1px,#05ecf1 295.3px 297.2px,#00dbff 300.4px 302.2px,#00d8ff 305.4px 307.3px,#00d3ff 310.5px 312.4px,#00c2ff 315.6px 317.4px,#00acff 320.6px 322.5px,#00aeff 325.7px 327.6px,#00afff 330.8px 332.6px,#00b3ff 335.8px 337.7px,#00b9ff 340.9px 342.8px,#00b4ff 346.0px 347.8px,#00aeff 351.0px 352.9px,#00adff 356.1px 357.9px,#00aaff 361.1px 363.0px,#00abff 366.2px 368.1px,#0090ff 371.3px 373.1px,#0091ff 376.3px 383.3px,#007bff 386.5px 388.3px,#0087ff 391.5px 393.4px,#0083ff 396.6px 403.5px,#008cff 406.7px 408.6px,#0092ff 411.8px 413.6px,#0087ff 416.8px 418.7px,#007aff 421.9px 423.8px,#0074ff 427.0px 428.8px,#005eff 432.0px 433.9px,#0051ff 437.1px 439.0px,#0055ff 442.2px 444.0px,#0044ff 447.2px 449.1px,#0040ff 452.3px 454.2px,#004bff 457.4px 459.2px,#001fff 462.4px 464.3px,#001aff 467.5px 469.4px,#0019ff 472.6px 474.4px,#0002ff 477.6px 479.5px,#0020ff 482.7px 484.5px,#0010ff 487.7px 489.6px,#0008ff 492.8px 494.7px,#0003ff 497.9px 499.7px,#0000ff 502.9px 504.8px,#0000fb 508.0px 509.9px,#0000fc 513.1px 514.9px,#0000f3 518.1px 520.0px,#0000ea 523.2px 525.1px,#0000fd 528.3px 530.1px,#0000f9 533.3px 535.2px,#0000ee 538.4px 540.2px,#0000f8 543.4px 545.3px,#0000f7 548.5px 550.4px,#0000fb 553.6px 555.4px,#0000ff 558.6px 565.6px,#0000f9 568.8px 570.6px,#0000e1 573.8px 575.7px,#0000d4 578.9px 580.8px,#0000c5 584.0px 585.8px,#00009e 589.0px 590.9px,#0000c1 594.1px 596.0px,#0000ca 599.2px 601.0px,#0000b9 604.2px 606.1px,#0000cf 609.3px 611.1px,#0000c2 614.3px 616.2px,#0000cd 619.4px 621.3px,#0000b8 624.5px 626.3px,#0000d0 629.5px 633.0px)"></div>
<div class="r" style="left:973px;top:291px;width:633px;height:13px;background:linear-gradient(90deg,#00009c 0.0px 3.5px,#0000a7 6.7px 8.5px,#0000e2 11.7px 13.6px,#0000ff 16.8px 18.7px,#002cff 21.9px 23.7px,#0093ff 26.9px 28.8px,#00d0ff 32.0px 33.8px,#24ffd3 37.0px 38.9px,#55ffa2 42.1px 44.0px,#7fff78 47.2px 49.0px,#afff48 52.2px 54.1px,#dcff1b 57.3px 59.2px,#ffdc00 62.4px 64.2px,#ffa800 67.4px 69.3px,#ff5f00 72.5px 74.4px,#ff1600 77.6px 79.4px,#d20000 82.6px 84.5px,#9d0000 87.7px 89.6px,#b70000 92.8px 94.6px,#ff1700 97.8px 99.7px,#ff5100 102.9px 104.7px,#ff7700 107.9px 109.8px,#ff9d00 113.0px 114.9px,#ffc200 118.1px 119.9px,#ffdf00 123.1px 125.0px,#f8f400 128.2px 130.1px,#e6ff11 133.3px 135.1px,#d0ff26 138.3px 140.2px,#baff3d 143.4px 145.3px,#aaff4d 148.5px 150.3px,#9cff5b 153.5px 155.4px,#99ff5e 158.6px 160.4px,#90ff67 163.6px 165.5px,#89ff6e 168.7px 175.6px,#7fff78 178.8px 180.7px,#86ff71 183.9px 185.8px,#74ff82 189.0px 190.8px,#72ff85 194.0px 195.9px,#69ff8e 199.1px 201.0px,#5dff9a 204.2px 206.0px,#5fff98 209.2px 211.1px,#57ffa0 214.3px 216.2px,#51ffa6 219.4px 221.2px,#4dffaa 224.4px 226.3px,#43ffb4 229.5px 231.3px,#41ffb6 234.5px 236.4px,#3bffbc 239.6px 241.5px,#31ffc6 244.7px 246.5px,#3affbc 249.7px 251.6px,#35ffc2 254.8px 256.7px,#2effc8 259.9px 261.7px,#33ffc3 264.9px 266.8px,#2dffca 270.0px 271.9px,#30ffc6 275.1px 276.9px,#2fffc8 280.1px 282.0px,#2bffcc 285.2px 287.0px,#1bffdc 290.2px 297.2px,#0df6e9 300.4px 302.2px,#06edf1 305.4px 307.3px,#07eff0 310.5px 312.4px,#00e4f8 315.6px 317.4px,#00e2fa 320.6px 322.5px,#00dcfe 325.7px 327.6px,#00d7ff 330.8px 332.6px,#00dbff 335.8px 337.7px,#00ddfe 340.9px 347.8px,#00dbff 351.0px 352.9px,#00c3ff 356.1px 357.9px,#00b5ff 361.1px 363.0px,#00a1ff 366.2px 368.1px,#00acff 371.3px 373.1px,#009aff 376.3px 378.2px,#008fff 381.4px 383.3px,#008eff 386.5px 388.3px,#0078ff 391.5px 393.4px,#0070ff 396.6px 398.5px,#006bff 401.7px 403.5px,#0075ff 406.7px 408.6px,#0060ff 411.8px 413.6px,#0073ff 416.8px 418.7px,#0077ff 421.9px 423.8px,#0061ff 427.0px 428.8px,#004dff 432.0px 433.9px,#003dff 437.1px 439.0px,#0034ff 442.2px 444.0px,#002dff 447.2px 449.1px,#0039ff 452.3px 454.2px,#003aff 457.4px 459.2px,#0031ff 462.4px 464.3px,#0043ff 467.5px 469.4px,#0042ff 472.6px 474.4px,#0047ff 477.6px 479.5px,#0040ff 482.7px 484.5px,#0010ff 487.7px 489.6px,#0007ff 492.8px 494.7px,#0000ff 497.9px 499.7px,#0000ed 502.9px 504.8px,#0000ff 508.0px 514.9px,#0000e9 518.1px 520.0px,#0000ff 523.2px 530.1px,#0000f8 533.3px 535.2px,#0000ff 538.4px 545.3px,#0000d6 548.5px 550.4px,#0000d4 553.6px 555.4px,#0000ed 558.6px 560.5px,#0000f1 563.7px 565.6px,#0000ff 568.8px 570.6px,#0017ff 573.8px 575.7px,#0001ff 578.9px 580.8px,#0000f6 584.0px 585.8px,#0000ff 589.0px 601.0px,#0013ff 604.2px 606.1px,#0000ff 609.3px 611.1px,#0000ee 614.3px 616.2px,#0000e8 619.4px 621.3px,#0000e2 624.5px 626.3px,#0000c6 629.5px 633.0px)"></div>
<div class="r" style="left:973px;top:304px;width:633px;height:16px;background:linear-gradient(90deg,#000090 0.0px 3.5px,#000098 6.7px 8.5px,#0000cd 11.7px 13.6px,#0000f7 16.8px 18.7px,#0010ff 21.9px 23.7px,#007bff 26.9px 28.8px,#02e8f5 32.0px 33.8px,#44ffb3 37.0px 38.9px,#74ff83 42.1px 44.0px,#a3ff54 47.2px 49.0px,#c9ff2d 52.2px 54.1px,#f0fd07 57.3px 59.2px,#ffcf00 62.4px 64.2px,#ff9c00 67.4px 69.3px,#ff5e00 72.5px 74.4px,#ff2000 77.6px 79.4px,#d10000 82.6px 84.5px,#8a0000 87.7px 89.6px,#a90000 92.8px 94.6px,#ff1800 97.8px 99.7px,#ff6300 102.9px 104.7px,#ffab00 107.9px 109.8px,#ffe500 113.0px 114.9px,#ebff0c 118.1px 119.9px,#cdff2a 123.1px 125.0px,#a6ff51 128.2px 130.1px,#9fff58 133.3px 135.1px,#96ff61 138.3px 140.2px,#81ff76 143.4px 145.3px,#83ff73 148.5px 150.3px,#82ff75 153.5px 155.4px,#6aff8d 158.6px 160.4px,#65ff92 163.6px 165.5px,#54ffa3 168.7px 170.6px,#4affac 173.8px 175.6px,#4effa9 178.8px 180.7px,#52ffa4 183.9px 185.8px,#52ffa5 189.0px 190.8px,#4bffac 194.0px 195.9px,#46ffb1 199.1px 201.0px,#42ffb5 204.2px 206.0px,#35ffc2 209.2px 211.1px,#2effc8 214.3px 216.2px,#24ffd3 219.4px 221.2px,#17ffe0 224.4px 226.3px,#1bffdc 229.5px 231.3px,#08f0ef 234.5px 236.4px,#02e7f5 239.6px 241.5px,#00d6ff 244.7px 246.5px,#00ceff 249.7px 251.6px,#00ccff 254.8px 256.7px,#00ddfd 259.9px 261.7px,#00d1ff 264.9px 266.8px,#00d4ff 270.0px 271.9px,#00cbff 275.1px 276.9px,#00afff 280.1px 282.0px,#009eff 285.2px 287.0px,#009dff 290.2px 292.1px,#009eff 295.3px 297.2px,#0093ff 300.4px 302.2px,#009cff 305.4px 307.3px,#009aff 310.5px 312.4px,#0099ff 315.6px 317.4px,#009cff 320.6px 327.6px,#0098ff 330.8px 332.6px,#008cff 335.8px 337.7px,#0077ff 340.9px 342.8px,#0067ff 346.0px 347.8px,#006bff 351.0px 352.9px,#005eff 356.1px 357.9px,#0066ff 361.1px 363.0px,#0068ff 366.2px 368.1px,#0055ff 371.3px 373.1px,#0066ff 376.3px 378.2px,#0058ff 381.4px 383.3px,#0063ff 386.5px 388.3px,#0060ff 391.5px 393.4px,#004bff 396.6px 403.5px,#002eff 406.7px 408.6px,#002dff 411.8px 413.6px,#0030ff 416.8px 418.7px,#002aff 421.9px 423.8px,#0030ff 427.0px 428.8px,#0021ff 432.0px 439.0px,#0012ff 442.2px 444.0px,#0008ff 447.2px 449.1px,#0001ff 452.3px 454.2px,#0006ff 457.4px 459.2px,#0004ff 462.4px 464.3px,#0000ff 467.5px 469.4px,#0010ff 472.6px 474.4px,#0000ff 477.6px 479.5px,#0000f8 482.7px 484.5px,#0000fe 487.7px 489.6px,#0000f5 492.8px 494.7px,#0000ff 497.9px 499.7px,#0000ef 502.9px 504.8px,#0000e5 508.0px 509.9px,#0000ec 513.1px 514.9px,#0000e1 518.1px 520.0px,#0000ec 523.2px 525.1px,#0000d8 528.3px 530.1px,#0000cc 533.3px 535.2px,#0000b8 538.4px 540.2px,#0000a9 543.4px 545.3px,#0000bc 548.5px 550.4px,#0000ab 553.6px 555.4px,#0000b3 558.6px 560.5px,#0000c4 563.7px 565.6px,#0000b4 568.8px 570.6px,#0000c8 573.8px 575.7px,#0000d3 578.9px 585.8px,#0000c1 589.0px 590.9px,#0000a4 594.1px 596.0px,#000087 599.2px 601.0px,#000080 604.2px 621.3px,#00008e 624.5px 626.3px,#0000aa 629.5px 633.0px)"></div>
<div class="r" style="left:973px;top:320px;width:633px;height:15px;background:linear-gradient(90deg,#00009f 0.0px 3.5px,#0000b6 6.7px 8.5px,#0000f7 11.7px 13.6px,#003eff 16.8px 18.7px,#0096ff 21.9px 23.7px,#06edf1 26.9px 28.8px,#42ffb4 32.0px 33.8px,#6bff8c 37.0px 38.9px,#8fff68 42.1px 44.0px,#b7ff3f 47.2px 49.0px,#eaff0d 52.2px 54.1px,#ffd400 57.3px 59.2px,#ffa600 62.4px 64.2px,#ff7900 67.4px 69.3px,#ff5300 72.5px 74.4px,#ff2c00 77.6px 79.4px,#e10000 82.6px 84.5px,#9a0000 87.7px 89.6px,#b50000 92.8px 94.6px,#ff1f00 97.8px 99.7px,#ff7100 102.9px 104.7px,#ffa500 107.9px 109.8px,#ffd500 113.0px 114.9px,#f6f701 118.1px 119.9px,#daff1c 123.1px 125.0px,#c8ff2f 128.2px 130.1px,#aeff49 133.3px 135.1px,#98ff5f 138.3px 140.2px,#86ff71 143.4px 145.3px,#7dff7a 148.5px 150.3px,#75ff82 153.5px 155.4px,#69ff8d 158.6px 160.4px,#68ff8e 163.6px 165.5px,#64ff93 168.7px 175.6px,#6aff8c 178.8px 180.7px,#62ff95 183.9px 185.8px,#4dffa9 189.0px 190.8px,#39ffbe 194.0px 195.9px,#28ffcf 199.1px 201.0px,#1bffdc 204.2px 206.0px,#14fee3 209.2px 211.1px,#17ffe0 214.3px 216.2px,#1cffdb 219.4px 221.2px,#1cffda 224.4px 226.3px,#1bffdb 229.5px 231.3px,#18ffdf 234.5px 236.4px,#06edf1 239.6px 241.5px,#03eaf3 244.7px 246.5px,#00d8ff 249.7px 251.6px,#00d2ff 254.8px 256.7px,#00cbff 259.9px 261.7px,#00baff 264.9px 266.8px,#00b9ff 270.0px 271.9px,#00b6ff 275.1px 276.9px,#00a1ff 280.1px 282.0px,#009eff 285.2px 287.0px,#00aaff 290.2px 292.1px,#009cff 295.3px 297.2px,#00a5ff 300.4px 302.2px,#00a7ff 305.4px 307.3px,#0093ff 310.5px 312.4px,#0092ff 315.6px 317.4px,#008cff 320.6px 322.5px,#0077ff 325.7px 332.6px,#006eff 335.8px 337.7px,#0076ff 340.9px 342.8px,#006bff 346.0px 347.8px,#005fff 351.0px 352.9px,#0070ff 356.1px 357.9px,#005cff 361.1px 363.0px,#0072ff 366.2px 368.1px,#006dff 371.3px 373.1px,#0067ff 376.3px 378.2px,#0058ff 381.4px 383.3px,#0040ff 386.5px 388.3px,#0043ff 391.5px 393.4px,#003dff 396.6px 398.5px,#0040ff 401.7px 403.5px,#0058ff 406.7px 408.6px,#004eff 411.8px 413.6px,#0053ff 416.8px 418.7px,#004cff 421.9px 423.8px,#0033ff 427.0px 428.8px,#003aff 432.0px 433.9px,#0024ff 437.1px 439.0px,#000fff 442.2px 444.0px,#0016ff 447.2px 449.1px,#0013ff 452.3px 459.2px,#0014ff 462.4px 464.3px,#0000ff 467.5px 469.4px,#0000f8 472.6px 474.4px,#0000f4 477.6px 479.5px,#0000ff 482.7px 484.5px,#0000fb 487.7px 489.6px,#0000ff 492.8px 499.7px,#0000fa 502.9px 504.8px,#0000ff 508.0px 509.9px,#0000f9 513.1px 514.9px,#0000f8 518.1px 520.0px,#0000ec 523.2px 525.1px,#0000e3 528.3px 530.1px,#0000cf 533.3px 540.2px,#0000d1 543.4px 545.3px,#0000d6 548.5px 550.4px,#0000d8 553.6px 555.4px,#0000de 558.6px 560.5px,#0000da 563.7px 565.6px,#0000cb 568.8px 570.6px,#0000be 573.8px 575.7px,#0000b7 578.9px 580.8px,#0000b8 584.0px 585.8px,#000097 589.0px 590.9px,#0000ae 594.1px 596.0px,#00009e 599.2px 601.0px,#00008e 604.2px 606.1px,#0000a4 609.3px 611.1px,#0000a7 614.3px 616.2px,#0000a6 619.4px 621.3px,#000095 624.5px 626.3px,#00009e 629.5px 633.0px)"></div>
<div class="r" style="left:973px;top:335px;width:633px;height:16px;background:linear-gradient(90deg,#0000ff 0.0px 3.5px,#001aff 6.7px 8.5px,#0081ff 11.7px 13.6px,#00dbff 16.8px 18.7px,#34ffc3 21.9px 23.7px,#55ffa2 26.9px 28.8px,#77ff7f 32.0px 33.8px,#9dff59 37.0px 38.9px,#c6ff30 42.1px 44.0px,#f0fe07 47.2px 49.0px,#ffd000 52.2px 54.1px,#ffb000 57.3px 59.2px,#ff8c00 62.4px 64.2px,#ff6a00 67.4px 69.3px,#ff4100 72.5px 74.4px,#fe1200 77.6px 79.4px,#d00000 82.6px 84.5px,#8d0000 87.7px 89.6px,#a80000 92.8px 94.6px,#ed0400 97.8px 99.7px,#ff4000 102.9px 104.7px,#ff7300 107.9px 109.8px,#ff9a00 113.0px 114.9px,#ffca00 118.1px 119.9px,#ffea00 123.1px 125.0px,#e5ff11 128.2px 130.1px,#c2ff35 133.3px 135.1px,#b9ff3d 138.3px 140.2px,#b2ff45 143.4px 145.3px,#a5ff52 148.5px 150.3px,#9aff5d 153.5px 155.4px,#8fff68 158.6px 160.4px,#7dff7a 163.6px 165.5px,#72ff85 168.7px 170.6px,#6dff89 173.8px 175.6px,#60ff97 178.8px 180.7px,#61ff95 183.9px 185.8px,#53ffa3 189.0px 190.8px,#4affad 194.0px 195.9px,#49ffae 199.1px 201.0px,#44ffb3 204.2px 206.0px,#42ffb5 209.2px 211.1px,#37ffbf 214.3px 216.2px,#28ffcf 219.4px 221.2px,#1dffda 224.4px 226.3px,#15ffe2 229.5px 231.3px,#12fce5 234.5px 236.4px,#05ebf2 239.6px 241.5px,#04ebf3 244.7px 246.5px,#03e9f4 249.7px 251.6px,#00daff 254.8px 256.7px,#00d7ff 259.9px 261.7px,#00d0ff 264.9px 266.8px,#00b9ff 270.0px 276.9px,#00beff 280.1px 282.0px,#00acff 285.2px 287.0px,#00afff 290.2px 292.1px,#00a7ff 295.3px 297.2px,#009bff 300.4px 302.2px,#009aff 305.4px 307.3px,#0094ff 310.5px 312.4px,#0087ff 315.6px 317.4px,#007fff 320.6px 322.5px,#007cff 325.7px 327.6px,#007eff 330.8px 332.6px,#0080ff 335.8px 337.7px,#0086ff 340.9px 342.8px,#0081ff 346.0px 347.8px,#0072ff 351.0px 352.9px,#006eff 356.1px 357.9px,#0066ff 361.1px 363.0px,#004aff 366.2px 368.1px,#0048ff 371.3px 373.1px,#002dff 376.3px 378.2px,#002bff 381.4px 383.3px,#003bff 386.5px 388.3px,#0037ff 391.5px 393.4px,#0045ff 396.6px 398.5px,#003cff 401.7px 403.5px,#0032ff 406.7px 408.6px,#0024ff 411.8px 413.6px,#0033ff 416.8px 418.7px,#002fff 421.9px 423.8px,#0032ff 427.0px 428.8px,#002fff 432.0px 433.9px,#001fff 437.1px 439.0px,#001cff 442.2px 444.0px,#000dff 447.2px 449.1px,#0003ff 452.3px 454.2px,#0008ff 457.4px 459.2px,#0000fe 462.4px 469.4px,#0000ff 472.6px 474.4px,#0000de 477.6px 479.5px,#0000f1 482.7px 484.5px,#0000e9 487.7px 489.6px,#0000d8 492.8px 494.7px,#0000ee 497.9px 499.7px,#0000cf 502.9px 504.8px,#0000d9 508.0px 509.9px,#0000d8 513.1px 514.9px,#0000c7 518.1px 520.0px,#0000dd 523.2px 525.1px,#0000ca 528.3px 530.1px,#0000bc 533.3px 535.2px,#0000c1 538.4px 540.2px,#0000b2 543.4px 545.3px,#000098 548.5px 550.4px,#000099 553.6px 555.4px,#000091 558.6px 560.5px,#0000a2 563.7px 565.6px,#0000b5 568.8px 570.6px,#0000a7 573.8px 575.7px,#0000ab 578.9px 580.8px,#000098 584.0px 585.8px,#0000a0 589.0px 590.9px,#0000b3 594.1px 596.0px,#0000ae 599.2px 601.0px,#0000aa 604.2px 606.1px,#000086 609.3px 611.1px,#000080 614.3px 621.3px,#000085 624.5px 626.3px,#00008e 629.5px 633.0px)"></div>
<div class="r" style="left:973px;top:351px;width:633px;height:17px;background:linear-gradient(90deg,#0047ff 0.0px 3.5px,#0090ff 6.7px 8.5px,#00dbff 11.7px 13.6px,#34ffc2 16.8px 18.7px,#65ff92 21.9px 23.7px,#89ff6e 26.9px 28.8px,#abff4c 32.0px 33.8px,#d2ff25 37.0px 38.9px,#fdef00 42.1px 44.0px,#ffc600 47.2px 49.0px,#ffa400 52.2px 54.1px,#ff8a00 57.3px 59.2px,#ff7600 62.4px 64.2px,#ff5300 67.4px 69.3px,#ff2b00 72.5px 74.4px,#e80000 77.6px 79.4px,#b60000 82.6px 84.5px,#880000 87.7px 89.6px,#aa0000 92.8px 94.6px,#f60c00 97.8px 99.7px,#ff3100 102.9px 104.7px,#ff5700 107.9px 109.8px,#ff7600 113.0px 114.9px,#ff8f00 118.1px 119.9px,#ffa000 123.1px 125.0px,#ffb800 128.2px 130.1px,#ffd200 133.3px 135.1px,#ffe900 138.3px 140.2px,#f2fc05 143.4px 145.3px,#ddff1a 148.5px 150.3px,#d0ff27 153.5px 155.4px,#c3ff34 158.6px 160.4px,#b2ff45 163.6px 165.5px,#b0ff47 168.7px 170.6px,#a7ff4f 173.8px 175.6px,#9dff5a 178.8px 180.7px,#97ff60 183.9px 185.8px,#91ff66 189.0px 190.8px,#87ff70 194.0px 195.9px,#7aff7d 199.1px 201.0px,#73ff83 204.2px 206.0px,#6fff88 209.2px 211.1px,#65ff92 214.3px 216.2px,#68ff8f 219.4px 221.2px,#60ff96 224.4px 226.3px,#54ffa2 229.5px 231.3px,#51ffa6 234.5px 236.4px,#57ffa0 239.6px 241.5px,#51ffa5 244.7px 246.5px,#43ffb4 249.7px 251.6px,#42ffb5 254.8px 256.7px,#2bffcc 259.9px 261.7px,#21ffd6 264.9px 266.8px,#1dffda 270.0px 271.9px,#0df5ea 275.1px 276.9px,#04ebf3 280.1px 282.0px,#00dcff 285.2px 287.0px,#00c9ff 290.2px 292.1px,#00c4ff 295.3px 297.2px,#00afff 300.4px 302.2px,#00a6ff 305.4px 307.3px,#00b2ff 310.5px 312.4px,#00b4ff 315.6px 317.4px,#00b6ff 320.6px 322.5px,#00baff 325.7px 327.6px,#00b0ff 330.8px 332.6px,#00a2ff 335.8px 337.7px,#0092ff 340.9px 342.8px,#0085ff 346.0px 347.8px,#008aff 351.0px 352.9px,#007aff 356.1px 357.9px,#0076ff 361.1px 363.0px,#007aff 366.2px 368.1px,#005fff 371.3px 373.1px,#005dff 376.3px 378.2px,#0052ff 381.4px 383.3px,#0053ff 386.5px 388.3px,#0054ff 391.5px 393.4px,#0064ff 396.6px 398.5px,#006bff 401.7px 403.5px,#0052ff 406.7px 408.6px,#0046ff 411.8px 413.6px,#0010ff 416.8px 418.7px,#0000ff 421.9px 423.8px,#0005ff 427.0px 428.8px,#0000ff 432.0px 433.9px,#0001ff 437.1px 439.0px,#0000ff 442.2px 449.1px,#0010ff 452.3px 454.2px,#0011ff 457.4px 459.2px,#000fff 462.4px 464.3px,#0003ff 467.5px 469.4px,#0000f1 472.6px 474.4px,#0000f7 477.6px 479.5px,#0000f6 482.7px 484.5px,#0000ea 487.7px 489.6px,#0000ff 492.8px 494.7px,#0000fb 497.9px 499.7px,#0000f8 502.9px 504.8px,#0000eb 508.0px 509.9px,#0000d9 513.1px 514.9px,#0000c2 518.1px 520.0px,#0000b5 523.2px 525.1px,#0000c1 528.3px 530.1px,#0000cf 533.3px 535.2px,#0000dd 538.4px 540.2px,#0000de 543.4px 545.3px,#0000c4 548.5px 550.4px,#0000a5 553.6px 555.4px,#000094 558.6px 560.5px,#00008d 563.7px 565.6px,#00008f 568.8px 570.6px,#000099 573.8px 575.7px,#00009f 578.9px 580.8px,#0000aa 584.0px 585.8px,#0000a9 589.0px 590.9px,#0000a5 594.1px 596.0px,#000094 599.2px 601.0px,#000093 604.2px 606.1px,#000080 609.3px 616.2px,#0000c9 619.4px 621.3px,#0037ff 624.5px 626.3px,#004eff 629.5px 633.0px)"></div>
<div class="r" style="left:973px;top:368px;width:633px;height:18px;background:linear-gradient(90deg,#0075ff 0.0px 3.5px,#00a9ff 6.7px 8.5px,#0df6ea 11.7px 13.6px,#3fffb8 16.8px 18.7px,#6cff8b 21.9px 23.7px,#8dff69 26.9px 28.8px,#aaff4c 32.0px 33.8px,#ccff2b 37.0px 38.9px,#f1fc05 42.1px 44.0px,#ffd700 47.2px 49.0px,#ffb100 52.2px 54.1px,#ff9c00 57.3px 59.2px,#ff8600 62.4px 64.2px,#ff6000 67.4px 69.3px,#ff3600 72.5px 74.4px,#ff1400 77.6px 79.4px,#d70000 82.6px 84.5px,#a40000 87.7px 94.6px,#e10000 97.8px 99.7px,#ff2000 102.9px 104.7px,#ff4000 107.9px 109.8px,#ff5c00 113.0px 114.9px,#ff8000 118.1px 119.9px,#ff9a00 123.1px 125.0px,#ffb600 128.2px 130.1px,#ffd100 133.3px 135.1px,#ffda00 138.3px 140.2px,#ffe700 143.4px 145.3px,#fbf000 148.5px 150.3px,#fbf100 153.5px 155.4px,#eaff0d 158.6px 160.4px,#e0ff17 163.6px 165.5px,#d1ff26 168.7px 170.6px,#c4ff33 173.8px 175.6px,#beff39 178.8px 180.7px,#b3ff43 183.9px 185.8px,#b9ff3e 189.0px 195.9px,#b6ff41 199.1px 201.0px,#b2ff45 204.2px 206.0px,#adff4a 209.2px 211.1px,#a3ff54 214.3px 216.2px,#a2ff55 219.4px 221.2px,#a5ff51 224.4px 226.3px,#9bff5c 229.5px 231.3px,#99ff5e 234.5px 236.4px,#9aff5d 239.6px 241.5px,#92ff65 244.7px 246.5px,#87ff70 249.7px 251.6px,#74ff82 254.8px 256.7px,#5eff99 259.9px 261.7px,#53ffa4 264.9px 266.8px,#49ffae 270.0px 271.9px,#47ffb0 275.1px 276.9px,#44ffb2 280.1px 282.0px,#43ffb4 285.2px 287.0px,#4bffac 290.2px 292.1px,#3fffb8 295.3px 297.2px,#3bffbc 300.4px 302.2px,#26ffd1 305.4px 307.3px,#12fce5 310.5px 312.4px,#0bf3ec 315.6px 317.4px,#07eef0 320.6px 322.5px,#00e5f7 325.7px 327.6px,#07eef0 330.8px 332.6px,#00dffc 335.8px 337.7px,#00e3f8 340.9px 342.8px,#00cdff 346.0px 347.8px,#00a9ff 351.0px 352.9px,#00a7ff 356.1px 357.9px,#0092ff 361.1px 363.0px,#0094ff 366.2px 368.1px,#009fff 371.3px 373.1px,#009eff 376.3px 378.2px,#009cff 381.4px 383.3px,#0097ff 386.5px 388.3px,#009cff 391.5px 393.4px,#0091ff 396.6px 398.5px,#0083ff 401.7px 403.5px,#006fff 406.7px 408.6px,#006aff 411.8px 413.6px,#006eff 416.8px 418.7px,#0070ff 421.9px 423.8px,#0072ff 427.0px 428.8px,#0064ff 432.0px 433.9px,#0056ff 437.1px 439.0px,#003dff 442.2px 444.0px,#0033ff 447.2px 449.1px,#002aff 452.3px 454.2px,#002dff 457.4px 459.2px,#003bff 462.4px 464.3px,#002eff 467.5px 469.4px,#004aff 472.6px 474.4px,#003bff 477.6px 479.5px,#0013ff 482.7px 484.5px,#001dff 487.7px 489.6px,#0007ff 492.8px 494.7px,#0000ff 497.9px 499.7px,#0009ff 502.9px 504.8px,#0000ff 508.0px 509.9px,#0000f9 513.1px 514.9px,#0000f5 518.1px 525.1px,#0000ff 528.3px 530.1px,#0000fe 533.3px 535.2px,#0000d4 538.4px 540.2px,#0000d5 543.4px 545.3px,#0000c6 548.5px 550.4px,#0000b6 553.6px 555.4px,#0000d2 558.6px 560.5px,#0000d4 563.7px 565.6px,#0000d0 568.8px 570.6px,#0000d1 573.8px 575.7px,#0000e0 578.9px 580.8px,#0000c2 584.0px 585.8px,#0000b9 589.0px 590.9px,#0000c7 594.1px 596.0px,#0000be 599.2px 601.0px,#0000d2 604.2px 606.1px,#0000f1 609.3px 611.1px,#0000f5 614.3px 616.2px,#000fff 619.4px 621.3px,#00a1ff 624.5px 626.3px,#00a6ff 629.5px 633.0px)"></div>
<div class="r" style="left:973px;top:386px;width:633px;height:18px;background:linear-gradient(90deg,#006fff 0.0px 3.5px,#009bff 6.7px 8.5px,#00dffc 11.7px 13.6px,#3bffbc 16.8px 18.7px,#68ff8e 21.9px 23.7px,#88ff6f 26.9px 28.8px,#a6ff50 32.0px 33.8px,#bfff38 37.0px 38.9px,#e3ff14 42.1px 44.0px,#fcf000 47.2px 49.0px,#ffc900 52.2px 54.1px,#ffae00 57.3px 59.2px,#ff8c00 62.4px 64.2px,#ff5c00 67.4px 69.3px,#ff2f00 72.5px 74.4px,#f90e00 77.6px 79.4px,#c80000 82.6px 84.5px,#880000 87.7px 89.6px,#9d0000 92.8px 94.6px,#d40000 97.8px 99.7px,#ff1500 102.9px 104.7px,#ff3800 107.9px 109.8px,#ff4f00 113.0px 114.9px,#ff5f00 118.1px 119.9px,#ff6f00 123.1px 125.0px,#ff8200 128.2px 130.1px,#ff9800 133.3px 135.1px,#ff9500 138.3px 140.2px,#ff9b00 143.4px 145.3px,#ffa300 148.5px 150.3px,#ffa800 153.5px 155.4px,#ffc300 158.6px 160.4px,#ffd800 163.6px 165.5px,#ffea00 168.7px 170.6px,#e5ff12 173.8px 175.6px,#d4ff22 178.8px 180.7px,#c2ff34 183.9px 185.8px,#b1ff46 189.0px 190.8px,#aeff49 194.0px 195.9px,#adff4a 199.1px 201.0px,#b1ff46 204.2px 206.0px,#a8ff4f 209.2px 211.1px,#aeff49 214.3px 216.2px,#a4ff53 219.4px 221.2px,#a1ff56 224.4px 226.3px,#b2ff44 229.5px 231.3px,#a2ff54 234.5px 236.4px,#b2ff44 239.6px 241.5px,#aeff49 244.7px 246.5px,#a6ff50 249.7px 251.6px,#a7ff50 254.8px 256.7px,#9aff5c 259.9px 261.7px,#a0ff56 264.9px 266.8px,#8aff6d 270.0px 271.9px,#76ff81 275.1px 276.9px,#70ff87 280.1px 282.0px,#6fff88 285.2px 287.0px,#70ff86 290.2px 292.1px,#83ff74 295.3px 297.2px,#6bff8c 300.4px 302.2px,#60ff97 305.4px 307.3px,#50ffa7 310.5px 312.4px,#3cffbb 315.6px 317.4px,#43ffb3 320.6px 322.5px,#41ffb6 325.7px 327.6px,#55ffa2 330.8px 332.6px,#39ffbd 335.8px 337.7px,#10f9e7 340.9px 342.8px,#00d8ff 346.0px 347.8px,#00e2f9 351.0px 352.9px,#09f1ee 356.1px 357.9px,#00e3f9 361.1px 363.0px,#00d5ff 366.2px 368.1px,#00d2ff 371.3px 373.1px,#00b2ff 376.3px 378.2px,#00acff 381.4px 383.3px,#00a8ff 386.5px 388.3px,#00a6ff 391.5px 393.4px,#009bff 396.6px 398.5px,#0091ff 401.7px 403.5px,#00a2ff 406.7px 408.6px,#00abff 411.8px 413.6px,#00ccff 416.8px 418.7px,#00c1ff 421.9px 423.8px,#009eff 427.0px 428.8px,#008fff 432.0px 433.9px,#0084ff 437.1px 439.0px,#0076ff 442.2px 444.0px,#0067ff 447.2px 449.1px,#004fff 452.3px 454.2px,#0059ff 457.4px 459.2px,#0061ff 462.4px 464.3px,#005cff 467.5px 469.4px,#0059ff 472.6px 474.4px,#0047ff 477.6px 479.5px,#0035ff 482.7px 484.5px,#002dff 487.7px 489.6px,#001eff 492.8px 494.7px,#0009ff 497.9px 499.7px,#0000ff 502.9px 509.9px,#0000fd 513.1px 514.9px,#0000fb 518.1px 520.0px,#0000ed 523.2px 530.1px,#0000c8 533.3px 535.2px,#0000c5 538.4px 540.2px,#0000dd 543.4px 545.3px,#0000b2 548.5px 550.4px,#0000ce 553.6px 555.4px,#0000f0 558.6px 560.5px,#0000d2 563.7px 570.6px,#0000b5 573.8px 575.7px,#0000ba 578.9px 580.8px,#000095 584.0px 585.8px,#0000ac 589.0px 590.9px,#0000a1 594.1px 596.0px,#000093 599.2px 601.0px,#0000a6 604.2px 606.1px,#0000aa 609.3px 611.1px,#0000a5 614.3px 616.2px,#0000dd 619.4px 621.3px,#0021ff 624.5px 626.3px,#001eff 629.5px 633.0px)"></div>
<div class="r" style="left:973px;top:404px;width:633px;height:21px;background:linear-gradient(90deg,#0078ff 0.0px 3.5px,#00aaff 6.7px 8.5px,#00d6ff 11.7px 13.6px,#22ffd4 16.8px 18.7px,#45ffb2 21.9px 23.7px,#61ff96 26.9px 28.8px,#8bff6b 32.0px 33.8px,#a6ff51 37.0px 38.9px,#b1ff45 42.1px 44.0px,#d1ff25 47.2px 49.0px,#e8ff0f 52.2px 54.1px,#ffe000 57.3px 59.2px,#ffac00 62.4px 64.2px,#ff8900 67.4px 69.3px,#ff5e00 72.5px 74.4px,#ff2300 77.6px 79.4px,#df0000 82.6px 84.5px,#ab0000 87.7px 89.6px,#a50000 92.8px 94.6px,#e50000 97.8px 99.7px,#ff2800 102.9px 104.7px,#ff3e00 107.9px 109.8px,#ff6300 113.0px 114.9px,#ff9500 118.1px 119.9px,#ff6a00 123.1px 125.0px,#ffa700 128.2px 130.1px,#ffbf00 133.3px 135.1px,#ffb700 138.3px 140.2px,#ffb000 143.4px 145.3px,#ffc300 148.5px 150.3px,#ffdf00 153.5px 155.4px,#fdee00 158.6px 160.4px,#ffea00 163.6px 165.5px,#ffd400 168.7px 170.6px,#ffe800 173.8px 175.6px,#ffe700 178.8px 180.7px,#ffdd00 183.9px 185.8px,#f4f903 189.0px 190.8px,#e8ff0f 194.0px 195.9px,#d0ff26 199.1px 201.0px,#bcff3a 204.2px 206.0px,#b5ff42 209.2px 211.1px,#b4ff42 214.3px 216.2px,#beff39 219.4px 221.2px,#aeff49 224.4px 226.3px,#a6ff51 229.5px 231.3px,#90ff67 234.5px 236.4px,#6eff88 239.6px 241.5px,#66ff91 244.7px 246.5px,#6bff8c 249.7px 251.6px,#97ff60 254.8px 256.7px,#9bff5c 259.9px 261.7px,#80ff77 264.9px 266.8px,#79ff7e 270.0px 271.9px,#65ff92 275.1px 276.9px,#5cff9b 280.1px 282.0px,#5dff9a 285.2px 287.0px,#4affad 290.2px 292.1px,#40ffb6 295.3px 297.2px,#46ffb0 300.4px 302.2px,#30ffc7 305.4px 307.3px,#29ffce 310.5px 312.4px,#1effd8 315.6px 317.4px,#10f9e7 320.6px 322.5px,#06edf1 325.7px 327.6px,#0bf3ec 330.8px 332.6px,#05ecf1 335.8px 337.7px,#0ff8e8 340.9px 342.8px,#2fffc8 346.0px 347.8px,#18ffdf 351.0px 352.9px,#00d9ff 356.1px 357.9px,#00e1fb 361.1px 363.0px,#00baff 366.2px 368.1px,#00c8ff 371.3px 373.1px,#08f0ee 376.3px 378.2px,#07eef0 381.4px 383.3px,#0af1ed 386.5px 388.3px,#00a8ff 391.5px 393.4px,#0088ff 396.6px 398.5px,#0087ff 401.7px 403.5px,#006bff 406.7px 408.6px,#005aff 411.8px 413.6px,#0062ff 416.8px 418.7px,#006aff 421.9px 423.8px,#008bff 427.0px 428.8px,#0084ff 432.0px 433.9px,#0075ff 437.1px 439.0px,#0057ff 442.2px 444.0px,#002aff 447.2px 449.1px,#0000ff 452.3px 454.2px,#0024ff 457.4px 459.2px,#0052ff 462.4px 464.3px,#008bff 467.5px 469.4px,#0087ff 472.6px 474.4px,#0094ff 477.6px 479.5px,#006bff 482.7px 484.5px,#005bff 487.7px 489.6px,#002bff 492.8px 494.7px,#000cff 497.9px 499.7px,#0020ff 502.9px 504.8px,#003eff 508.0px 509.9px,#0043ff 513.1px 514.9px,#0000ff 518.1px 520.0px,#0000f8 523.2px 525.1px,#0000ff 528.3px 535.2px,#0004ff 538.4px 540.2px,#0014ff 543.4px 545.3px,#000aff 548.5px 550.4px,#002fff 553.6px 555.4px,#0018ff 558.6px 560.5px,#0017ff 563.7px 565.6px,#0000ff 568.8px 570.6px,#0000d3 573.8px 575.7px,#0000d2 578.9px 580.8px,#000080 584.0px 585.8px,#000097 589.0px 590.9px,#00008a 594.1px 596.0px,#000080 599.2px 601.0px,#0000cf 604.2px 606.1px,#0000f4 609.3px 611.1px,#0000ee 614.3px 616.2px,#0000f1 619.4px 621.3px,#0000ff 624.5px 626.3px,#0000ef 629.5px 633.0px)"></div>
<div class="r" style="left:973px;top:425px;width:633px;height:22px;background:linear-gradient(90deg,#0033ff 0.0px 3.5px,#0053ff 6.7px 8.5px,#0085ff 11.7px 13.6px,#00c1ff 16.8px 18.7px,#0ff8e8 21.9px 23.7px,#40ffb7 26.9px 28.8px,#66ff91 32.0px 33.8px,#8bff6c 37.0px 38.9px,#b3ff44 42.1px 44.0px,#ccff2b 47.2px 49.0px,#e0ff16 52.2px 54.1px,#f5f702 57.3px 59.2px,#ffc200 62.4px 64.2px,#ff8900 67.4px 69.3px,#ff4600 72.5px 74.4px,#ff1300 77.6px 79.4px,#e50000 82.6px 84.5px,#ab0000 87.7px 89.6px,#bd0000 92.8px 94.6px,#e90100 97.8px 99.7px,#ff1600 102.9px 104.7px,#ff1a00 107.9px 109.8px,#ff2900 113.0px 114.9px,#ff3a00 118.1px 119.9px,#ff4600 123.1px 125.0px,#ff5500 128.2px 130.1px,#ff6500 133.3px 135.1px,#ff6a00 138.3px 140.2px,#ff7700 143.4px 145.3px,#ff8500 148.5px 150.3px,#ff8600 153.5px 155.4px,#ff9300 158.6px 160.4px,#ff9400 163.6px 165.5px,#ff9f00 168.7px 170.6px,#ffb100 173.8px 175.6px,#ffc600 178.8px 180.7px,#ffdf00 183.9px 185.8px,#ffd400 189.0px 190.8px,#ffea00 194.0px 195.9px,#f5f701 199.1px 201.0px,#f4f903 204.2px 206.0px,#e3ff14 209.2px 211.1px,#e0ff17 214.3px 216.2px,#e5ff11 219.4px 221.2px,#e0ff17 224.4px 226.3px,#c9ff2d 229.5px 231.3px,#c4ff32 234.5px 236.4px,#c6ff31 239.6px 241.5px,#bbff3b 244.7px 246.5px,#d1ff26 249.7px 251.6px,#caff2d 254.8px 256.7px,#beff39 259.9px 261.7px,#b8ff3e 264.9px 266.8px,#9cff5b 270.0px 271.9px,#97ff60 275.1px 276.9px,#91ff65 280.1px 282.0px,#7dff7a 285.2px 287.0px,#7cff7b 290.2px 292.1px,#6dff8a 295.3px 297.2px,#64ff93 300.4px 302.2px,#68ff8e 305.4px 307.3px,#61ff96 310.5px 312.4px,#5aff9d 315.6px 317.4px,#5bff9c 320.6px 322.5px,#51ffa6 325.7px 327.6px,#3effb8 330.8px 332.6px,#37ffc0 335.8px 337.7px,#1fffd8 340.9px 342.8px,#10f9e7 346.0px 347.8px,#11fbe5 351.0px 352.9px,#07efef 356.1px 357.9px,#00e0fb 361.1px 363.0px,#00d4ff 366.2px 368.1px,#00cbff 371.3px 373.1px,#00c3ff 376.3px 378.2px,#00b8ff 381.4px 383.3px,#00caff 386.5px 388.3px,#00d0ff 391.5px 393.4px,#00caff 396.6px 398.5px,#00c4ff 401.7px 403.5px,#00aaff 406.7px 408.6px,#0092ff 411.8px 413.6px,#0073ff 416.8px 418.7px,#0077ff 421.9px 423.8px,#0073ff 427.0px 428.8px,#0074ff 432.0px 439.0px,#0075ff 442.2px 444.0px,#0064ff 447.2px 449.1px,#005dff 452.3px 454.2px,#0059ff 457.4px 459.2px,#003aff 462.4px 464.3px,#0041ff 467.5px 469.4px,#0031ff 472.6px 474.4px,#0042ff 477.6px 479.5px,#0050ff 482.7px 484.5px,#0054ff 487.7px 489.6px,#0064ff 492.8px 494.7px,#004fff 497.9px 499.7px,#0040ff 502.9px 504.8px,#0044ff 508.0px 509.9px,#0037ff 513.1px 514.9px,#0033ff 518.1px 520.0px,#0028ff 523.2px 525.1px,#0014ff 528.3px 530.1px,#0002ff 533.3px 535.2px,#000aff 538.4px 540.2px,#0000ff 543.4px 550.4px,#0006ff 553.6px 555.4px,#0000ff 558.6px 560.5px,#0000f7 563.7px 565.6px,#0000fd 568.8px 570.6px,#0000ff 573.8px 575.7px,#0000f8 578.9px 580.8px,#0000ff 584.0px 590.9px,#0000e2 594.1px 596.0px,#0000e1 599.2px 601.0px,#0000dc 604.2px 606.1px,#0000df 609.3px 611.1px,#0000eb 614.3px 616.2px,#0000e1 619.4px 621.3px,#0000ca 624.5px 626.3px,#0000e6 629.5px 633.0px)"></div>
<div class="r" style="left:973px;top:447px;width:633px;height:25px;background:linear-gradient(90deg,#003aff 0.0px 3.5px,#0054ff 6.7px 8.5px,#008aff 11.7px 13.6px,#00bfff 16.8px 18.7px,#09f0ee 21.9px 23.7px,#32ffc4 26.9px 28.8px,#5cff9a 32.0px 33.8px,#87ff70 37.0px 38.9px,#a7ff50 42.1px 44.0px,#ccff2a 47.2px 49.0px,#dcff1b 52.2px 54.1px,#ffe700 57.3px 59.2px,#ffa400 62.4px 64.2px,#ff7700 67.4px 69.3px,#ff4300 72.5px 74.4px,#ff1400 77.6px 79.4px,#ce0000 82.6px 84.5px,#820000 87.7px 89.6px,#800000 92.8px 94.6px,#830000 97.8px 99.7px,#800000 102.9px 104.7px,#990000 107.9px 109.8px,#a70000 113.0px 114.9px,#a90000 118.1px 119.9px,#c20000 123.1px 125.0px,#c70000 128.2px 130.1px,#d30000 133.3px 135.1px,#ea0100 138.3px 140.2px,#d60000 143.4px 145.3px,#ff5d00 148.5px 150.3px,#ff6f00 153.5px 155.4px,#ff6200 158.6px 160.4px,#ff4d00 163.6px 165.5px,#ff2e00 168.7px 170.6px,#fa0f00 173.8px 175.6px,#ff4f00 178.8px 180.7px,#ff8500 183.9px 185.8px,#ff9d00 189.0px 190.8px,#ffb900 194.0px 195.9px,#ffce00 199.1px 201.0px,#ffe400 204.2px 206.0px,#f2fb05 209.2px 211.1px,#e7ff10 214.3px 216.2px,#ffe100 219.4px 221.2px,#ffe800 224.4px 226.3px,#e5ff11 229.5px 231.3px,#d6ff21 234.5px 236.4px,#d0ff27 239.6px 241.5px,#ccff2a 244.7px 246.5px,#d2ff25 249.7px 251.6px,#deff18 254.8px 256.7px,#e3ff14 259.9px 261.7px,#ceff29 264.9px 266.8px,#c1ff36 270.0px 271.9px,#b3ff44 275.1px 276.9px,#a0ff57 280.1px 287.0px,#93ff64 290.2px 292.1px,#98ff5f 295.3px 297.2px,#8bff6c 300.4px 302.2px,#8dff6a 305.4px 307.3px,#7eff79 310.5px 312.4px,#79ff7e 315.6px 317.4px,#69ff8e 320.6px 322.5px,#67ff90 325.7px 327.6px,#63ff94 330.8px 332.6px,#5fff98 335.8px 337.7px,#49ffae 340.9px 342.8px,#26ffd1 346.0px 347.8px,#07eef0 351.0px 352.9px,#00c5ff 356.1px 357.9px,#00d7ff 361.1px 363.0px,#00c8ff 366.2px 368.1px,#00e1fb 371.3px 373.1px,#29ffcd 376.3px 378.2px,#36ffc1 381.4px 383.3px,#3affbd 386.5px 388.3px,#20ffd7 391.5px 393.4px,#0af2ec 396.6px 398.5px,#07eef0 401.7px 403.5px,#00e0fc 406.7px 408.6px,#00cfff 411.8px 413.6px,#00b9ff 416.8px 418.7px,#00a8ff 421.9px 423.8px,#00abff 427.0px 428.8px,#00c1ff 432.0px 433.9px,#00a9ff 437.1px 439.0px,#0095ff 442.2px 444.0px,#0067ff 447.2px 449.1px,#0006ff 452.3px 454.2px,#0000e2 457.4px 459.2px,#0007ff 462.4px 464.3px,#003eff 467.5px 469.4px,#007dff 472.6px 474.4px,#0047ff 477.6px 479.5px,#0063ff 482.7px 484.5px,#0044ff 487.7px 489.6px,#003fff 492.8px 494.7px,#0066ff 497.9px 499.7px,#0060ff 502.9px 504.8px,#0094ff 508.0px 509.9px,#0079ff 513.1px 514.9px,#003fff 518.1px 520.0px,#0027ff 523.2px 525.1px,#0002ff 528.3px 530.1px,#0000ff 533.3px 540.2px,#0005ff 543.4px 545.3px,#0000ff 548.5px 550.4px,#0000fd 553.6px 555.4px,#0000ee 558.6px 560.5px,#0000d0 563.7px 565.6px,#0000cc 568.8px 570.6px,#0000af 573.8px 575.7px,#0000c7 578.9px 580.8px,#0000e5 584.0px 585.8px,#0000fb 589.0px 590.9px,#0000f4 594.1px 596.0px,#0000f8 599.2px 601.0px,#0000ef 604.2px 606.1px,#0000e8 609.3px 616.2px,#0000e1 619.4px 621.3px,#0000f5 624.5px 626.3px,#0000d1 629.5px 633.0px)"></div>
<div class="r" style="left:973px;top:472px;width:633px;height:27px;background:linear-gradient(90deg,#0000fc 0.0px 3.5px,#0000ff 6.7px 8.5px,#0021ff 11.7px 13.6px,#005bff 16.8px 18.7px,#009aff 21.9px 23.7px,#0cf5eb 26.9px 28.8px,#45ffb2 32.0px 33.8px,#6bff8c 37.0px 38.9px,#8fff68 42.1px 44.0px,#a4ff53 47.2px 49.0px,#dcff1b 52.2px 54.1px,#ffa500 57.3px 59.2px,#ffce00 62.4px 64.2px,#ffa500 67.4px 69.3px,#ff6c00 72.5px 74.4px,#ff4000 77.6px 79.4px,#ff1300 82.6px 84.5px,#f10700 87.7px 89.6px,#d60000 92.8px 94.6px,#9f0000 97.8px 99.7px,#990000 102.9px 104.7px,#d50000 107.9px 109.8px,#c60000 113.0px 114.9px,#c50000 118.1px 119.9px,#d40000 123.1px 125.0px,#e90100 128.2px 130.1px,#f10800 133.3px 135.1px,#d20000 138.3px 140.2px,#e70000 143.4px 145.3px,#ff1800 148.5px 150.3px,#ff6d00 153.5px 155.4px,#ff9400 158.6px 160.4px,#ffba00 163.6px 165.5px,#ffd700 168.7px 170.6px,#ffe100 173.8px 175.6px,#f7f500 178.8px 180.7px,#daff1d 183.9px 185.8px,#ccff2b 189.0px 190.8px,#a5ff51 194.0px 195.9px,#caff2c 199.1px 201.0px,#ffce00 204.2px 206.0px,#ebff0b 209.2px 211.1px,#c3ff34 214.3px 216.2px,#c6ff31 219.4px 221.2px,#b5ff42 224.4px 226.3px,#bbff3c 229.5px 231.3px,#9fff58 234.5px 236.4px,#97ff60 239.6px 241.5px,#9cff5a 244.7px 246.5px,#9bff5c 249.7px 251.6px,#aeff49 254.8px 256.7px,#b2ff44 259.9px 261.7px,#9dff59 264.9px 266.8px,#9aff5d 270.0px 271.9px,#95ff62 275.1px 276.9px,#8bff6c 280.1px 282.0px,#80ff76 285.2px 287.0px,#6dff89 290.2px 292.1px,#50ffa6 295.3px 297.2px,#3effb9 300.4px 302.2px,#40ffb7 305.4px 307.3px,#39ffbe 310.5px 312.4px,#4affac 315.6px 317.4px,#34ffc3 320.6px 322.5px,#77ff7f 325.7px 327.6px,#30ffc7 330.8px 332.6px,#00baff 335.8px 337.7px,#00cdff 340.9px 342.8px,#00d5ff 346.0px 347.8px,#00c4ff 351.0px 352.9px,#00cbff 356.1px 357.9px,#00d1ff 361.1px 363.0px,#00d4ff 366.2px 368.1px,#00d6ff 371.3px 373.1px,#08f0ee 376.3px 378.2px,#00b4ff 381.4px 383.3px,#0085ff 386.5px 388.3px,#0062ff 391.5px 393.4px,#0071ff 396.6px 398.5px,#0084ff 401.7px 403.5px,#006eff 406.7px 408.6px,#0089ff 411.8px 413.6px,#0078ff 416.8px 418.7px,#006eff 421.9px 423.8px,#0076ff 427.0px 428.8px,#006dff 432.0px 433.9px,#007cff 437.1px 439.0px,#0092ff 442.2px 444.0px,#006cff 447.2px 449.1px,#008eff 452.3px 454.2px,#006aff 457.4px 459.2px,#0040ff 462.4px 464.3px,#004bff 467.5px 469.4px,#001dff 472.6px 474.4px,#0018ff 477.6px 479.5px,#0036ff 482.7px 484.5px,#0022ff 487.7px 489.6px,#0021ff 492.8px 494.7px,#003bff 497.9px 499.7px,#0022ff 502.9px 504.8px,#000eff 508.0px 509.9px,#0000ff 513.1px 514.9px,#0000c6 518.1px 520.0px,#0000a0 523.2px 525.1px,#00009f 528.3px 530.1px,#0000d6 533.3px 535.2px,#0000b7 538.4px 540.2px,#0000a4 543.4px 545.3px,#0000f6 548.5px 550.4px,#0000e4 553.6px 555.4px,#0000ff 558.6px 560.5px,#001aff 563.7px 565.6px,#0000d4 568.8px 570.6px,#0000da 573.8px 575.7px,#0000ea 578.9px 580.8px,#0000f1 584.0px 585.8px,#001bff 589.0px 590.9px,#002fff 594.1px 596.0px,#0000ff 599.2px 601.0px,#0000d5 604.2px 606.1px,#0000da 609.3px 611.1px,#0000a3 614.3px 616.2px,#0000d9 619.4px 621.3px,#0000ff 624.5px 633.0px)"></div>
<div class="r" style="left:973px;top:499px;width:633px;height:30px;background:linear-gradient(90deg,#0010ff 0.0px 3.5px,#003dff 6.7px 8.5px,#00a5ff 11.7px 13.6px,#14fee3 16.8px 18.7px,#43ffb4 21.9px 23.7px,#6cff8b 26.9px 28.8px,#80ff76 32.0px 33.8px,#a6ff51 37.0px 38.9px,#bdff3a 42.1px 44.0px,#d9ff1e 47.2px 49.0px,#ffe900 52.2px 54.1px,#ffc700 57.3px 59.2px,#ff9100 62.4px 64.2px,#ff6700 67.4px 69.3px,#ff3a00 72.5px 74.4px,#ff2300 77.6px 79.4px,#fd1100 82.6px 84.5px,#e30000 87.7px 89.6px,#ac0000 92.8px 94.6px,#b50000 97.8px 99.7px,#d90000 102.9px 104.7px,#e80000 107.9px 109.8px,#ff1700 113.0px 114.9px,#ff1800 118.1px 119.9px,#ff3200 123.1px 125.0px,#ff4200 128.2px 130.1px,#ff5e00 133.3px 135.1px,#ff8800 138.3px 140.2px,#ffa800 143.4px 145.3px,#ffce00 148.5px 150.3px,#ffe800 153.5px 155.4px,#fcef00 158.6px 160.4px,#e6ff11 163.6px 165.5px,#d6ff21 168.7px 170.6px,#d6ff20 173.8px 175.6px,#d2ff24 178.8px 180.7px,#d4ff22 183.9px 185.8px,#bfff37 189.0px 190.8px,#afff48 194.0px 195.9px,#9fff58 199.1px 201.0px,#9bff5c 204.2px 206.0px,#99ff5e 209.2px 211.1px,#8cff6b 214.3px 216.2px,#7fff78 219.4px 221.2px,#74ff83 224.4px 226.3px,#6aff8d 229.5px 231.3px,#69ff8d 234.5px 236.4px,#69ff8e 239.6px 241.5px,#64ff93 244.7px 251.6px,#6bff8c 254.8px 256.7px,#5fff98 259.9px 261.7px,#66ff90 264.9px 266.8px,#5dff9a 270.0px 271.9px,#43ffb3 275.1px 276.9px,#37ffc0 280.1px 282.0px,#1dffda 285.2px 287.0px,#0ef7e8 290.2px 292.1px,#07eef0 295.3px 297.2px,#00ddfe 300.4px 302.2px,#00ccff 305.4px 307.3px,#00bcff 310.5px 312.4px,#00a9ff 315.6px 317.4px,#00a3ff 320.6px 322.5px,#0097ff 325.7px 327.6px,#008cff 330.8px 332.6px,#0097ff 335.8px 337.7px,#0075ff 340.9px 342.8px,#006bff 346.0px 347.8px,#0063ff 351.0px 352.9px,#0035ff 356.1px 357.9px,#002aff 361.1px 363.0px,#000aff 366.2px 368.1px,#0000e8 371.3px 373.1px,#000bff 376.3px 378.2px,#003eff 381.4px 383.3px,#0032ff 386.5px 388.3px,#0023ff 391.5px 393.4px,#002bff 396.6px 398.5px,#0025ff 401.7px 403.5px,#0023ff 406.7px 408.6px,#0015ff 411.8px 413.6px,#0006ff 416.8px 418.7px,#0002ff 421.9px 423.8px,#0000fd 427.0px 428.8px,#0000ff 432.0px 433.9px,#0000fe 437.1px 439.0px,#0000ff 442.2px 444.0px,#0018ff 447.2px 449.1px,#0013ff 452.3px 454.2px,#0018ff 457.4px 459.2px,#0000ff 462.4px 464.3px,#0000f5 467.5px 469.4px,#0000de 472.6px 474.4px,#0000c1 477.6px 479.5px,#0000c4 482.7px 484.5px,#0000c5 487.7px 489.6px,#0000cd 492.8px 494.7px,#0000e6 497.9px 499.7px,#0000f7 502.9px 504.8px,#0000fb 508.0px 509.9px,#0000eb 513.1px 514.9px,#0000db 518.1px 520.0px,#0000dc 523.2px 525.1px,#0000e1 528.3px 530.1px,#0000f1 533.3px 535.2px,#0000e1 538.4px 540.2px,#0000c4 543.4px 545.3px,#00009f 548.5px 550.4px,#0000af 553.6px 555.4px,#0000ad 558.6px 560.5px,#0000c9 563.7px 565.6px,#0000e8 568.8px 570.6px,#0000cf 573.8px 575.7px,#0000d5 578.9px 580.8px,#0000c1 584.0px 585.8px,#0000ad 589.0px 590.9px,#000094 594.1px 596.0px,#00009a 599.2px 601.0px,#00009b 604.2px 606.1px,#0000b7 609.3px 611.1px,#0000c5 614.3px 616.2px,#0000d3 619.4px 621.3px,#0000ef 624.5px 626.3px,#0000f4 629.5px 633.0px)"></div>
<div class="r" style="left:973px;top:529px;width:633px;height:38px;background:linear-gradient(90deg,#0054ff 0.0px 3.5px,#0087ff 6.7px 8.5px,#00ceff 11.7px 13.6px,#2fffc8 16.8px 18.7px,#6eff89 21.9px 23.7px,#abff4c 26.9px 28.8px,#d0ff27 32.0px 33.8px,#f6f601 37.0px 38.9px,#ffd600 42.1px 44.0px,#ffb100 47.2px 49.0px,#ff9400 52.2px 54.1px,#ff6e00 57.3px 59.2px,#ff5900 62.4px 64.2px,#ff4200 67.4px 69.3px,#ff2000 72.5px 74.4px,#f20800 77.6px 79.4px,#ca0000 82.6px 84.5px,#d20000 87.7px 89.6px,#dd0000 92.8px 94.6px,#c70000 97.8px 99.7px,#a10000 102.9px 104.7px,#ac0000 107.9px 109.8px,#bb0000 113.0px 114.9px,#db0000 118.1px 119.9px,#fe1200 123.1px 125.0px,#dd0000 128.2px 130.1px,#d50000 133.3px 135.1px,#e70000 138.3px 140.2px,#f70c00 143.4px 145.3px,#ff2700 148.5px 150.3px,#ff3e00 153.5px 155.4px,#ff5800 158.6px 160.4px,#ff6a00 163.6px 165.5px,#ff9e00 168.7px 170.6px,#ffc200 173.8px 175.6px,#fbf100 178.8px 180.7px,#fbf000 183.9px 185.8px,#ffe700 189.0px 190.8px,#ffea00 194.0px 195.9px,#ffd000 199.1px 201.0px,#ffd800 204.2px 206.0px,#ffc400 209.2px 211.1px,#ffbf00 214.3px 216.2px,#ffd500 219.4px 221.2px,#ffdb00 224.4px 226.3px,#ffe300 229.5px 231.3px,#f8f500 234.5px 236.4px,#f0fe07 239.6px 241.5px,#daff1d 244.7px 246.5px,#bfff38 249.7px 251.6px,#9bff5b 254.8px 256.7px,#8cff6b 259.9px 261.7px,#78ff7e 264.9px 266.8px,#68ff8f 270.0px 271.9px,#56ffa1 275.1px 276.9px,#44ffb3 280.1px 282.0px,#49ffad 285.2px 287.0px,#35ffc2 290.2px 292.1px,#45ffb2 295.3px 297.2px,#58ff9f 300.4px 302.2px,#54ffa2 305.4px 307.3px,#2cffcb 310.5px 312.4px,#00e5f7 315.6px 317.4px,#00caff 320.6px 322.5px,#00d2ff 325.7px 327.6px,#0bf4eb 330.8px 332.6px,#10fae6 335.8px 337.7px,#16ffe1 340.9px 342.8px,#0bf3ec 346.0px 347.8px,#00d7ff 351.0px 352.9px,#00caff 356.1px 357.9px,#00b0ff 361.1px 363.0px,#0090ff 366.2px 368.1px,#0081ff 371.3px 373.1px,#007bff 376.3px 383.3px,#0087ff 386.5px 388.3px,#007bff 391.5px 393.4px,#0081ff 396.6px 398.5px,#007dff 401.7px 403.5px,#0088ff 406.7px 408.6px,#0098ff 411.8px 413.6px,#00b6ff 416.8px 418.7px,#00c3ff 421.9px 423.8px,#00c9ff 427.0px 428.8px,#00d1ff 432.0px 433.9px,#00b1ff 437.1px 439.0px,#00a3ff 442.2px 444.0px,#0096ff 447.2px 449.1px,#0085ff 452.3px 454.2px,#0086ff 457.4px 459.2px,#007cff 462.4px 464.3px,#0074ff 467.5px 469.4px,#0061ff 472.6px 474.4px,#004fff 477.6px 479.5px,#0049ff 482.7px 484.5px,#0026ff 487.7px 489.6px,#001cff 492.8px 494.7px,#000fff 497.9px 499.7px,#0001ff 502.9px 504.8px,#0000ff 508.0px 509.9px,#0000fd 513.1px 514.9px,#0000ff 518.1px 520.0px,#0000fb 523.2px 525.1px,#0000f4 528.3px 530.1px,#0000ff 533.3px 540.2px,#000dff 543.4px 545.3px,#0005ff 548.5px 550.4px,#0000ee 553.6px 555.4px,#0000fb 558.6px 560.5px,#0000e4 563.7px 565.6px,#0000dd 568.8px 570.6px,#0000d5 573.8px 575.7px,#0000cb 578.9px 580.8px,#0000c8 584.0px 585.8px,#0000d2 589.0px 590.9px,#0011ff 594.1px 596.0px,#0018ff 599.2px 601.0px,#0000ff 604.2px 606.1px,#0000ba 609.3px 611.1px,#0000c2 614.3px 616.2px,#0000cf 619.4px 621.3px,#0000d0 624.5px 626.3px,#0000f6 629.5px 633.0px)"></div>
<div class="r" style="left:973px;top:567px;width:633px;height:47px;background:linear-gradient(90deg,#00c8ff 0.0px 3.5px,#19ffdd 6.7px 8.5px,#1cffdb 11.7px 13.6px,#4effa9 16.8px 18.7px,#80ff77 21.9px 23.7px,#a1ff55 26.9px 28.8px,#ebff0c 32.0px 33.8px,#edff09 37.0px 38.9px,#b9ff3e 42.1px 44.0px,#ffe500 47.2px 49.0px,#ffb300 52.2px 54.1px,#ffde00 57.3px 59.2px,#ffa300 62.4px 64.2px,#ff6900 67.4px 69.3px,#ff8a00 72.5px 74.4px,#ff4600 77.6px 79.4px,#ff4100 82.6px 84.5px,#ff3100 87.7px 89.6px,#b10000 92.8px 94.6px,#ff3100 97.8px 99.7px,#e70000 102.9px 104.7px,#a30000 107.9px 109.8px,#c40000 113.0px 114.9px,#ff3900 118.1px 119.9px,#ff3300 123.1px 125.0px,#ff5f00 128.2px 130.1px,#ffac00 133.3px 135.1px,#ff6f00 138.3px 140.2px,#ffcd00 143.4px 145.3px,#ff1a00 148.5px 150.3px,#8b0000 153.5px 155.4px,#ff9100 158.6px 160.4px,#d9ff1e 163.6px 165.5px,#ffbd00 168.7px 170.6px,#ffc300 173.8px 175.6px,#ffb700 178.8px 180.7px,#ff8d00 183.9px 185.8px,#ffa400 189.0px 190.8px,#ffc000 194.0px 195.9px,#ff8f00 199.1px 201.0px,#ff8700 204.2px 206.0px,#ffd600 209.2px 211.1px,#e4ff13 214.3px 216.2px,#e2ff15 219.4px 221.2px,#ffd900 224.4px 226.3px,#b6ff40 229.5px 231.3px,#e7ff10 234.5px 236.4px,#ffd400 239.6px 241.5px,#ffd900 244.7px 246.5px,#e5ff12 249.7px 251.6px,#f0fd06 254.8px 256.7px,#ffe600 259.9px 261.7px,#efff08 264.9px 266.8px,#b6ff40 270.0px 271.9px,#bcff3b 275.1px 276.9px,#adff4a 280.1px 282.0px,#6dff8a 285.2px 287.0px,#7bff7c 290.2px 292.1px,#6eff89 295.3px 297.2px,#5aff9d 300.4px 302.2px,#5fff98 305.4px 307.3px,#59ff9e 310.5px 312.4px,#3dffb9 315.6px 317.4px,#35ffc2 320.6px 322.5px,#0090ff 325.7px 327.6px,#0089ff 330.8px 332.6px,#008cff 335.8px 337.7px,#00cfff 340.9px 342.8px,#0098ff 346.0px 347.8px,#00c0ff 351.0px 352.9px,#47ffaf 356.1px 357.9px,#4affad 361.1px 363.0px,#00ccff 366.2px 368.1px,#0cf5ea 371.3px 373.1px,#00e5f7 376.3px 378.2px,#00bdff 381.4px 383.3px,#00defd 386.5px 388.3px,#39ffbd 391.5px 393.4px,#24ffd3 396.6px 398.5px,#00c4ff 401.7px 403.5px,#00caff 406.7px 408.6px,#009bff 411.8px 413.6px,#00a3ff 416.8px 418.7px,#0067ff 421.9px 423.8px,#004eff 427.0px 428.8px,#009cff 432.0px 433.9px,#005cff 437.1px 439.0px,#0092ff 442.2px 444.0px,#00acff 447.2px 449.1px,#00d7ff 452.3px 454.2px,#46ffb0 457.4px 459.2px,#00b0ff 462.4px 464.3px,#005aff 467.5px 469.4px,#009fff 472.6px 474.4px,#0061ff 477.6px 479.5px,#006bff 482.7px 484.5px,#003eff 487.7px 489.6px,#005fff 492.8px 494.7px,#004dff 497.9px 499.7px,#0049ff 502.9px 504.8px,#0015ff 508.0px 509.9px,#0000ff 513.1px 514.9px,#000cff 518.1px 520.0px,#0000ff 523.2px 525.1px,#0001ff 528.3px 530.1px,#0017ff 533.3px 535.2px,#0065ff 538.4px 540.2px,#0051ff 543.4px 545.3px,#006aff 548.5px 550.4px,#0026ff 553.6px 555.4px,#0014ff 558.6px 560.5px,#000cff 563.7px 565.6px,#0034ff 568.8px 570.6px,#0000ff 573.8px 575.7px,#0000c9 578.9px 580.8px,#0000ac 584.0px 585.8px,#00009e 589.0px 590.9px,#0000ad 594.1px 596.0px,#0000e5 599.2px 601.0px,#0000c0 604.2px 606.1px,#0000c5 609.3px 611.1px,#0000c4 614.3px 616.2px,#0000ab 619.4px 621.3px,#0000f5 624.5px 626.3px,#001fff 629.5px 633.0px)"></div>
<div class="r" style="left:1624px;top:26.5px;width:30px;height:589.5px;background:linear-gradient(180deg,#800000 0.0px,#970000 11.8px,#ae0000 23.6px,#c50000 35.4px,#dc0000 47.2px,#f30900 59.0px,#ff1c00 70.7px,#ff2f00 82.5px,#ff4200 94.3px,#ff5500 106.1px,#ff6800 117.9px,#ff7b00 129.7px,#ff8e00 141.5px,#ffa100 153.3px,#ffb300 165.1px,#ffc600 176.8px,#ffd900 188.6px,#ffec00 200.4px,#efff08 212.2px,#deff19 224.0px,#ceff29 235.8px,#bdff3a 247.6px,#adff4a 259.4px,#9cff5a 271.2px,#8cff6b 283.0px,#7bff7b 294.8px,#6bff8c 306.5px,#5aff9c 318.3px,#4affad 330.1px,#3affbd 341.9px,#29ffce 353.7px,#19ffde 365.5px,#08f0ef 377.3px,#00dbff 389.1px,#00c7ff 400.9px,#00b3ff 412.6px,#009eff 424.4px,#008aff 436.2px,#0075ff 448.0px,#0061ff 459.8px,#004cff 471.6px,#0038ff 483.4px,#0024ff 495.2px,#000fff 507.0px,#0000ff 518.8px,#0000f3 530.5px,#0000dc 542.3px,#0000c5 554.1px,#0000ae 565.9px,#000097 577.7px,#000080 589.5px)"></div>
<svg width="1772" height="843" viewBox="0 0 1772 843" fill="#000">
<rect x="151" y="27" width="2" height="588.5" fill="#000"/>
<rect x="151" y="27" width="633" height="1" fill="#000"/>
<rect x="151" y="614" width="633" height="1.6" fill="#000"/>
<rect x="783" y="27" width="1" height="588.5" fill="#000"/>
<rect x="178" y="27" width="1.1" height="5" fill-opacity="0.25"/>
<rect x="178" y="609.5" width="1.1" height="5" fill-opacity="0.25"/>
<rect x="203" y="27" width="1.1" height="5" fill-opacity="1"/>
<rect x="203" y="609.5" width="1.1" height="5" fill-opacity="1"/>
<rect x="228" y="27" width="1.1" height="5" fill-opacity="1"/>
<rect x="228" y="609.5" width="1.1" height="5" fill-opacity="1"/>
<rect x="253" y="27" width="1.1" height="5" fill-opacity="1"/>
<rect x="253" y="609.5" width="1.1" height="5" fill-opacity="1"/>
<rect x="279" y="27" width="1.1" height="11" fill-opacity="1"/>
<rect x="279" y="603.5" width="1.1" height="11" fill-opacity="1"/>
<rect x="304" y="27" width="1.1" height="5" fill-opacity="1"/>
<rect x="304" y="609.5" width="1.1" height="5" fill-opacity="1"/>
<rect x="329" y="27" width="1.1" height="5" fill-opacity="1"/>
<rect x="329" y="609.5" width="1.1" height="5" fill-opacity="1"/>
<rect x="354" y="27" width="1.1" height="5" fill-opacity="1"/>
<rect x="354" y="609.5" width="1.1" height="5" fill-opacity="1"/>
<rect x="379" y="27" width="1.1" height="5" fill-opacity="0.25"/>
<rect x="379" y="609.5" width="1.1" height="5" fill-opacity="0.25"/>
<rect x="405" y="27" width="1.1" height="11" fill-opacity="1"/>
<rect x="405" y="603.5" width="1.1" height="11" fill-opacity="1"/>
<rect x="430" y="27" width="1.1" height="5" fill-opacity="0.25"/>
<rect x="430" y="609.5" width="1.1" height="5" fill-opacity="0.25"/>
<rect x="455" y="27" width="1.1" height="5" fill-opacity="1"/>
<rect x="455" y="609.5" width="1.1" height="5" fill-opacity="1"/>
<rect x="480" y="27" width="1.1" height="5" fill-opacity="0.25"/>
<rect x="480" y="609.5" width="1.1" height="5" fill-opacity="0.25"/>
<rect x="506" y="27" width="1.1" height="5" fill-opacity="1"/>
<rect x="506" y="609.5" width="1.1" height="5" fill-opacity="1"/>
<rect x="531" y="27" width="1.1" height="11" fill-opacity="1"/>
<rect x="531" y="603.5" width="1.1" height="11" fill-opacity="1"/>
<rect x="556" y="27" width="1.1" height="5" fill-opacity="1"/>
<rect x="556" y="609.5" width="1.1" height="5" fill-opacity="1"/>
<rect x="581" y="27" width="1.1" height="5" fill-opacity="0.25"/>
<rect x="581" y="609.5" width="1.1" height="5" fill-opacity="0.25"/>
<rect x="607" y="27" width="1.1" height="5" fill-opacity="1"/>
<rect x="607" y="609.5" width="1.1" height="5" fill-opacity="1"/>
<rect x="632" y="27" width="1.1" height="5" fill-opacity="0.25"/>
<rect x="632" y="609.5" width="1.1" height="5" fill-opacity="0.25"/>
<rect x="657" y="27" width="1.1" height="11" fill-opacity="1"/>
<rect x="657" y="603.5" width="1.1" height="11" fill-opacity="1"/>
<rect x="682" y="27" width="1.1" height="5" fill-opacity="1"/>
<rect x="682" y="609.5" width="1.1" height="5" fill-opacity="1"/>
<rect x="707" y="27" width="1.1" height="5" fill-opacity="1"/>
<rect x="707" y="609.5" width="1.1" height="5" fill-opacity="1"/>
<rect x="733" y="27" width="1.1" height="5" fill-opacity="0.25"/>
<rect x="733" y="609.5" width="1.1" height="5" fill-opacity="0.25"/>
<rect x="758" y="27" width="1.1" height="5" fill-opacity="1"/>
<rect x="758" y="609.5" width="1.1" height="5" fill-opacity="1"/>
<rect x="151" y="582.3" width="11" height="1.3" fill="#000"/>
<rect x="773" y="582.3" width="11" height="1.3" fill="#000"/>
<rect x="151" y="542.65" width="6" height="1.3" fill="#000"/>
<rect x="778" y="542.65" width="6" height="1.3" fill="#000"/>
<rect x="151" y="503" width="6" height="1.3" fill="#000"/>
<rect x="778" y="503" width="6" height="1.3" fill="#000"/>
<rect x="151" y="463.35" width="6" height="1.3" fill="#000"/>
<rect x="778" y="463.35" width="6" height="1.3" fill="#000"/>
<rect x="151" y="423.7" width="11" height="1.3" fill="#000"/>
<rect x="773" y="423.7" width="11" height="1.3" fill="#000"/>
<rect x="151" y="384.05" width="6" height="1.3" fill="#000"/>
<rect x="778" y="384.05" width="6" height="1.3" fill="#000"/>
<rect x="151" y="344.4" width="6" height="1.3" fill="#000"/>
<rect x="778" y="344.4" width="6" height="1.3" fill="#000"/>
<rect x="151" y="304.75" width="6" height="1.3" fill="#000"/>
<rect x="778" y="304.75" width="6" height="1.3" fill="#000"/>
<rect x="151" y="265.1" width="11" height="1.3" fill="#000"/>
<rect x="773" y="265.1" width="11" height="1.3" fill="#000"/>
<rect x="151" y="225.45" width="6" height="1.3" fill="#000"/>
<rect x="778" y="225.45" width="6" height="1.3" fill="#000"/>
<rect x="151" y="185.8" width="6" height="1.3" fill="#000"/>
<rect x="778" y="185.8" width="6" height="1.3" fill="#000"/>
<rect x="151" y="146.15" width="6" height="1.3" fill="#000"/>
<rect x="778" y="146.15" width="6" height="1.3" fill="#000"/>
<rect x="151" y="106.5" width="11" height="1.3" fill="#000"/>
<rect x="773" y="106.5" width="11" height="1.3" fill="#000"/>
<rect x="151" y="66.85" width="6" height="1.3" fill="#000"/>
<rect x="778" y="66.85" width="6" height="1.3" fill="#000"/>
<rect x="973" y="26" width="2" height="589.5" fill="#000"/>
<rect x="973" y="26" width="633" height="1" fill="#000"/>
<rect x="973" y="614" width="633" height="1.6" fill="#000"/>
<rect x="1605" y="26" width="1" height="589.5" fill="#000"/>
<rect x="1000" y="26" width="1.1" height="5" fill-opacity="0.25"/>
<rect x="1000" y="609.5" width="1.1" height="5" fill-opacity="0.25"/>
<rect x="1025" y="26" width="1.1" height="5" fill-opacity="1"/>
<rect x="1025" y="609.5" width="1.1" height="5" fill-opacity="1"/>
<rect x="1050" y="26" width="1.1" height="5" fill-opacity="1"/>
<rect x="1050" y="609.5" width="1.1" height="5" fill-opacity="1"/>
<rect x="1075" y="26" width="1.1" height="5" fill-opacity="1"/>
<rect x="1075" y="609.5" width="1.1" height="5" fill-opacity="1"/>
<rect x="1101" y="26" width="1.1" height="11" fill-opacity="1"/>
<rect x="1101" y="603.5" width="1.1" height="11" fill-opacity="1"/>
<rect x="1126" y="26" width="1.1" height="5" fill-opacity="1"/>
<rect x="1126" y="609.5" width="1.1" height="5" fill-opacity="1"/>
<rect x="1151" y="26" width="1.1" height="5" fill-opacity="1"/>
<rect x="1151" y="609.5" width="1.1" height="5" fill-opacity="1"/>
<rect x="1176" y="26" width="1.1" height="5" fill-opacity="1"/>
<rect x="1176" y="609.5" width="1.1" height="5" fill-opacity="1"/>
<rect x="1201" y="26" width="1.1" height="5" fill-opacity="0.25"/>
<rect x="1201" y="609.5" width="1.1" height="5" fill-opacity="0.25"/>
<rect x="1227" y="26" width="1.1" height="11" fill-opacity="1"/>
<rect x="1227" y="603.5" width="1.1" height="11" fill-opacity="1"/>
<rect x="1252" y="26" width="1.1" height="5" fill-opacity="0.25"/>
<rect x="1252" y="609.5" width="1.1" height="5" fill-opacity="0.25"/>
<rect x="1277" y="26" width="1.1" height="5" fill-opacity="1"/>
<rect x="1277" y="609.5" width="1.1" height="5" fill-opacity="1"/>
<rect x="1302" y="26" width="1.1" height="5" fill-opacity="0.25"/>
<rect x="1302" y="609.5" width="1.1" height="5" fill-opacity="0.25"/>
<rect x="1328" y="26" width="1.1" height="5" fill-opacity="1"/>
<rect x="1328" y="609.5" width="1.1" height="5" fill-opacity="1"/>
<rect x="1353" y="26" width="1.1" height="11" fill-opacity="1"/>
<rect x="1353" y="603.5" width="1.1" height="11" fill-opacity="1"/>
<rect x="1378" y="26" width="1.1" height="5" fill-opacity="1"/>
<rect x="1378" y="609.5" width="1.1" height="5" fill-opacity="1"/>
<rect x="1403" y="26" width="1.1" height="5" fill-opacity="0.25"/>
<rect x="1403" y="609.5" width="1.1" height="5" fill-opacity="0.25"/>
<rect x="1429" y="26" width="1.1" height="5" fill-opacity="1"/>
<rect x="1429" y="609.5" width="1.1" height="5" fill-opacity="1"/>
<rect x="1454" y="26" width="1.1" height="5" fill-opacity="0.25"/>
<rect x="1454" y="609.5" width="1.1" height="5" fill-opacity="0.25"/>
<rect x="1479" y="26" width="1.1" height="11" fill-opacity="1"/>
<rect x="1479" y="603.5" width="1.1" height="11" fill-opacity="1"/>
<rect x="1504" y="26" width="1.1" height="5" fill-opacity="1"/>
<rect x="1504" y="609.5" width="1.1" height="5" fill-opacity="1"/>
<rect x="1529" y="26" width="1.1" height="5" fill-opacity="1"/>
<rect x="1529" y="609.5" width="1.1" height="5" fill-opacity="1"/>
<rect x="1555" y="26" width="1.1" height="5" fill-opacity="0.25"/>
<rect x="1555" y="609.5" width="1.1" height="5" fill-opacity="0.25"/>
<rect x="1580" y="26" width="1.1" height="5" fill-opacity="1"/>
<rect x="1580" y="609.5" width="1.1" height="5" fill-opacity="1"/>
<rect x="973" y="582.3" width="11" height="1.3" fill="#000"/>
<rect x="1595" y="582.3" width="11" height="1.3" fill="#000"/>
<rect x="973" y="542.65" width="6" height="1.3" fill="#000"/>
<rect x="1600" y="542.65" width="6" height="1.3" fill="#000"/>
<rect x="973" y="503" width="6" height="1.3" fill="#000"/>
<rect x="1600" y="503" width="6" height="1.3" fill="#000"/>
<rect x="973" y="463.35" width="6" height="1.3" fill="#000"/>
<rect x="1600" y="463.35" width="6" height="1.3" fill="#000"/>
<rect x="973" y="423.7" width="11" height="1.3" fill="#000"/>
<rect x="1595" y="423.7" width="11" height="1.3" fill="#000"/>
<rect x="973" y="384.05" width="6" height="1.3" fill="#000"/>
<rect x="1600" y="384.05" width="6" height="1.3" fill="#000"/>
<rect x="973" y="344.4" width="6" height="1.3" fill="#000"/>
<rect x="1600" y="344.4" width="6" height="1.3" fill="#000"/>
<rect x="973" y="304.75" width="6" height="1.3" fill="#000"/>
<rect x="1600" y="304.75" width="6" height="1.3" fill="#000"/>
<rect x="973" y="265.1" width="11" height="1.3" fill="#000"/>
<rect x="1595" y="265.1" width="11" height="1.3" fill="#000"/>
<rect x="973" y="225.45" width="6" height="1.3" fill="#000"/>
<rect x="1600" y="225.45" width="6" height="1.3" fill="#000"/>
<rect x="973" y="185.8" width="6" height="1.3" fill="#000"/>
<rect x="1600" y="185.8" width="6" height="1.3" fill="#000"/>
<rect x="973" y="146.15" width="6" height="1.3" fill="#000"/>
<rect x="1600" y="146.15" width="6" height="1.3" fill="#000"/>
<rect x="973" y="106.5" width="11" height="1.3" fill="#000"/>
<rect x="1595" y="106.5" width="11" height="1.3" fill="#000"/>
<rect x="973" y="66.85" width="6" height="1.3" fill="#000"/>
<rect x="1600" y="66.85" width="6" height="1.3" fill="#000"/>
<rect x="155.2" y="685.505" width="101.594" height="62.9945" fill="#ff0000"/>
<rect x="151.1" y="620.3" width="635.9" height="4.6" fill="#000"/>
<rect x="151.1" y="745.9" width="635.9" height="4.9" fill="#000"/>
<rect x="151.1" y="620.3" width="5" height="130.5" fill="#000"/>
<rect x="782.4" y="620.3" width="4.6" height="130.5" fill="#000"/>
<rect x="176.77" y="624.4" width="5" height="6.7" fill="#000"/>
<rect x="176.77" y="740" width="5" height="6.7" fill="#000"/>
<rect x="201.94" y="624.4" width="5" height="6.7" fill="#000"/>
<rect x="201.94" y="740" width="5" height="6.7" fill="#000"/>
<rect x="227.11" y="624.4" width="5" height="6.7" fill="#000"/>
<rect x="227.11" y="740" width="5" height="6.7" fill="#000"/>
<rect x="252.28" y="624.4" width="5" height="6.7" fill="#000"/>
<rect x="252.28" y="740" width="5" height="6.7" fill="#000"/>
<rect x="277.45" y="624.4" width="5" height="12.2" fill="#000"/>
<rect x="277.45" y="734.5" width="5" height="12.2" fill="#000"/>
<rect x="302.62" y="624.4" width="5" height="6.7" fill="#000"/>
<rect x="302.62" y="740" width="5" height="6.7" fill="#000"/>
<rect x="327.79" y="624.4" width="5" height="6.7" fill="#000"/>
<rect x="327.79" y="740" width="5" height="6.7" fill="#000"/>
<rect x="352.96" y="624.4" width="5" height="6.7" fill="#000"/>
<rect x="352.96" y="740" width="5" height="6.7" fill="#000"/>
<rect x="378.13" y="624.4" width="5" height="6.7" fill="#000"/>
<rect x="378.13" y="740" width="5" height="6.7" fill="#000"/>
<rect x="403.3" y="624.4" width="5" height="12.2" fill="#000"/>
<rect x="403.3" y="734.5" width="5" height="12.2" fill="#000"/>
<rect x="428.47" y="624.4" width="5" height="6.7" fill="#000"/>
<rect x="428.47" y="740" width="5" height="6.7" fill="#000"/>
<rect x="453.64" y="624.4" width="5" height="6.7" fill="#000"/>
<rect x="453.64" y="740" width="5" height="6.7" fill="#000"/>
<rect x="478.81" y="624.4" width="5" height="6.7" fill="#000"/>
<rect x="478.81" y="740" width="5" height="6.7" fill="#000"/>
<rect x="503.98" y="624.4" width="5" height="6.7" fill="#000"/>
<rect x="503.98" y="740" width="5" height="6.7" fill="#000"/>
<rect x="529.15" y="624.4" width="5" height="12.2" fill="#000"/>
<rect x="529.15" y="734.5" width="5" height="12.2" fill="#000"/>
<rect x="554.32" y="624.4" width="5" height="6.7" fill="#000"/>
<rect x="554.32" y="740" width="5" height="6.7" fill="#000"/>
<rect x="579.49" y="624.4" width="5" height="6.7" fill="#000"/>
<rect x="579.49" y="740" width="5" height="6.7" fill="#000"/>
<rect x="604.66" y="624.4" width="5" height="6.7" fill="#000"/>
<rect x="604.66" y="740" width="5" height="6.7" fill="#000"/>
<rect x="629.83" y="624.4" width="5" height="6.7" fill="#000"/>
<rect x="629.83" y="740" width="5" height="6.7" fill="#000"/>
<rect x="655" y="624.4" width="5" height="12.2" fill="#000"/>
<rect x="655" y="734.5" width="5" height="12.2" fill="#000"/>
<rect x="680.17" y="624.4" width="5" height="6.7" fill="#000"/>
<rect x="680.17" y="740" width="5" height="6.7" fill="#000"/>
<rect x="705.34" y="624.4" width="5" height="6.7" fill="#000"/>
<rect x="705.34" y="740" width="5" height="6.7" fill="#000"/>
<rect x="730.51" y="624.4" width="5" height="6.7" fill="#000"/>
<rect x="730.51" y="740" width="5" height="6.7" fill="#000"/>
<rect x="755.68" y="624.4" width="5" height="6.7" fill="#000"/>
<rect x="755.68" y="740" width="5" height="6.7" fill="#000"/>
<rect x="155.2" y="727.95" width="6.7" height="5" fill="#000"/>
<rect x="776.2" y="727.95" width="6.7" height="5" fill="#000"/>
<rect x="155.2" y="709.9" width="12.4" height="5" fill="#000"/>
<rect x="770.5" y="709.9" width="12.4" height="5" fill="#000"/>
<rect x="155.2" y="691.85" width="6.7" height="5" fill="#000"/>
<rect x="776.2" y="691.85" width="6.7" height="5" fill="#000"/>
<rect x="155.2" y="673.8" width="12.4" height="5" fill="#000"/>
<rect x="770.5" y="673.8" width="12.4" height="5" fill="#000"/>
<rect x="155.2" y="655.75" width="6.7" height="5" fill="#000"/>
<rect x="776.2" y="655.75" width="6.7" height="5" fill="#000"/>
<rect x="155.2" y="637.7" width="12.4" height="5" fill="#000"/>
<rect x="770.5" y="637.7" width="12.4" height="5" fill="#000"/>
<rect x="976.2" y="712.942" width="101.497" height="35.5585" fill="#ff0000"/>
<rect x="972.1" y="620.3" width="635.3" height="4.6" fill="#000"/>
<rect x="972.1" y="745.9" width="635.3" height="4.9" fill="#000"/>
<rect x="972.1" y="620.3" width="5" height="130.5" fill="#000"/>
<rect x="1602.8" y="620.3" width="4.6" height="130.5" fill="#000"/>
<rect x="997.17" y="624.4" width="5" height="6.7" fill="#000"/>
<rect x="997.17" y="740" width="5" height="6.7" fill="#000"/>
<rect x="1022.34" y="624.4" width="5" height="6.7" fill="#000"/>
<rect x="1022.34" y="740" width="5" height="6.7" fill="#000"/>
<rect x="1047.51" y="624.4" width="5" height="6.7" fill="#000"/>
<rect x="1047.51" y="740" width="5" height="6.7" fill="#000"/>
<rect x="1072.68" y="624.4" width="5" height="6.7" fill="#000"/>
<rect x="1072.68" y="740" width="5" height="6.7" fill="#000"/>
<rect x="1097.85" y="624.4" width="5" height="12.2" fill="#000"/>
<rect x="1097.85" y="734.5" width="5" height="12.2" fill="#000"/>
<rect x="1123.02" y="624.4" width="5" height="6.7" fill="#000"/>
<rect x="1123.02" y="740" width="5" height="6.7" fill="#000"/>
<rect x="1148.19" y="624.4" width="5" height="6.7" fill="#000"/>
<rect x="1148.19" y="740" width="5" height="6.7" fill="#000"/>
<rect x="1173.36" y="624.4" width="5" height="6.7" fill="#000"/>
<rect x="1173.36" y="740" width="5" height="6.7" fill="#000"/>
<rect x="1198.53" y="624.4" width="5" height="6.7" fill="#000"/>
<rect x="1198.53" y="740" width="5" height="6.7" fill="#000"/>
<rect x="1223.7" y="624.4" width="5" height="12.2" fill="#000"/>
<rect x="1223.7" y="734.5" width="5" height="12.2" fill="#000"/>
<rect x="1248.87" y="624.4" width="5" height="6.7" fill="#000"/>
<rect x="1248.87" y="740" width="5" height="6.7" fill="#000"/>
<rect x="1274.04" y="624.4" width="5" height="6.7" fill="#000"/>
<rect x="1274.04" y="740" width="5" height="6.7" fill="#000"/>
<rect x="1299.21" y="624.4" width="5" height="6.7" fill="#000"/>
<rect x="1299.21" y="740" width="5" height="6.7" fill="#000"/>
<rect x="1324.38" y="624.4" width="5" height="6.7" fill="#000"/>
<rect x="1324.38" y="740" width="5" height="6.7" fill="#000"/>
<rect x="1349.55" y="624.4" width="5" height="12.2" fill="#000"/>
<rect x="1349.55" y="734.5" width="5" height="12.2" fill="#000"/>
<rect x="1374.72" y="624.4" width="5" height="6.7" fill="#000"/>
<rect x="1374.72" y="740" width="5" height="6.7" fill="#000"/>
<rect x="1399.89" y="624.4" width="5" height="6.7" fill="#000"/>
<rect x="1399.89" y="740" width="5" height="6.7" fill="#000"/>
<rect x="1425.06" y="624.4" width="5" height="6.7" fill="#000"/>
<rect x="1425.06" y="740" width="5" height="6.7" fill="#000"/>
<rect x="1450.23" y="624.4" width="5" height="6.7" fill="#000"/>
<rect x="1450.23" y="740" width="5" height="6.7" fill="#000"/>
<rect x="1475.4" y="624.4" width="5" height="12.2" fill="#000"/>
<rect x="1475.4" y="734.5" width="5" height="12.2" fill="#000"/>
<rect x="1500.57" y="624.4" width="5" height="6.7" fill="#000"/>
<rect x="1500.57" y="740" width="5" height="6.7" fill="#000"/>
<rect x="1525.74" y="624.4" width="5" height="6.7" fill="#000"/>
<rect x="1525.74" y="740" width="5" height="6.7" fill="#000"/>
<rect x="1550.91" y="624.4" width="5" height="6.7" fill="#000"/>
<rect x="1550.91" y="740" width="5" height="6.7" fill="#000"/>
<rect x="1576.08" y="624.4" width="5" height="6.7" fill="#000"/>
<rect x="1576.08" y="740" width="5" height="6.7" fill="#000"/>
<rect x="976.2" y="727.95" width="6.7" height="5" fill="#000"/>
<rect x="1596.6" y="727.95" width="6.7" height="5" fill="#000"/>
<rect x="976.2" y="709.9" width="12.4" height="5" fill="#000"/>
<rect x="1590.9" y="709.9" width="12.4" height="5" fill="#000"/>
<rect x="976.2" y="691.85" width="6.7" height="5" fill="#000"/>
<rect x="1596.6" y="691.85" width="6.7" height="5" fill="#000"/>
<rect x="976.2" y="673.8" width="12.4" height="5" fill="#000"/>
<rect x="1590.9" y="673.8" width="12.4" height="5" fill="#000"/>
<rect x="976.2" y="655.75" width="6.7" height="5" fill="#000"/>
<rect x="1596.6" y="655.75" width="6.7" height="5" fill="#000"/>
<rect x="976.2" y="637.7" width="12.4" height="5" fill="#000"/>
<rect x="1590.9" y="637.7" width="12.4" height="5" fill="#000"/>
<rect x="206" y="23" width="3" height="1" fill="#000"/>
<rect x="318" y="23" width="3" height="1" fill="#000"/>
<rect x="1623.7" y="26.2" width="0.9" height="590.3" fill="#000"/>
<rect x="1653.3" y="26.2" width="0.9" height="590.3" fill="#000"/>
<rect x="1623.7" y="26.2" width="30.5" height="1.5" fill="#000"/>
<rect x="1623.7" y="615.6" width="30.5" height="1" fill="#000"/>
<rect x="1648" y="585.875" width="6" height="1.1" fill="#000"/>
<rect x="1648" y="556.4" width="6" height="1.1" fill="#000"/>
<rect x="1648" y="526.925" width="6" height="1.1" fill="#000"/>
<rect x="1644.5" y="497.45" width="9.5" height="1.1" fill="#000"/>
<rect x="1648" y="467.975" width="6" height="1.1" fill="#000"/>
<rect x="1648" y="438.5" width="6" height="1.1" fill="#000"/>
<rect x="1648" y="409.025" width="6" height="1.1" fill="#000"/>
<rect x="1644.5" y="379.55" width="9.5" height="1.1" fill="#000"/>
<rect x="1648" y="350.075" width="6" height="1.1" fill="#000"/>
<rect x="1648" y="320.6" width="6" height="1.1" fill="#000"/>
<rect x="1648" y="291.125" width="6" height="1.1" fill="#000"/>
<rect x="1644.5" y="261.65" width="9.5" height="1.1" fill="#000"/>
<rect x="1648" y="232.175" width="6" height="1.1" fill="#000"/>
<rect x="1648" y="202.7" width="6" height="1.1" fill="#000"/>
<rect x="1648" y="173.225" width="6" height="1.1" fill="#000"/>
<rect x="1644.5" y="143.75" width="9.5" height="1.1" fill="#000"/>
<rect x="1648" y="114.275" width="6" height="1.1" fill="#000"/>
<rect x="1648" y="84.8" width="6" height="1.1" fill="#000"/>
<rect x="1648" y="55.325" width="6" height="1.1" fill="#000"/>
<text transform="translate(-1.77,48.60) scale(0.8960,1)" font-size="69.30" font-weight="bold">a</text>
<text transform="translate(823.63,48.60) scale(0.9915,1)" font-size="69.30" font-weight="bold">b</text>
<text transform="translate(146.55,121.60) scale(0.9840,1)" font-size="39.70" text-anchor="end">0.8</text>
<text transform="translate(146.55,280.20) scale(0.9840,1)" font-size="39.70" text-anchor="end">0.6</text>
<text transform="translate(146.55,438.80) scale(0.9840,1)" font-size="39.70" text-anchor="end">0.4</text>
<text transform="translate(146.55,597.40) scale(0.9840,1)" font-size="39.70" text-anchor="end">0.2</text>
<text transform="translate(968.60,120.70) scale(0.9200,1)" font-size="37.50" class="dv" text-anchor="end">0.8</text>
<text transform="translate(968.60,279.30) scale(0.9200,1)" font-size="37.50" class="dv" text-anchor="end">0.6</text>
<text transform="translate(968.60,437.90) scale(0.9200,1)" font-size="37.50" class="dv" text-anchor="end">0.4</text>
<text transform="translate(968.60,596.50) scale(0.9200,1)" font-size="37.50" class="dv" text-anchor="end">0.2</text>
<text transform="translate(1659.40,630.20) scale(0.9200,1)" font-size="37.50" class="dv">0.0</text>
<text transform="translate(1659.40,512.30) scale(0.9200,1)" font-size="37.50" class="dv">0.2</text>
<text transform="translate(1659.40,394.40) scale(0.9200,1)" font-size="37.50" class="dv">0.4</text>
<text transform="translate(1659.40,276.50) scale(0.9200,1)" font-size="37.50" class="dv">0.6</text>
<text transform="translate(1659.40,158.60) scale(0.9200,1)" font-size="37.50" class="dv">0.8</text>
<text transform="translate(1659.40,40.70) scale(0.9200,1)" font-size="37.50" class="dv">1.0</text>
<text transform="translate(146.40,757.90) scale(0.9950,1)" font-size="34.60" text-anchor="end">0.0</text>
<text transform="translate(146.40,721.87) scale(0.9950,1)" font-size="34.60" text-anchor="end">1.0</text>
<text transform="translate(146.40,685.84) scale(0.9950,1)" font-size="34.60" text-anchor="end">2.0</text>
<text transform="translate(146.40,649.81) scale(0.9950,1)" font-size="34.60" text-anchor="end">3.0</text>
<text transform="translate(966.70,757.90) scale(0.9950,1)" font-size="34.60" text-anchor="end">0.0</text>
<text transform="translate(966.70,721.87) scale(0.9950,1)" font-size="34.60" text-anchor="end">1.0</text>
<text transform="translate(966.70,685.84) scale(0.9950,1)" font-size="34.60" text-anchor="end">2.0</text>
<text transform="translate(966.70,649.81) scale(0.9950,1)" font-size="34.60" text-anchor="end">3.0</text>
<text transform="translate(154.00,784.90) scale(1.0000,1)" font-size="34.30" text-anchor="middle">0</text>
<text transform="translate(280.05,784.90) scale(1.0000,1)" font-size="34.30" text-anchor="middle">5</text>
<text transform="translate(406.10,784.90) scale(1.0000,1)" font-size="34.30" text-anchor="middle">10</text>
<text transform="translate(532.15,784.90) scale(1.0000,1)" font-size="34.30" text-anchor="middle">15</text>
<text transform="translate(658.20,784.90) scale(1.0000,1)" font-size="34.30" text-anchor="middle">20</text>
<text transform="translate(784.25,784.90) scale(1.0000,1)" font-size="34.30" text-anchor="middle">25</text>
<text transform="translate(468.50,835.40) scale(0.9850,1)" font-size="38.00" text-anchor="middle">Time [ms]</text>
<text transform="translate(974.10,784.90) scale(1.0000,1)" font-size="34.30" text-anchor="middle">0</text>
<text transform="translate(1100.15,784.90) scale(1.0000,1)" font-size="34.30" text-anchor="middle">5</text>
<text transform="translate(1226.20,784.90) scale(1.0000,1)" font-size="34.30" text-anchor="middle">10</text>
<text transform="translate(1352.25,784.90) scale(1.0000,1)" font-size="34.30" text-anchor="middle">15</text>
<text transform="translate(1478.30,784.90) scale(1.0000,1)" font-size="34.30" text-anchor="middle">20</text>
<text transform="translate(1604.35,784.90) scale(1.0000,1)" font-size="34.30" text-anchor="middle">25</text>
<text transform="translate(1288.60,835.40) scale(0.9850,1)" font-size="38.00" text-anchor="middle">Time [ms]</text>
<text transform="translate(59.70,389.20) rotate(-90) scale(1.1814,1)" font-size="43.00">r</text>
<text transform="translate(69.30,374.91) rotate(-90) scale(1.0192,1)" font-size="28.50">eff</text>
<text transform="translate(59.70,343.90) rotate(-90) scale(0.9107,1)" font-size="43.00">/a</text>
<text transform="translate(69.30,309.07) rotate(-90) scale(0.9670,1)" font-size="29.30">99</text>
<text transform="translate(879.70,394.00) rotate(-90) scale(1.1814,1)" font-size="43.00">r</text>
<text transform="translate(889.30,379.71) rotate(-90) scale(1.0192,1)" font-size="28.50">eff</text>
<text transform="translate(879.70,348.70) rotate(-90) scale(0.9107,1)" font-size="43.00">/a</text>
<text transform="translate(889.30,313.88) rotate(-90) scale(0.9670,1)" font-size="29.30">99</text>
<text transform="translate(49.10,773.71) rotate(-90) scale(0.9633,1)" font-size="39.00">P</text>
<text transform="translate(55.70,749.09) rotate(-90) scale(0.9759,1)" font-size="26.80">ECH</text>
<text transform="translate(49.10,684.53) rotate(-90) scale(0.9901,1)" font-size="38.00">[MW]</text>
<text transform="translate(869.40,773.71) rotate(-90) scale(0.9633,1)" font-size="39.00">P</text>
<text transform="translate(876.00,749.09) rotate(-90) scale(0.9759,1)" font-size="26.80">ECH</text>
<text transform="translate(869.40,684.53) rotate(-90) scale(0.9901,1)" font-size="38.00">[MW]</text>
<text transform="translate(1740.30,260.11) rotate(90) scale(0.9716,1)" font-size="43.50">δT</text>
<text transform="translate(1731.00,304.07) rotate(90) scale(1.0448,1)" font-size="28.20">e</text>
<text transform="translate(1740.30,320.30) rotate(90) scale(0.9615,1)" font-size="43.50">/δT</text>
<text transform="translate(1731.00,375.59) rotate(90) scale(0.9514,1)" font-size="28.20">e,max</text>
</svg>
</body></html>
